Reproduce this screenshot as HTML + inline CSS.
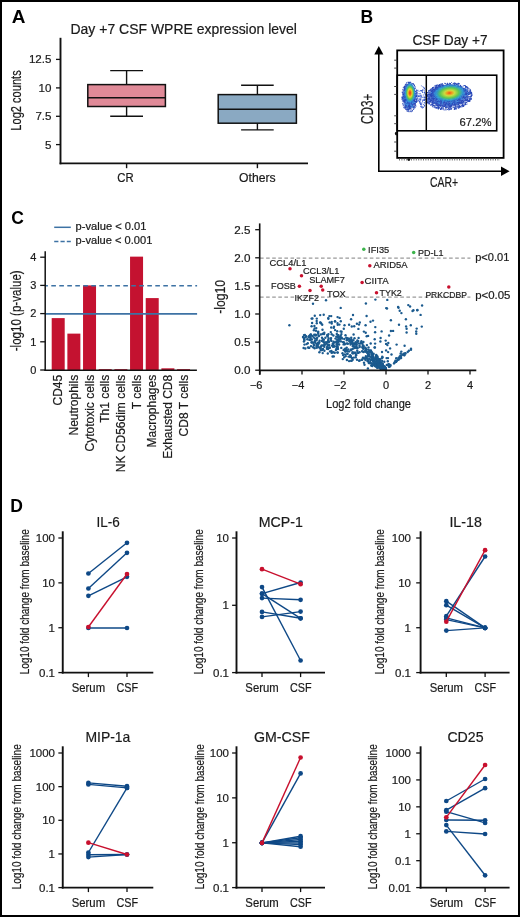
<!DOCTYPE html>
<html><head><meta charset="utf-8"><style>
html,body{margin:0;padding:0;background:#fff;}
svg{display:block;will-change:transform;}
text{font-family:"Liberation Sans", sans-serif;}
</style></head><body>
<svg width="520" height="917" viewBox="0 0 520 917">
<defs>
<radialGradient id="gL" cx="0.5" cy="0.5" r="0.5">
 <stop offset="0" stop-color="#ee3018"/><stop offset="0.2" stop-color="#f27a1e"/><stop offset="0.36" stop-color="#e4d834"/>
 <stop offset="0.56" stop-color="#5cc84e"/><stop offset="0.78" stop-color="#2ea6d8" stop-opacity="0.75"/><stop offset="1" stop-color="#2f6ed0" stop-opacity="0"/>
</radialGradient>
<radialGradient id="gR" cx="0.5" cy="0.5" r="0.5">
 <stop offset="0" stop-color="#f04a1a"/><stop offset="0.15" stop-color="#f29a20"/><stop offset="0.3" stop-color="#cadc40"/>
 <stop offset="0.55" stop-color="#5cc850"/><stop offset="0.78" stop-color="#2eb0d4" stop-opacity="0.7"/><stop offset="1" stop-color="#2f6ed0" stop-opacity="0"/>
</radialGradient>
</defs>
<rect x="0" y="0" width="520" height="917" fill="#fff"/>
<text x="11.8" y="22.7" font-size="17.5" text-anchor="start" fill="#000" font-weight="bold" textLength="13.7" lengthAdjust="spacingAndGlyphs" >A</text>
<text x="70.5" y="33.7" font-size="14" text-anchor="start" fill="#1a1a1a" stroke="#1a1a1a" stroke-width="0.2" textLength="226.4" lengthAdjust="spacingAndGlyphs" >Day +7 CSF WPRE expression level</text>
<line x1="60.5" y1="37.8" x2="60.5" y2="164.3" stroke="#111" stroke-width="1.9" />
<line x1="59.6" y1="163.4" x2="308" y2="163.4" stroke="#111" stroke-width="1.9" />
<line x1="56" y1="59.4" x2="60.4" y2="59.4" stroke="#111" stroke-width="1.3" />
<text x="51.5" y="63.3" font-size="11.6" text-anchor="end" fill="#1a1a1a" stroke="#1a1a1a" stroke-width="0.2" >12.5</text>
<line x1="56" y1="87.9" x2="60.4" y2="87.9" stroke="#111" stroke-width="1.3" />
<text x="51.5" y="91.80000000000001" font-size="11.6" text-anchor="end" fill="#1a1a1a" stroke="#1a1a1a" stroke-width="0.2" >10</text>
<line x1="56" y1="116.3" x2="60.4" y2="116.3" stroke="#111" stroke-width="1.3" />
<text x="51.5" y="120.2" font-size="11.6" text-anchor="end" fill="#1a1a1a" stroke="#1a1a1a" stroke-width="0.2" >7.5</text>
<line x1="56" y1="144.6" x2="60.4" y2="144.6" stroke="#111" stroke-width="1.3" />
<text x="51.5" y="148.5" font-size="11.6" text-anchor="end" fill="#1a1a1a" stroke="#1a1a1a" stroke-width="0.2" >5</text>
<text transform="translate(20.6,100.5) rotate(-90)" font-size="15" text-anchor="middle" fill="#1a1a1a" stroke="#1a1a1a" stroke-width="0.2" textLength="60.4" lengthAdjust="spacingAndGlyphs" >Log2 counts</text>
<line x1="126.6" y1="163.4" x2="126.6" y2="168.2" stroke="#111" stroke-width="1.4" />
<line x1="257.4" y1="163.4" x2="257.4" y2="168.2" stroke="#111" stroke-width="1.4" />
<text x="125.4" y="182.3" font-size="12" text-anchor="middle" fill="#1a1a1a" stroke="#1a1a1a" stroke-width="0.2" textLength="16.4" lengthAdjust="spacingAndGlyphs" >CR</text>
<text x="257.4" y="182.3" font-size="12" text-anchor="middle" fill="#1a1a1a" stroke="#1a1a1a" stroke-width="0.2" textLength="36.6" lengthAdjust="spacingAndGlyphs" >Others</text>
<line x1="126.6" y1="70.6" x2="126.6" y2="116.3" stroke="#111" stroke-width="1.4" />
<line x1="110.2" y1="70.6" x2="143" y2="70.6" stroke="#111" stroke-width="1.4" />
<line x1="110.2" y1="116.3" x2="143" y2="116.3" stroke="#111" stroke-width="1.4" />
<rect x="87.8" y="84.6" width="77.6" height="21.9" fill="#e08a98" stroke="#111" stroke-width="1.5" />
<line x1="87.8" y1="97.8" x2="165.4" y2="97.8" stroke="#111" stroke-width="1.6" />
<line x1="257.4" y1="85.2" x2="257.4" y2="129.9" stroke="#111" stroke-width="1.4" />
<line x1="241.1" y1="85.2" x2="273.7" y2="85.2" stroke="#111" stroke-width="1.4" />
<line x1="241.1" y1="129.9" x2="273.7" y2="129.9" stroke="#111" stroke-width="1.4" />
<rect x="218.2" y="94.6" width="78.2" height="28.6" fill="#8aa9c2" stroke="#111" stroke-width="1.5" />
<line x1="218.2" y1="109.3" x2="296.4" y2="109.3" stroke="#111" stroke-width="1.6" />
<text x="360.6" y="22.7" font-size="17.5" text-anchor="start" fill="#000" font-weight="bold" >B</text>
<text x="412.6" y="45.2" font-size="14" text-anchor="start" fill="#1a1a1a" stroke="#1a1a1a" stroke-width="0.2" textLength="75" lengthAdjust="spacingAndGlyphs" >CSF Day +7</text>
<line x1="378.8" y1="54" x2="378.8" y2="171.3" stroke="#000" stroke-width="1.6" />
<line x1="378.0" y1="171.3" x2="502" y2="171.3" stroke="#000" stroke-width="1.6" />
<path d="M374.3,54.6 L378.8,46 L383.4,54.6 Z" fill="#000"/>
<path d="M501,166.6 L509.6,171.3 L501,176 Z" fill="#000"/>
<text transform="translate(373.3,108.8) rotate(-90)" font-size="16" text-anchor="middle" fill="#1a1a1a" stroke="#1a1a1a" stroke-width="0.2" textLength="30.2" lengthAdjust="spacingAndGlyphs" >CD3+</text>
<text x="444" y="187" font-size="14" text-anchor="middle" fill="#1a1a1a" stroke="#1a1a1a" stroke-width="0.2" textLength="28" lengthAdjust="spacingAndGlyphs" >CAR+</text>
<ellipse cx="409.2" cy="96.2" rx="6.3" ry="12.6" fill="#2e52c0" opacity="0.75"/><ellipse cx="448.5" cy="95.8" rx="20" ry="11" fill="#2e52c0" opacity="0.75" transform="rotate(-4 448.5 95.8)"/><g><path fill="#2848b8" d="M404.4 87.6h0.9v0.9h-0.9zM408.7 81.9h0.9v0.9h-0.9zM414.2 98.3h0.9v0.9h-0.9zM411.0 94.1h0.9v0.9h-0.9zM405.8 97.8h0.9v0.9h-0.9zM412.4 97.0h0.9v0.9h-0.9zM407.8 110.8h0.9v0.9h-0.9zM409.9 92.0h0.9v0.9h-0.9zM407.5 93.5h0.9v0.9h-0.9zM410.0 102.4h0.9v0.9h-0.9zM416.5 94.9h0.9v0.9h-0.9zM403.1 93.5h0.9v0.9h-0.9zM411.4 110.7h0.9v0.9h-0.9zM412.2 91.9h0.9v0.9h-0.9zM407.5 100.5h0.9v0.9h-0.9zM407.3 107.2h0.9v0.9h-0.9zM415.5 96.8h0.9v0.9h-0.9zM411.3 87.5h0.9v0.9h-0.9zM407.1 105.6h0.9v0.9h-0.9zM410.0 96.3h0.9v0.9h-0.9zM409.2 82.6h0.9v0.9h-0.9zM405.4 104.7h0.9v0.9h-0.9zM410.5 96.6h0.9v0.9h-0.9zM411.4 108.7h0.9v0.9h-0.9zM416.2 90.2h0.9v0.9h-0.9zM402.4 94.5h0.9v0.9h-0.9zM414.4 104.6h0.9v0.9h-0.9zM416.7 99.9h0.9v0.9h-0.9zM412.7 100.9h0.9v0.9h-0.9zM405.1 108.8h0.9v0.9h-0.9zM405.4 94.4h0.9v0.9h-0.9zM411.4 98.8h0.9v0.9h-0.9zM406.2 82.3h0.9v0.9h-0.9zM414.7 95.6h0.9v0.9h-0.9zM406.4 100.1h0.9v0.9h-0.9zM404.6 99.0h0.9v0.9h-0.9zM416.3 101.5h0.9v0.9h-0.9zM410.4 92.7h0.9v0.9h-0.9zM408.3 81.7h0.9v0.9h-0.9zM413.0 102.3h0.9v0.9h-0.9zM413.5 107.7h0.9v0.9h-0.9zM416.5 96.4h0.9v0.9h-0.9zM414.1 95.1h0.9v0.9h-0.9zM405.4 97.5h0.9v0.9h-0.9zM407.1 99.3h0.9v0.9h-0.9zM415.0 93.6h0.9v0.9h-0.9zM405.0 96.5h0.9v0.9h-0.9zM410.7 82.7h0.9v0.9h-0.9zM404.8 106.7h0.9v0.9h-0.9zM405.7 85.4h0.9v0.9h-0.9zM405.0 105.9h0.9v0.9h-0.9zM410.0 84.3h0.9v0.9h-0.9zM407.1 110.8h0.9v0.9h-0.9zM414.7 97.3h0.9v0.9h-0.9zM409.2 108.6h0.9v0.9h-0.9zM405.0 85.8h0.9v0.9h-0.9zM405.7 106.1h0.9v0.9h-0.9zM405.0 107.7h0.9v0.9h-0.9zM413.6 87.6h0.9v0.9h-0.9zM403.8 95.3h0.9v0.9h-0.9zM412.8 108.4h0.9v0.9h-0.9zM406.8 84.8h0.9v0.9h-0.9zM408.9 91.2h0.9v0.9h-0.9zM406.8 88.6h0.9v0.9h-0.9zM404.3 87.3h0.9v0.9h-0.9zM411.8 97.4h0.9v0.9h-0.9zM403.5 100.8h0.9v0.9h-0.9zM408.4 94.8h0.9v0.9h-0.9zM406.0 97.6h0.9v0.9h-0.9zM408.0 101.5h0.9v0.9h-0.9zM409.6 98.4h0.9v0.9h-0.9zM404.8 89.3h0.9v0.9h-0.9zM409.8 110.9h0.9v0.9h-0.9zM408.4 105.3h0.9v0.9h-0.9zM414.6 105.6h0.9v0.9h-0.9zM407.7 94.1h0.9v0.9h-0.9zM405.2 94.3h0.9v0.9h-0.9zM411.2 88.2h0.9v0.9h-0.9zM411.6 85.7h0.9v0.9h-0.9zM404.5 90.3h0.9v0.9h-0.9zM416.7 92.5h0.9v0.9h-0.9zM409.3 96.4h0.9v0.9h-0.9zM413.6 103.3h0.9v0.9h-0.9zM404.1 86.1h0.9v0.9h-0.9zM405.8 103.0h0.9v0.9h-0.9zM413.6 95.0h0.9v0.9h-0.9zM416.5 93.0h0.9v0.9h-0.9zM414.4 95.3h0.9v0.9h-0.9zM405.7 100.4h0.9v0.9h-0.9zM408.0 106.1h0.9v0.9h-0.9zM413.5 104.5h0.9v0.9h-0.9zM410.6 83.1h0.9v0.9h-0.9zM414.6 97.4h0.9v0.9h-0.9zM409.9 90.0h0.9v0.9h-0.9zM408.9 101.5h0.9v0.9h-0.9zM405.2 90.3h0.9v0.9h-0.9zM405.6 87.6h0.9v0.9h-0.9zM409.5 89.1h0.9v0.9h-0.9zM405.1 94.8h0.9v0.9h-0.9zM405.0 98.3h0.9v0.9h-0.9zM409.0 85.3h0.9v0.9h-0.9zM401.9 100.5h0.9v0.9h-0.9zM413.4 89.6h0.9v0.9h-0.9zM404.1 101.3h0.9v0.9h-0.9zM407.6 85.3h0.9v0.9h-0.9zM405.8 102.3h0.9v0.9h-0.9zM411.0 91.9h0.9v0.9h-0.9zM415.8 102.1h0.9v0.9h-0.9zM407.6 87.8h0.9v0.9h-0.9zM411.3 94.0h0.9v0.9h-0.9zM403.7 97.9h0.9v0.9h-0.9zM412.5 105.6h0.9v0.9h-0.9zM409.8 93.7h0.9v0.9h-0.9zM410.8 84.9h0.9v0.9h-0.9zM415.7 98.5h0.9v0.9h-0.9zM408.8 94.1h0.9v0.9h-0.9zM411.0 91.3h0.9v0.9h-0.9zM408.6 92.0h0.9v0.9h-0.9zM407.2 110.5h0.9v0.9h-0.9zM406.9 99.1h0.9v0.9h-0.9zM408.3 94.9h0.9v0.9h-0.9zM410.5 97.7h0.9v0.9h-0.9zM403.3 90.7h0.9v0.9h-0.9zM405.6 99.7h0.9v0.9h-0.9zM405.0 90.6h0.9v0.9h-0.9zM415.2 100.7h0.9v0.9h-0.9zM412.7 106.0h0.9v0.9h-0.9zM403.6 92.6h0.9v0.9h-0.9zM408.7 107.2h0.9v0.9h-0.9zM406.8 96.0h0.9v0.9h-0.9zM409.6 104.9h0.9v0.9h-0.9zM407.8 84.9h0.9v0.9h-0.9zM414.6 102.6h0.9v0.9h-0.9zM406.4 92.9h0.9v0.9h-0.9zM412.9 89.6h0.9v0.9h-0.9zM415.7 98.8h0.9v0.9h-0.9zM411.6 98.1h0.9v0.9h-0.9zM409.6 100.7h0.9v0.9h-0.9zM415.4 94.5h0.9v0.9h-0.9zM406.2 90.7h0.9v0.9h-0.9zM409.6 104.4h0.9v0.9h-0.9zM407.4 99.6h0.9v0.9h-0.9zM412.2 86.2h0.9v0.9h-0.9zM412.4 88.2h0.9v0.9h-0.9zM404.4 90.5h0.9v0.9h-0.9zM410.0 97.6h0.9v0.9h-0.9zM409.5 98.6h0.9v0.9h-0.9zM409.2 96.4h0.9v0.9h-0.9zM401.9 99.2h0.9v0.9h-0.9zM407.2 97.3h0.9v0.9h-0.9zM410.7 100.7h0.9v0.9h-0.9zM411.1 93.1h0.9v0.9h-0.9zM409.1 103.6h0.9v0.9h-0.9zM409.7 106.4h0.9v0.9h-0.9zM416.7 99.4h0.9v0.9h-0.9zM406.8 85.3h0.9v0.9h-0.9zM401.6 99.1h0.9v0.9h-0.9zM407.6 108.2h0.9v0.9h-0.9zM408.9 91.4h0.9v0.9h-0.9zM409.4 99.8h0.9v0.9h-0.9zM402.8 105.3h0.9v0.9h-0.9zM405.5 97.9h0.9v0.9h-0.9zM408.5 84.0h0.9v0.9h-0.9zM405.6 83.5h0.9v0.9h-0.9zM406.3 89.2h0.9v0.9h-0.9zM415.6 101.4h0.9v0.9h-0.9zM408.2 97.8h0.9v0.9h-0.9zM405.0 95.5h0.9v0.9h-0.9zM410.6 98.2h0.9v0.9h-0.9zM410.5 95.5h0.9v0.9h-0.9zM409.3 99.1h0.9v0.9h-0.9zM409.0 105.4h0.9v0.9h-0.9zM408.7 98.9h0.9v0.9h-0.9zM411.5 105.7h0.9v0.9h-0.9zM404.7 102.5h0.9v0.9h-0.9zM413.5 103.2h0.9v0.9h-0.9zM414.4 91.2h0.9v0.9h-0.9zM414.7 97.7h0.9v0.9h-0.9zM403.5 97.4h0.9v0.9h-0.9zM408.0 82.2h0.9v0.9h-0.9zM407.5 105.4h0.9v0.9h-0.9zM412.2 101.6h0.9v0.9h-0.9zM415.0 103.4h0.9v0.9h-0.9zM410.4 99.0h0.9v0.9h-0.9zM409.3 100.0h0.9v0.9h-0.9zM409.2 99.4h0.9v0.9h-0.9zM408.8 94.1h0.9v0.9h-0.9zM407.8 99.2h0.9v0.9h-0.9zM405.7 100.2h0.9v0.9h-0.9zM414.1 89.3h0.9v0.9h-0.9zM409.5 85.5h0.9v0.9h-0.9zM404.9 84.1h0.9v0.9h-0.9zM408.3 84.2h0.9v0.9h-0.9zM407.5 99.5h0.9v0.9h-0.9zM411.7 98.6h0.9v0.9h-0.9zM408.9 99.4h0.9v0.9h-0.9zM409.7 85.7h0.9v0.9h-0.9zM412.1 102.5h0.9v0.9h-0.9zM414.1 85.0h0.9v0.9h-0.9zM405.3 100.1h0.9v0.9h-0.9zM408.9 97.5h0.9v0.9h-0.9zM408.9 92.8h0.9v0.9h-0.9zM406.5 95.5h0.9v0.9h-0.9zM415.6 91.5h0.9v0.9h-0.9zM412.2 101.7h0.9v0.9h-0.9zM404.7 100.3h0.9v0.9h-0.9zM410.0 81.9h0.9v0.9h-0.9zM407.5 94.3h0.9v0.9h-0.9zM411.1 88.1h0.9v0.9h-0.9zM414.8 98.8h0.9v0.9h-0.9zM401.8 98.1h0.9v0.9h-0.9zM408.7 102.3h0.9v0.9h-0.9zM405.2 93.3h0.9v0.9h-0.9zM407.1 101.8h0.9v0.9h-0.9zM416.3 95.0h0.9v0.9h-0.9zM407.2 99.3h0.9v0.9h-0.9zM411.8 87.8h0.9v0.9h-0.9zM414.5 103.8h0.9v0.9h-0.9zM411.7 93.1h0.9v0.9h-0.9zM406.2 83.7h0.9v0.9h-0.9zM404.2 87.1h0.9v0.9h-0.9zM403.4 95.7h0.9v0.9h-0.9zM411.0 104.5h0.9v0.9h-0.9zM407.5 104.5h0.9v0.9h-0.9zM402.8 98.4h0.9v0.9h-0.9zM412.2 83.1h0.9v0.9h-0.9zM407.0 85.2h0.9v0.9h-0.9zM405.4 105.0h0.9v0.9h-0.9zM406.9 87.1h0.9v0.9h-0.9zM412.9 100.8h0.9v0.9h-0.9zM403.3 90.2h0.9v0.9h-0.9zM412.5 93.5h0.9v0.9h-0.9zM408.9 93.4h0.9v0.9h-0.9zM416.4 92.7h0.9v0.9h-0.9zM406.5 83.8h0.9v0.9h-0.9zM410.6 106.5h0.9v0.9h-0.9zM411.9 92.6h0.9v0.9h-0.9zM409.0 96.8h0.9v0.9h-0.9zM407.0 100.0h0.9v0.9h-0.9zM414.2 90.4h0.9v0.9h-0.9zM407.6 99.1h0.9v0.9h-0.9zM408.2 88.2h0.9v0.9h-0.9zM411.6 92.5h0.9v0.9h-0.9zM403.8 86.5h0.9v0.9h-0.9zM412.2 106.6h0.9v0.9h-0.9zM414.4 100.7h0.9v0.9h-0.9zM412.8 84.1h0.9v0.9h-0.9zM404.3 101.2h0.9v0.9h-0.9zM412.4 92.3h0.9v0.9h-0.9zM412.1 95.3h0.9v0.9h-0.9zM411.3 97.3h0.9v0.9h-0.9zM410.4 101.7h0.9v0.9h-0.9zM404.1 89.9h0.9v0.9h-0.9zM414.0 100.2h0.9v0.9h-0.9zM413.1 83.6h0.9v0.9h-0.9zM404.5 84.9h0.9v0.9h-0.9zM410.0 108.7h0.9v0.9h-0.9zM411.6 99.9h0.9v0.9h-0.9zM410.3 99.6h0.9v0.9h-0.9zM414.5 104.5h0.9v0.9h-0.9zM408.6 83.0h0.9v0.9h-0.9zM416.1 89.6h0.9v0.9h-0.9zM403.7 85.9h0.9v0.9h-0.9zM412.0 98.8h0.9v0.9h-0.9zM405.7 103.3h0.9v0.9h-0.9zM413.2 101.0h0.9v0.9h-0.9zM404.9 94.2h0.9v0.9h-0.9zM404.7 105.2h0.9v0.9h-0.9zM401.4 96.9h0.9v0.9h-0.9zM409.6 83.9h0.9v0.9h-0.9zM408.6 100.6h0.9v0.9h-0.9zM408.6 82.0h0.9v0.9h-0.9zM406.4 101.4h0.9v0.9h-0.9zM410.6 85.8h0.9v0.9h-0.9zM408.0 104.2h0.9v0.9h-0.9zM413.7 99.3h0.9v0.9h-0.9zM409.7 108.5h0.9v0.9h-0.9zM413.4 102.1h0.9v0.9h-0.9zM414.7 95.5h0.9v0.9h-0.9zM412.8 101.0h0.9v0.9h-0.9zM409.3 95.9h0.9v0.9h-0.9zM412.7 97.2h0.9v0.9h-0.9zM404.9 98.7h0.9v0.9h-0.9zM410.7 111.3h0.9v0.9h-0.9zM404.4 99.9h0.9v0.9h-0.9zM415.3 93.1h0.9v0.9h-0.9zM407.8 96.4h0.9v0.9h-0.9zM403.8 101.0h0.9v0.9h-0.9zM414.2 89.7h0.9v0.9h-0.9zM415.9 98.5h0.9v0.9h-0.9zM402.9 103.8h0.9v0.9h-0.9zM403.4 107.1h0.9v0.9h-0.9zM409.5 82.2h0.9v0.9h-0.9zM402.3 103.6h0.9v0.9h-0.9zM412.4 96.3h0.9v0.9h-0.9zM405.5 97.9h0.9v0.9h-0.9zM408.1 92.7h0.9v0.9h-0.9zM413.2 100.3h0.9v0.9h-0.9zM415.1 87.9h0.9v0.9h-0.9zM412.9 83.3h0.9v0.9h-0.9zM407.2 93.8h0.9v0.9h-0.9zM410.1 95.8h0.9v0.9h-0.9zM411.1 105.0h0.9v0.9h-0.9zM404.4 105.9h0.9v0.9h-0.9zM412.3 104.9h0.9v0.9h-0.9zM411.0 98.7h0.9v0.9h-0.9zM406.5 89.8h0.9v0.9h-0.9zM402.4 89.1h0.9v0.9h-0.9zM409.5 107.4h0.9v0.9h-0.9zM408.9 91.9h0.9v0.9h-0.9zM402.8 98.0h0.9v0.9h-0.9zM404.6 101.5h0.9v0.9h-0.9zM403.9 88.0h0.9v0.9h-0.9zM413.6 98.6h0.9v0.9h-0.9zM408.8 97.8h0.9v0.9h-0.9zM404.9 84.4h0.9v0.9h-0.9zM405.5 104.1h0.9v0.9h-0.9zM416.7 91.8h0.9v0.9h-0.9zM408.3 101.5h0.9v0.9h-0.9zM402.9 100.5h0.9v0.9h-0.9zM404.7 94.9h0.9v0.9h-0.9zM402.4 92.1h0.9v0.9h-0.9zM412.0 102.7h0.9v0.9h-0.9zM410.5 105.7h0.9v0.9h-0.9zM410.9 97.8h0.9v0.9h-0.9zM412.7 95.1h0.9v0.9h-0.9zM408.1 109.6h0.9v0.9h-0.9zM412.1 86.3h0.9v0.9h-0.9zM404.6 104.0h0.9v0.9h-0.9zM412.7 90.0h0.9v0.9h-0.9zM411.5 93.2h0.9v0.9h-0.9zM408.8 85.7h0.9v0.9h-0.9zM410.4 96.6h0.9v0.9h-0.9zM410.0 94.9h0.9v0.9h-0.9zM407.3 94.3h0.9v0.9h-0.9zM406.7 92.5h0.9v0.9h-0.9zM411.2 95.2h0.9v0.9h-0.9zM410.5 98.2h0.9v0.9h-0.9zM403.2 99.4h0.9v0.9h-0.9zM414.8 101.5h0.9v0.9h-0.9zM410.4 92.9h0.9v0.9h-0.9zM409.2 96.8h0.9v0.9h-0.9zM409.5 86.2h0.9v0.9h-0.9zM411.0 101.6h0.9v0.9h-0.9zM408.6 111.3h0.9v0.9h-0.9zM408.2 99.2h0.9v0.9h-0.9zM403.9 101.7h0.9v0.9h-0.9zM412.6 104.2h0.9v0.9h-0.9zM407.3 87.8h0.9v0.9h-0.9zM411.4 102.0h0.9v0.9h-0.9zM403.7 96.9h0.9v0.9h-0.9zM406.7 88.7h0.9v0.9h-0.9zM410.7 83.1h0.9v0.9h-0.9zM409.0 104.8h0.9v0.9h-0.9zM412.0 92.1h0.9v0.9h-0.9zM411.3 95.4h0.9v0.9h-0.9zM409.7 88.6h0.9v0.9h-0.9zM412.4 87.3h0.9v0.9h-0.9zM416.7 101.1h0.9v0.9h-0.9zM408.6 89.7h0.9v0.9h-0.9zM405.8 100.8h0.9v0.9h-0.9zM408.2 87.7h0.9v0.9h-0.9zM410.2 94.4h0.9v0.9h-0.9zM415.7 91.9h0.9v0.9h-0.9zM413.4 90.3h0.9v0.9h-0.9zM409.3 98.2h0.9v0.9h-0.9zM405.7 93.6h0.9v0.9h-0.9zM416.2 90.5h0.9v0.9h-0.9zM407.2 97.3h0.9v0.9h-0.9zM407.4 95.7h0.9v0.9h-0.9zM414.7 95.6h0.9v0.9h-0.9zM401.7 91.8h0.9v0.9h-0.9zM406.4 99.1h0.9v0.9h-0.9zM404.7 104.4h0.9v0.9h-0.9zM412.8 92.7h0.9v0.9h-0.9zM410.1 98.5h0.9v0.9h-0.9zM413.9 92.9h0.9v0.9h-0.9zM404.5 92.0h0.9v0.9h-0.9zM407.8 109.0h0.9v0.9h-0.9zM409.5 85.2h0.9v0.9h-0.9zM411.2 100.9h0.9v0.9h-0.9zM415.6 105.7h0.9v0.9h-0.9zM411.0 100.4h0.9v0.9h-0.9zM403.9 87.0h0.9v0.9h-0.9zM412.5 107.1h0.9v0.9h-0.9zM409.1 104.8h0.9v0.9h-0.9zM415.4 100.6h0.9v0.9h-0.9zM406.2 106.1h0.9v0.9h-0.9zM405.9 88.8h0.9v0.9h-0.9zM408.4 104.3h0.9v0.9h-0.9zM410.9 93.3h0.9v0.9h-0.9zM411.5 95.8h0.9v0.9h-0.9zM405.4 85.8h0.9v0.9h-0.9zM412.9 93.9h0.9v0.9h-0.9zM413.0 87.0h0.9v0.9h-0.9zM407.3 89.3h0.9v0.9h-0.9zM408.6 86.4h0.9v0.9h-0.9zM410.0 91.6h0.9v0.9h-0.9zM409.1 96.5h0.9v0.9h-0.9zM409.8 94.5h0.9v0.9h-0.9zM404.2 94.3h0.9v0.9h-0.9zM416.4 94.3h0.9v0.9h-0.9zM409.7 110.2h0.9v0.9h-0.9zM407.2 91.5h0.9v0.9h-0.9zM409.1 97.5h0.9v0.9h-0.9zM409.0 86.3h0.9v0.9h-0.9zM405.6 99.5h0.9v0.9h-0.9zM403.7 89.1h0.9v0.9h-0.9zM403.2 100.7h0.9v0.9h-0.9zM410.6 92.4h0.9v0.9h-0.9zM409.8 96.9h0.9v0.9h-0.9zM404.5 98.9h0.9v0.9h-0.9zM410.9 87.2h0.9v0.9h-0.9zM411.1 83.9h0.9v0.9h-0.9zM404.1 86.9h0.9v0.9h-0.9zM412.7 87.3h0.9v0.9h-0.9zM416.6 98.3h0.9v0.9h-0.9zM413.0 99.7h0.9v0.9h-0.9zM412.7 101.5h0.9v0.9h-0.9zM414.0 96.7h0.9v0.9h-0.9zM407.2 108.6h0.9v0.9h-0.9zM416.3 92.4h0.9v0.9h-0.9zM408.0 90.8h0.9v0.9h-0.9zM408.4 97.4h0.9v0.9h-0.9zM402.7 100.1h0.9v0.9h-0.9zM406.4 84.6h0.9v0.9h-0.9zM414.4 85.9h0.9v0.9h-0.9zM405.9 86.4h0.9v0.9h-0.9zM414.0 88.1h0.9v0.9h-0.9zM407.6 102.4h0.9v0.9h-0.9zM406.4 84.6h0.9v0.9h-0.9zM411.5 89.4h0.9v0.9h-0.9zM414.1 102.9h0.9v0.9h-0.9zM409.1 97.3h0.9v0.9h-0.9zM412.0 103.9h0.9v0.9h-0.9zM401.8 91.9h0.9v0.9h-0.9zM411.3 89.7h0.9v0.9h-0.9zM409.4 97.1h0.9v0.9h-0.9zM414.7 100.6h0.9v0.9h-0.9zM410.8 87.5h0.9v0.9h-0.9zM414.4 90.9h0.9v0.9h-0.9zM404.8 100.7h0.9v0.9h-0.9zM410.7 90.8h0.9v0.9h-0.9zM414.2 101.0h0.9v0.9h-0.9zM410.4 108.3h0.9v0.9h-0.9zM408.6 87.6h0.9v0.9h-0.9zM406.1 109.1h0.9v0.9h-0.9zM408.2 92.6h0.9v0.9h-0.9zM407.4 96.1h0.9v0.9h-0.9zM408.4 94.8h0.9v0.9h-0.9zM404.1 95.7h0.9v0.9h-0.9zM408.3 105.8h0.9v0.9h-0.9zM414.9 101.7h0.9v0.9h-0.9zM412.5 100.5h0.9v0.9h-0.9zM412.7 93.4h0.9v0.9h-0.9zM410.9 95.3h0.9v0.9h-0.9zM407.5 101.5h0.9v0.9h-0.9zM415.2 104.6h0.9v0.9h-0.9zM406.2 107.3h0.9v0.9h-0.9zM412.3 98.8h0.9v0.9h-0.9zM408.4 103.2h0.9v0.9h-0.9zM406.2 104.9h0.9v0.9h-0.9zM412.4 87.5h0.9v0.9h-0.9zM405.7 90.6h0.9v0.9h-0.9zM407.1 98.5h0.9v0.9h-0.9zM407.7 104.4h0.9v0.9h-0.9zM404.6 89.7h0.9v0.9h-0.9zM409.1 94.2h0.9v0.9h-0.9zM414.4 104.7h0.9v0.9h-0.9zM414.5 102.2h0.9v0.9h-0.9zM407.9 108.1h0.9v0.9h-0.9zM411.4 103.2h0.9v0.9h-0.9zM407.3 86.9h0.9v0.9h-0.9zM403.9 87.0h0.9v0.9h-0.9zM411.4 105.3h0.9v0.9h-0.9zM414.9 105.7h0.9v0.9h-0.9zM404.5 106.1h0.9v0.9h-0.9zM403.6 105.4h0.9v0.9h-0.9zM411.5 96.4h0.9v0.9h-0.9zM405.6 98.4h0.9v0.9h-0.9zM411.4 104.5h0.9v0.9h-0.9zM409.0 108.0h0.9v0.9h-0.9zM403.7 100.9h0.9v0.9h-0.9zM416.1 99.5h0.9v0.9h-0.9zM407.3 91.0h0.9v0.9h-0.9zM401.7 96.2h0.9v0.9h-0.9zM409.9 89.1h0.9v0.9h-0.9zM413.2 109.0h0.9v0.9h-0.9zM414.2 99.3h0.9v0.9h-0.9zM412.3 98.3h0.9v0.9h-0.9zM416.1 95.6h0.9v0.9h-0.9zM411.4 97.4h0.9v0.9h-0.9zM412.0 110.7h0.9v0.9h-0.9zM411.1 98.1h0.9v0.9h-0.9zM415.9 96.1h0.9v0.9h-0.9zM409.9 89.9h0.9v0.9h-0.9zM411.0 102.6h0.9v0.9h-0.9zM408.2 86.7h0.9v0.9h-0.9zM413.1 97.0h0.9v0.9h-0.9zM408.3 83.9h0.9v0.9h-0.9zM414.0 90.8h0.9v0.9h-0.9zM409.0 98.6h0.9v0.9h-0.9zM408.9 106.1h0.9v0.9h-0.9zM409.3 104.9h0.9v0.9h-0.9zM414.2 93.8h0.9v0.9h-0.9zM405.8 92.2h0.9v0.9h-0.9zM406.1 101.3h0.9v0.9h-0.9zM410.2 89.4h0.9v0.9h-0.9zM409.5 97.2h0.9v0.9h-0.9zM413.1 96.8h0.9v0.9h-0.9zM409.6 102.4h0.9v0.9h-0.9zM407.9 108.9h0.9v0.9h-0.9zM411.3 110.6h0.9v0.9h-0.9zM407.3 84.3h0.9v0.9h-0.9zM401.9 97.6h0.9v0.9h-0.9zM411.8 99.2h0.9v0.9h-0.9zM403.8 98.8h0.9v0.9h-0.9zM406.3 104.6h0.9v0.9h-0.9zM402.1 94.6h0.9v0.9h-0.9zM404.3 89.2h0.9v0.9h-0.9zM407.8 103.1h0.9v0.9h-0.9zM407.7 92.9h0.9v0.9h-0.9zM403.9 100.1h0.9v0.9h-0.9zM409.9 95.9h0.9v0.9h-0.9zM405.4 96.6h0.9v0.9h-0.9zM411.6 104.0h0.9v0.9h-0.9zM410.7 94.7h0.9v0.9h-0.9zM408.6 95.4h0.9v0.9h-0.9zM409.7 103.6h0.9v0.9h-0.9zM409.0 106.4h0.9v0.9h-0.9zM406.7 97.0h0.9v0.9h-0.9zM403.8 98.0h0.9v0.9h-0.9zM410.2 81.7h0.9v0.9h-0.9zM403.0 96.1h0.9v0.9h-0.9zM406.1 107.2h0.9v0.9h-0.9zM404.5 88.6h0.9v0.9h-0.9zM415.0 90.9h0.9v0.9h-0.9zM409.9 107.9h0.9v0.9h-0.9zM408.1 94.5h0.9v0.9h-0.9zM403.8 97.0h0.9v0.9h-0.9zM408.0 83.6h0.9v0.9h-0.9zM403.9 100.3h0.9v0.9h-0.9zM413.3 96.1h0.9v0.9h-0.9zM415.1 103.2h0.9v0.9h-0.9zM406.0 87.9h0.9v0.9h-0.9zM412.3 104.4h0.9v0.9h-0.9zM404.4 88.3h0.9v0.9h-0.9zM409.9 93.9h0.9v0.9h-0.9zM402.4 103.0h0.9v0.9h-0.9zM405.8 107.8h0.9v0.9h-0.9zM403.1 94.1h0.9v0.9h-0.9zM407.5 81.8h0.9v0.9h-0.9zM404.0 96.9h0.9v0.9h-0.9zM416.6 101.0h0.9v0.9h-0.9zM407.0 105.7h0.9v0.9h-0.9zM412.5 93.4h0.9v0.9h-0.9zM407.1 109.4h0.9v0.9h-0.9zM402.4 90.5h0.9v0.9h-0.9zM405.2 97.6h0.9v0.9h-0.9zM411.4 96.5h0.9v0.9h-0.9zM411.6 102.7h0.9v0.9h-0.9zM407.1 101.8h0.9v0.9h-0.9zM407.6 107.7h0.9v0.9h-0.9zM405.6 95.5h0.9v0.9h-0.9zM413.5 106.9h0.9v0.9h-0.9zM409.8 85.9h0.9v0.9h-0.9zM412.0 91.0h0.9v0.9h-0.9zM413.0 90.9h0.9v0.9h-0.9zM412.8 96.6h0.9v0.9h-0.9zM408.6 83.0h0.9v0.9h-0.9zM413.1 96.8h0.9v0.9h-0.9zM411.3 93.8h0.9v0.9h-0.9zM414.8 95.6h0.9v0.9h-0.9zM404.4 101.1h0.9v0.9h-0.9zM405.4 98.7h0.9v0.9h-0.9zM406.8 108.8h0.9v0.9h-0.9zM409.4 105.6h0.9v0.9h-0.9zM415.2 96.3h0.9v0.9h-0.9zM403.0 94.7h0.9v0.9h-0.9zM407.5 100.1h0.9v0.9h-0.9zM411.4 97.3h0.9v0.9h-0.9zM407.3 89.4h0.9v0.9h-0.9zM409.6 104.1h0.9v0.9h-0.9zM412.3 88.6h0.9v0.9h-0.9zM410.9 98.0h0.9v0.9h-0.9zM407.5 108.6h0.9v0.9h-0.9zM416.3 100.6h0.9v0.9h-0.9zM413.7 99.4h0.9v0.9h-0.9zM412.2 86.9h0.9v0.9h-0.9zM414.2 100.5h0.9v0.9h-0.9zM411.3 105.1h0.9v0.9h-0.9zM402.3 97.2h0.9v0.9h-0.9zM414.3 107.6h0.9v0.9h-0.9zM412.1 91.6h0.9v0.9h-0.9zM413.2 95.5h0.9v0.9h-0.9zM415.2 91.4h0.9v0.9h-0.9zM412.5 99.7h0.9v0.9h-0.9zM408.7 94.5h0.9v0.9h-0.9zM406.8 103.1h0.9v0.9h-0.9zM404.8 95.6h0.9v0.9h-0.9zM408.7 105.5h0.9v0.9h-0.9zM409.3 81.8h0.9v0.9h-0.9zM416.5 99.2h0.9v0.9h-0.9zM408.8 83.6h0.9v0.9h-0.9zM405.4 90.0h0.9v0.9h-0.9zM410.3 102.3h0.9v0.9h-0.9zM410.0 97.9h0.9v0.9h-0.9zM406.5 103.8h0.9v0.9h-0.9zM408.0 109.5h0.9v0.9h-0.9zM414.9 86.7h0.9v0.9h-0.9zM414.0 99.3h0.9v0.9h-0.9zM406.8 102.2h0.9v0.9h-0.9zM407.3 107.3h0.9v0.9h-0.9zM407.0 87.6h0.9v0.9h-0.9zM413.8 93.4h0.9v0.9h-0.9zM405.0 88.8h0.9v0.9h-0.9zM410.8 84.4h0.9v0.9h-0.9zM409.6 97.8h0.9v0.9h-0.9zM407.6 89.2h0.9v0.9h-0.9zM415.4 98.2h0.9v0.9h-0.9zM406.2 103.8h0.9v0.9h-0.9zM408.2 90.6h0.9v0.9h-0.9zM412.1 96.1h0.9v0.9h-0.9zM407.5 110.4h0.9v0.9h-0.9zM404.2 88.5h0.9v0.9h-0.9zM407.8 107.7h0.9v0.9h-0.9zM408.9 88.8h0.9v0.9h-0.9zM415.3 94.9h0.9v0.9h-0.9zM403.6 98.4h0.9v0.9h-0.9zM411.1 98.4h0.9v0.9h-0.9zM404.1 90.9h0.9v0.9h-0.9zM414.0 84.4h0.9v0.9h-0.9zM404.4 96.7h0.9v0.9h-0.9zM409.6 85.5h0.9v0.9h-0.9zM414.8 106.9h0.9v0.9h-0.9zM403.6 93.2h0.9v0.9h-0.9zM407.3 94.6h0.9v0.9h-0.9zM407.8 100.1h0.9v0.9h-0.9zM411.9 84.7h0.9v0.9h-0.9zM413.8 106.1h0.9v0.9h-0.9zM410.5 108.3h0.9v0.9h-0.9zM415.0 96.7h0.9v0.9h-0.9zM410.7 85.7h0.9v0.9h-0.9zM408.6 87.3h0.9v0.9h-0.9zM405.8 92.9h0.9v0.9h-0.9zM403.3 87.4h0.9v0.9h-0.9zM405.0 90.4h0.9v0.9h-0.9zM406.2 100.3h0.9v0.9h-0.9zM407.3 88.6h0.9v0.9h-0.9zM405.2 106.0h0.9v0.9h-0.9zM406.3 88.2h0.9v0.9h-0.9zM405.2 106.9h0.9v0.9h-0.9zM407.1 88.2h0.9v0.9h-0.9zM402.1 93.3h0.9v0.9h-0.9zM411.4 92.6h0.9v0.9h-0.9zM413.0 93.4h0.9v0.9h-0.9zM406.1 86.4h0.9v0.9h-0.9zM407.4 99.3h0.9v0.9h-0.9zM408.5 93.6h0.9v0.9h-0.9zM412.0 110.3h0.9v0.9h-0.9zM402.5 96.6h0.9v0.9h-0.9zM403.8 107.7h0.9v0.9h-0.9zM411.9 110.0h0.9v0.9h-0.9zM408.5 109.1h0.9v0.9h-0.9zM414.0 90.2h0.9v0.9h-0.9zM414.8 93.5h0.9v0.9h-0.9zM411.0 101.2h0.9v0.9h-0.9zM413.6 96.6h0.9v0.9h-0.9zM409.0 106.5h0.9v0.9h-0.9zM407.4 89.6h0.9v0.9h-0.9zM404.5 91.4h0.9v0.9h-0.9zM405.5 88.2h0.9v0.9h-0.9zM410.1 93.1h0.9v0.9h-0.9zM409.4 95.8h0.9v0.9h-0.9zM413.9 89.5h0.9v0.9h-0.9zM407.7 99.4h0.9v0.9h-0.9zM409.8 84.1h0.9v0.9h-0.9zM404.2 107.6h0.9v0.9h-0.9zM406.2 97.9h0.9v0.9h-0.9zM410.5 101.7h0.9v0.9h-0.9zM408.6 87.9h0.9v0.9h-0.9zM408.4 107.6h0.9v0.9h-0.9zM410.1 102.4h0.9v0.9h-0.9zM411.2 93.6h0.9v0.9h-0.9zM412.3 93.1h0.9v0.9h-0.9zM406.0 110.4h0.9v0.9h-0.9zM404.6 107.0h0.9v0.9h-0.9zM411.1 105.0h0.9v0.9h-0.9zM410.9 102.3h0.9v0.9h-0.9zM406.9 87.1h0.9v0.9h-0.9zM408.3 103.0h0.9v0.9h-0.9zM407.6 97.7h0.9v0.9h-0.9zM405.7 95.5h0.9v0.9h-0.9zM414.0 84.9h0.9v0.9h-0.9zM412.2 93.8h0.9v0.9h-0.9zM413.0 90.1h0.9v0.9h-0.9zM405.8 94.8h0.9v0.9h-0.9zM414.0 88.2h0.9v0.9h-0.9zM408.3 97.3h0.9v0.9h-0.9zM405.2 104.6h0.9v0.9h-0.9zM414.3 96.8h0.9v0.9h-0.9zM406.8 85.2h0.9v0.9h-0.9zM402.8 87.3h0.9v0.9h-0.9zM401.5 96.9h0.9v0.9h-0.9zM403.6 92.9h0.9v0.9h-0.9zM401.5 97.6h0.9v0.9h-0.9zM417.2 96.5h0.9v0.9h-0.9zM412.9 100.0h0.9v0.9h-0.9zM411.8 86.9h0.9v0.9h-0.9zM409.2 101.0h0.9v0.9h-0.9zM413.3 106.6h0.9v0.9h-0.9zM407.5 93.4h0.9v0.9h-0.9zM412.3 86.2h0.9v0.9h-0.9zM408.8 89.6h0.9v0.9h-0.9zM405.3 100.5h0.9v0.9h-0.9zM402.8 101.7h0.9v0.9h-0.9zM408.0 94.0h0.9v0.9h-0.9zM410.0 90.3h0.9v0.9h-0.9zM409.2 105.0h0.9v0.9h-0.9zM414.5 91.3h0.9v0.9h-0.9z"/><path fill="#2848b8" d="M446.8 103.1h0.9v0.9h-0.9zM445.1 97.7h0.9v0.9h-0.9zM435.8 86.1h0.9v0.9h-0.9zM436.5 103.1h0.9v0.9h-0.9zM440.6 94.7h0.9v0.9h-0.9zM453.8 103.5h0.9v0.9h-0.9zM457.2 86.1h0.9v0.9h-0.9zM436.7 89.5h0.9v0.9h-0.9zM444.6 104.5h0.9v0.9h-0.9zM457.5 89.8h0.9v0.9h-0.9zM432.1 94.6h0.9v0.9h-0.9zM449.9 108.9h0.9v0.9h-0.9zM460.5 103.7h0.9v0.9h-0.9zM439.1 98.2h0.9v0.9h-0.9zM459.6 107.1h0.9v0.9h-0.9zM447.1 88.3h0.9v0.9h-0.9zM456.1 106.5h0.9v0.9h-0.9zM444.3 88.4h0.9v0.9h-0.9zM465.8 94.4h0.9v0.9h-0.9zM458.7 101.4h0.9v0.9h-0.9zM446.1 91.6h0.9v0.9h-0.9zM464.3 89.7h0.9v0.9h-0.9zM466.4 98.9h0.9v0.9h-0.9zM444.8 87.8h0.9v0.9h-0.9zM432.6 87.1h0.9v0.9h-0.9zM463.2 105.4h0.9v0.9h-0.9zM441.9 83.3h0.9v0.9h-0.9zM442.2 88.6h0.9v0.9h-0.9zM439.0 97.8h0.9v0.9h-0.9zM445.8 87.7h0.9v0.9h-0.9zM435.0 97.2h0.9v0.9h-0.9zM426.1 100.0h0.9v0.9h-0.9zM450.5 91.7h0.9v0.9h-0.9zM436.9 107.3h0.9v0.9h-0.9zM452.9 94.5h0.9v0.9h-0.9zM432.6 98.9h0.9v0.9h-0.9zM459.3 86.9h0.9v0.9h-0.9zM451.9 88.0h0.9v0.9h-0.9zM457.8 106.3h0.9v0.9h-0.9zM460.2 89.4h0.9v0.9h-0.9zM436.9 84.4h0.9v0.9h-0.9zM437.7 94.7h0.9v0.9h-0.9zM425.7 94.5h0.9v0.9h-0.9zM440.7 86.9h0.9v0.9h-0.9zM436.5 104.7h0.9v0.9h-0.9zM433.1 104.9h0.9v0.9h-0.9zM446.4 100.6h0.9v0.9h-0.9zM464.4 84.9h0.9v0.9h-0.9zM440.0 99.4h0.9v0.9h-0.9zM449.4 102.6h0.9v0.9h-0.9zM441.5 96.4h0.9v0.9h-0.9zM454.1 98.4h0.9v0.9h-0.9zM439.1 92.3h0.9v0.9h-0.9zM442.9 90.6h0.9v0.9h-0.9zM448.7 88.5h0.9v0.9h-0.9zM440.6 85.4h0.9v0.9h-0.9zM441.9 85.1h0.9v0.9h-0.9zM433.6 106.8h0.9v0.9h-0.9zM459.3 96.5h0.9v0.9h-0.9zM453.9 91.9h0.9v0.9h-0.9zM450.2 96.4h0.9v0.9h-0.9zM431.4 100.1h0.9v0.9h-0.9zM435.7 96.1h0.9v0.9h-0.9zM466.9 91.1h0.9v0.9h-0.9zM456.1 98.3h0.9v0.9h-0.9zM447.5 84.2h0.9v0.9h-0.9zM462.0 104.6h0.9v0.9h-0.9zM447.3 83.6h0.9v0.9h-0.9zM444.7 103.5h0.9v0.9h-0.9zM426.8 102.0h0.9v0.9h-0.9zM464.8 104.4h0.9v0.9h-0.9zM449.1 101.0h0.9v0.9h-0.9zM441.1 98.2h0.9v0.9h-0.9zM456.4 87.6h0.9v0.9h-0.9zM425.6 97.5h0.9v0.9h-0.9zM458.6 87.2h0.9v0.9h-0.9zM448.0 86.3h0.9v0.9h-0.9zM451.3 102.6h0.9v0.9h-0.9zM466.3 96.7h0.9v0.9h-0.9zM466.3 94.1h0.9v0.9h-0.9zM436.0 89.1h0.9v0.9h-0.9zM426.5 98.3h0.9v0.9h-0.9zM444.7 84.8h0.9v0.9h-0.9zM454.1 104.0h0.9v0.9h-0.9zM457.7 93.4h0.9v0.9h-0.9zM456.1 83.8h0.9v0.9h-0.9zM457.2 104.8h0.9v0.9h-0.9zM444.8 88.8h0.9v0.9h-0.9zM436.7 86.6h0.9v0.9h-0.9zM451.2 86.0h0.9v0.9h-0.9zM447.6 103.9h0.9v0.9h-0.9zM453.0 96.8h0.9v0.9h-0.9zM430.8 92.8h0.9v0.9h-0.9zM460.1 87.2h0.9v0.9h-0.9zM470.8 91.7h0.9v0.9h-0.9zM461.3 105.0h0.9v0.9h-0.9zM444.4 90.1h0.9v0.9h-0.9zM447.4 86.1h0.9v0.9h-0.9zM466.8 86.8h0.9v0.9h-0.9zM448.8 89.1h0.9v0.9h-0.9zM436.4 94.5h0.9v0.9h-0.9zM437.6 97.8h0.9v0.9h-0.9zM449.5 100.6h0.9v0.9h-0.9zM445.4 99.5h0.9v0.9h-0.9zM469.5 98.8h0.9v0.9h-0.9zM442.8 98.1h0.9v0.9h-0.9zM464.1 98.0h0.9v0.9h-0.9zM459.9 95.3h0.9v0.9h-0.9zM455.0 102.6h0.9v0.9h-0.9zM459.5 92.8h0.9v0.9h-0.9zM456.4 89.8h0.9v0.9h-0.9zM436.2 85.1h0.9v0.9h-0.9zM436.6 97.5h0.9v0.9h-0.9zM431.1 98.4h0.9v0.9h-0.9zM427.7 96.6h0.9v0.9h-0.9zM439.7 96.2h0.9v0.9h-0.9zM452.2 103.2h0.9v0.9h-0.9zM445.5 96.2h0.9v0.9h-0.9zM435.6 96.2h0.9v0.9h-0.9zM430.4 100.1h0.9v0.9h-0.9zM438.8 93.4h0.9v0.9h-0.9zM442.2 88.7h0.9v0.9h-0.9zM442.5 92.2h0.9v0.9h-0.9zM433.2 97.7h0.9v0.9h-0.9zM429.3 100.1h0.9v0.9h-0.9zM455.7 83.7h0.9v0.9h-0.9zM451.3 99.8h0.9v0.9h-0.9zM462.3 104.1h0.9v0.9h-0.9zM463.5 104.8h0.9v0.9h-0.9zM451.4 101.2h0.9v0.9h-0.9zM465.2 97.0h0.9v0.9h-0.9zM432.1 95.1h0.9v0.9h-0.9zM457.2 83.8h0.9v0.9h-0.9zM446.9 97.7h0.9v0.9h-0.9zM438.1 89.8h0.9v0.9h-0.9zM447.2 83.4h0.9v0.9h-0.9zM439.5 106.4h0.9v0.9h-0.9zM442.1 92.0h0.9v0.9h-0.9zM439.7 95.4h0.9v0.9h-0.9zM455.3 87.6h0.9v0.9h-0.9zM431.5 95.8h0.9v0.9h-0.9zM438.9 97.8h0.9v0.9h-0.9zM451.5 96.0h0.9v0.9h-0.9zM443.5 96.7h0.9v0.9h-0.9zM450.5 107.6h0.9v0.9h-0.9zM428.5 90.7h0.9v0.9h-0.9zM433.0 88.9h0.9v0.9h-0.9zM440.9 98.5h0.9v0.9h-0.9zM466.2 92.4h0.9v0.9h-0.9zM459.6 84.7h0.9v0.9h-0.9zM457.5 85.3h0.9v0.9h-0.9zM441.7 99.3h0.9v0.9h-0.9zM448.0 101.9h0.9v0.9h-0.9zM440.8 86.5h0.9v0.9h-0.9zM426.8 98.7h0.9v0.9h-0.9zM460.1 102.7h0.9v0.9h-0.9zM452.4 98.6h0.9v0.9h-0.9zM467.9 96.4h0.9v0.9h-0.9zM449.8 94.4h0.9v0.9h-0.9zM445.2 101.9h0.9v0.9h-0.9zM448.6 103.1h0.9v0.9h-0.9zM433.3 99.7h0.9v0.9h-0.9zM463.9 104.5h0.9v0.9h-0.9zM445.3 105.3h0.9v0.9h-0.9zM463.6 90.8h0.9v0.9h-0.9zM459.6 99.3h0.9v0.9h-0.9zM446.5 103.8h0.9v0.9h-0.9zM461.4 97.9h0.9v0.9h-0.9zM440.7 97.3h0.9v0.9h-0.9zM444.7 88.1h0.9v0.9h-0.9zM447.2 98.8h0.9v0.9h-0.9zM435.5 87.7h0.9v0.9h-0.9zM459.9 88.9h0.9v0.9h-0.9zM442.9 98.4h0.9v0.9h-0.9zM464.0 89.2h0.9v0.9h-0.9zM461.9 93.3h0.9v0.9h-0.9zM445.8 97.8h0.9v0.9h-0.9zM468.4 100.8h0.9v0.9h-0.9zM469.2 101.1h0.9v0.9h-0.9zM454.6 101.2h0.9v0.9h-0.9zM463.2 96.5h0.9v0.9h-0.9zM449.1 93.0h0.9v0.9h-0.9zM459.5 88.3h0.9v0.9h-0.9zM467.2 99.6h0.9v0.9h-0.9zM442.6 108.6h0.9v0.9h-0.9zM438.5 96.7h0.9v0.9h-0.9zM434.3 97.3h0.9v0.9h-0.9zM429.7 94.9h0.9v0.9h-0.9zM439.7 105.2h0.9v0.9h-0.9zM450.6 107.6h0.9v0.9h-0.9zM453.0 101.7h0.9v0.9h-0.9zM439.0 95.0h0.9v0.9h-0.9zM465.1 103.6h0.9v0.9h-0.9zM431.9 104.4h0.9v0.9h-0.9zM447.1 82.8h0.9v0.9h-0.9zM444.2 96.1h0.9v0.9h-0.9zM439.0 85.1h0.9v0.9h-0.9zM435.4 87.0h0.9v0.9h-0.9zM444.9 105.6h0.9v0.9h-0.9zM440.2 96.0h0.9v0.9h-0.9zM466.0 93.5h0.9v0.9h-0.9zM435.5 89.3h0.9v0.9h-0.9zM456.7 90.4h0.9v0.9h-0.9zM454.7 106.1h0.9v0.9h-0.9zM439.7 97.2h0.9v0.9h-0.9zM428.2 91.2h0.9v0.9h-0.9zM453.9 83.4h0.9v0.9h-0.9zM442.7 102.9h0.9v0.9h-0.9zM456.9 91.7h0.9v0.9h-0.9zM464.6 97.9h0.9v0.9h-0.9zM454.0 83.0h0.9v0.9h-0.9zM470.3 97.4h0.9v0.9h-0.9zM439.0 85.4h0.9v0.9h-0.9zM452.5 90.5h0.9v0.9h-0.9zM457.3 105.9h0.9v0.9h-0.9zM433.3 94.2h0.9v0.9h-0.9zM441.4 107.9h0.9v0.9h-0.9zM442.3 98.5h0.9v0.9h-0.9zM455.7 94.3h0.9v0.9h-0.9zM447.0 97.2h0.9v0.9h-0.9zM462.0 105.9h0.9v0.9h-0.9zM449.0 96.8h0.9v0.9h-0.9zM455.2 95.5h0.9v0.9h-0.9zM448.7 98.0h0.9v0.9h-0.9zM440.7 90.9h0.9v0.9h-0.9zM445.0 89.0h0.9v0.9h-0.9zM440.3 94.5h0.9v0.9h-0.9zM468.0 88.2h0.9v0.9h-0.9zM434.8 92.7h0.9v0.9h-0.9zM431.2 91.6h0.9v0.9h-0.9zM436.0 99.5h0.9v0.9h-0.9zM443.4 101.1h0.9v0.9h-0.9zM455.3 107.6h0.9v0.9h-0.9zM470.2 98.3h0.9v0.9h-0.9zM429.3 99.4h0.9v0.9h-0.9zM452.3 89.4h0.9v0.9h-0.9zM459.9 99.3h0.9v0.9h-0.9zM459.7 97.8h0.9v0.9h-0.9zM457.9 91.8h0.9v0.9h-0.9zM454.1 87.7h0.9v0.9h-0.9zM441.2 85.3h0.9v0.9h-0.9zM444.8 82.9h0.9v0.9h-0.9zM451.7 86.4h0.9v0.9h-0.9zM469.1 93.8h0.9v0.9h-0.9zM426.5 96.8h0.9v0.9h-0.9zM460.9 102.6h0.9v0.9h-0.9zM457.0 100.6h0.9v0.9h-0.9zM434.9 87.0h0.9v0.9h-0.9zM459.4 92.8h0.9v0.9h-0.9zM437.6 106.1h0.9v0.9h-0.9zM463.9 93.3h0.9v0.9h-0.9zM442.2 105.8h0.9v0.9h-0.9zM450.6 95.1h0.9v0.9h-0.9zM435.5 93.4h0.9v0.9h-0.9zM451.8 87.3h0.9v0.9h-0.9zM449.0 85.1h0.9v0.9h-0.9zM446.9 95.9h0.9v0.9h-0.9zM445.7 107.9h0.9v0.9h-0.9zM465.6 90.4h0.9v0.9h-0.9zM439.5 87.7h0.9v0.9h-0.9zM451.5 86.1h0.9v0.9h-0.9zM449.3 92.2h0.9v0.9h-0.9zM463.7 100.7h0.9v0.9h-0.9zM454.3 103.6h0.9v0.9h-0.9zM448.2 104.8h0.9v0.9h-0.9zM425.9 93.7h0.9v0.9h-0.9zM454.4 99.9h0.9v0.9h-0.9zM471.5 95.2h0.9v0.9h-0.9zM451.7 95.1h0.9v0.9h-0.9zM455.1 107.8h0.9v0.9h-0.9zM462.4 101.9h0.9v0.9h-0.9zM449.4 100.2h0.9v0.9h-0.9zM440.5 91.5h0.9v0.9h-0.9zM467.7 96.8h0.9v0.9h-0.9zM462.0 93.8h0.9v0.9h-0.9zM455.2 91.5h0.9v0.9h-0.9zM461.5 100.3h0.9v0.9h-0.9zM455.8 108.0h0.9v0.9h-0.9zM435.3 95.0h0.9v0.9h-0.9zM466.7 88.6h0.9v0.9h-0.9zM448.5 104.4h0.9v0.9h-0.9zM465.4 92.9h0.9v0.9h-0.9zM463.3 93.6h0.9v0.9h-0.9zM461.4 91.0h0.9v0.9h-0.9zM445.4 95.9h0.9v0.9h-0.9zM433.0 91.9h0.9v0.9h-0.9zM454.7 101.9h0.9v0.9h-0.9zM438.1 101.1h0.9v0.9h-0.9zM444.0 85.1h0.9v0.9h-0.9zM448.5 106.1h0.9v0.9h-0.9zM440.5 85.1h0.9v0.9h-0.9zM439.3 91.9h0.9v0.9h-0.9zM460.2 90.8h0.9v0.9h-0.9zM466.5 86.4h0.9v0.9h-0.9zM460.5 93.4h0.9v0.9h-0.9zM452.5 97.3h0.9v0.9h-0.9zM435.7 84.8h0.9v0.9h-0.9zM439.9 88.9h0.9v0.9h-0.9zM458.8 102.3h0.9v0.9h-0.9zM463.9 87.9h0.9v0.9h-0.9zM458.1 104.1h0.9v0.9h-0.9zM470.2 92.8h0.9v0.9h-0.9zM461.9 97.6h0.9v0.9h-0.9zM467.2 100.6h0.9v0.9h-0.9zM434.5 89.7h0.9v0.9h-0.9zM445.8 85.5h0.9v0.9h-0.9zM433.1 94.2h0.9v0.9h-0.9zM442.8 88.6h0.9v0.9h-0.9zM428.5 101.0h0.9v0.9h-0.9zM454.7 83.6h0.9v0.9h-0.9zM450.9 105.9h0.9v0.9h-0.9zM456.1 97.9h0.9v0.9h-0.9zM449.9 107.7h0.9v0.9h-0.9zM436.8 91.4h0.9v0.9h-0.9zM438.0 95.1h0.9v0.9h-0.9zM453.3 92.9h0.9v0.9h-0.9zM465.0 103.3h0.9v0.9h-0.9zM434.2 90.6h0.9v0.9h-0.9zM454.7 92.9h0.9v0.9h-0.9zM458.8 98.2h0.9v0.9h-0.9zM427.9 96.1h0.9v0.9h-0.9zM453.9 102.6h0.9v0.9h-0.9zM432.8 92.4h0.9v0.9h-0.9zM465.4 101.7h0.9v0.9h-0.9zM449.6 93.0h0.9v0.9h-0.9zM440.7 86.8h0.9v0.9h-0.9zM447.1 99.0h0.9v0.9h-0.9zM428.0 94.7h0.9v0.9h-0.9zM457.5 104.4h0.9v0.9h-0.9zM451.2 99.0h0.9v0.9h-0.9zM450.4 97.3h0.9v0.9h-0.9zM448.6 87.5h0.9v0.9h-0.9zM438.2 96.1h0.9v0.9h-0.9zM467.9 91.5h0.9v0.9h-0.9zM452.1 93.0h0.9v0.9h-0.9zM433.4 92.1h0.9v0.9h-0.9zM427.2 101.8h0.9v0.9h-0.9zM459.2 102.4h0.9v0.9h-0.9zM445.6 91.2h0.9v0.9h-0.9zM457.1 99.8h0.9v0.9h-0.9zM438.5 84.8h0.9v0.9h-0.9zM456.7 86.6h0.9v0.9h-0.9zM442.3 100.7h0.9v0.9h-0.9zM442.6 97.9h0.9v0.9h-0.9zM452.4 102.3h0.9v0.9h-0.9zM448.5 109.5h0.9v0.9h-0.9zM433.2 101.7h0.9v0.9h-0.9zM458.0 83.3h0.9v0.9h-0.9zM461.5 86.5h0.9v0.9h-0.9zM438.7 92.0h0.9v0.9h-0.9zM457.8 92.3h0.9v0.9h-0.9zM438.6 106.3h0.9v0.9h-0.9zM439.9 94.0h0.9v0.9h-0.9zM453.3 104.4h0.9v0.9h-0.9zM455.9 87.6h0.9v0.9h-0.9zM464.2 90.7h0.9v0.9h-0.9zM441.4 89.4h0.9v0.9h-0.9zM454.5 102.1h0.9v0.9h-0.9zM449.2 83.1h0.9v0.9h-0.9zM464.9 90.4h0.9v0.9h-0.9zM458.6 94.2h0.9v0.9h-0.9zM432.6 92.6h0.9v0.9h-0.9zM449.6 96.8h0.9v0.9h-0.9zM435.0 102.9h0.9v0.9h-0.9zM428.4 101.7h0.9v0.9h-0.9zM442.2 92.0h0.9v0.9h-0.9zM455.7 93.7h0.9v0.9h-0.9zM463.3 105.8h0.9v0.9h-0.9zM455.1 105.8h0.9v0.9h-0.9zM453.3 82.9h0.9v0.9h-0.9zM462.5 87.9h0.9v0.9h-0.9zM460.6 94.9h0.9v0.9h-0.9zM446.7 94.7h0.9v0.9h-0.9zM434.9 98.1h0.9v0.9h-0.9zM446.9 96.8h0.9v0.9h-0.9zM458.7 100.1h0.9v0.9h-0.9zM438.3 86.3h0.9v0.9h-0.9zM435.8 89.4h0.9v0.9h-0.9zM425.6 98.8h0.9v0.9h-0.9zM455.5 96.1h0.9v0.9h-0.9zM451.8 100.3h0.9v0.9h-0.9zM463.1 89.9h0.9v0.9h-0.9zM431.9 97.6h0.9v0.9h-0.9zM446.7 87.6h0.9v0.9h-0.9zM448.7 95.8h0.9v0.9h-0.9zM462.9 96.5h0.9v0.9h-0.9zM435.5 95.8h0.9v0.9h-0.9zM467.4 91.2h0.9v0.9h-0.9zM426.0 94.2h0.9v0.9h-0.9zM453.5 98.8h0.9v0.9h-0.9zM459.5 99.8h0.9v0.9h-0.9zM459.4 98.6h0.9v0.9h-0.9zM427.7 100.6h0.9v0.9h-0.9zM448.0 108.2h0.9v0.9h-0.9zM445.9 105.9h0.9v0.9h-0.9zM438.2 94.9h0.9v0.9h-0.9zM451.0 90.0h0.9v0.9h-0.9zM462.9 95.3h0.9v0.9h-0.9zM461.2 87.8h0.9v0.9h-0.9zM440.2 105.9h0.9v0.9h-0.9zM446.9 100.5h0.9v0.9h-0.9zM456.7 100.5h0.9v0.9h-0.9zM440.9 104.8h0.9v0.9h-0.9zM457.0 85.3h0.9v0.9h-0.9zM452.1 99.9h0.9v0.9h-0.9zM435.2 88.1h0.9v0.9h-0.9zM451.0 108.3h0.9v0.9h-0.9zM454.7 98.7h0.9v0.9h-0.9zM447.4 93.2h0.9v0.9h-0.9zM455.9 95.8h0.9v0.9h-0.9zM449.9 104.2h0.9v0.9h-0.9zM447.3 96.5h0.9v0.9h-0.9zM439.9 95.1h0.9v0.9h-0.9zM445.9 103.7h0.9v0.9h-0.9zM437.1 84.8h0.9v0.9h-0.9zM444.7 92.7h0.9v0.9h-0.9zM458.6 99.4h0.9v0.9h-0.9zM466.4 92.4h0.9v0.9h-0.9zM427.6 103.2h0.9v0.9h-0.9zM433.0 98.6h0.9v0.9h-0.9zM463.2 101.3h0.9v0.9h-0.9zM428.8 90.5h0.9v0.9h-0.9zM434.4 89.1h0.9v0.9h-0.9zM426.6 100.9h0.9v0.9h-0.9zM453.3 94.5h0.9v0.9h-0.9zM461.1 87.6h0.9v0.9h-0.9zM450.4 88.5h0.9v0.9h-0.9zM453.3 98.1h0.9v0.9h-0.9zM459.4 105.8h0.9v0.9h-0.9zM462.8 94.1h0.9v0.9h-0.9zM459.1 106.7h0.9v0.9h-0.9zM452.1 92.3h0.9v0.9h-0.9zM447.2 106.6h0.9v0.9h-0.9zM447.6 86.1h0.9v0.9h-0.9zM449.5 91.5h0.9v0.9h-0.9zM433.6 105.0h0.9v0.9h-0.9zM445.1 96.6h0.9v0.9h-0.9zM439.6 94.3h0.9v0.9h-0.9zM436.9 101.0h0.9v0.9h-0.9zM443.0 100.8h0.9v0.9h-0.9zM449.1 93.1h0.9v0.9h-0.9zM446.6 94.8h0.9v0.9h-0.9zM464.6 100.0h0.9v0.9h-0.9zM467.4 93.4h0.9v0.9h-0.9zM428.4 103.3h0.9v0.9h-0.9zM446.4 97.0h0.9v0.9h-0.9zM433.5 92.9h0.9v0.9h-0.9zM430.0 99.2h0.9v0.9h-0.9zM452.9 83.7h0.9v0.9h-0.9zM431.6 92.1h0.9v0.9h-0.9zM453.4 102.7h0.9v0.9h-0.9zM458.4 98.4h0.9v0.9h-0.9zM431.6 103.1h0.9v0.9h-0.9zM466.1 86.0h0.9v0.9h-0.9zM430.8 96.3h0.9v0.9h-0.9zM454.5 89.1h0.9v0.9h-0.9zM443.9 94.0h0.9v0.9h-0.9zM439.4 97.9h0.9v0.9h-0.9zM463.5 84.9h0.9v0.9h-0.9zM444.9 107.0h0.9v0.9h-0.9zM432.3 88.4h0.9v0.9h-0.9zM451.0 95.3h0.9v0.9h-0.9zM438.9 91.0h0.9v0.9h-0.9zM457.5 93.9h0.9v0.9h-0.9zM427.3 99.3h0.9v0.9h-0.9zM433.9 90.5h0.9v0.9h-0.9zM469.3 97.3h0.9v0.9h-0.9zM450.4 108.9h0.9v0.9h-0.9zM453.8 109.1h0.9v0.9h-0.9zM431.6 94.1h0.9v0.9h-0.9zM461.7 91.8h0.9v0.9h-0.9zM455.3 95.2h0.9v0.9h-0.9zM460.5 85.8h0.9v0.9h-0.9zM468.6 98.8h0.9v0.9h-0.9zM467.4 100.6h0.9v0.9h-0.9zM464.9 102.6h0.9v0.9h-0.9zM454.1 97.3h0.9v0.9h-0.9zM434.6 97.7h0.9v0.9h-0.9zM467.2 93.4h0.9v0.9h-0.9zM445.1 96.8h0.9v0.9h-0.9zM461.2 103.4h0.9v0.9h-0.9zM447.3 104.3h0.9v0.9h-0.9zM429.8 99.4h0.9v0.9h-0.9zM442.5 84.0h0.9v0.9h-0.9zM449.4 107.7h0.9v0.9h-0.9zM447.6 92.1h0.9v0.9h-0.9zM459.5 106.3h0.9v0.9h-0.9zM461.5 92.2h0.9v0.9h-0.9zM467.8 100.3h0.9v0.9h-0.9zM440.7 92.0h0.9v0.9h-0.9zM449.1 89.4h0.9v0.9h-0.9zM468.6 98.5h0.9v0.9h-0.9zM436.5 93.6h0.9v0.9h-0.9zM433.8 95.4h0.9v0.9h-0.9zM425.6 97.3h0.9v0.9h-0.9zM452.4 103.5h0.9v0.9h-0.9zM439.3 105.2h0.9v0.9h-0.9zM455.3 93.5h0.9v0.9h-0.9zM467.4 94.5h0.9v0.9h-0.9zM438.4 103.3h0.9v0.9h-0.9zM465.3 98.9h0.9v0.9h-0.9zM463.1 94.1h0.9v0.9h-0.9zM439.9 86.6h0.9v0.9h-0.9zM449.7 85.0h0.9v0.9h-0.9zM449.1 108.6h0.9v0.9h-0.9zM436.1 90.8h0.9v0.9h-0.9zM450.8 108.8h0.9v0.9h-0.9zM452.0 102.8h0.9v0.9h-0.9zM457.8 98.6h0.9v0.9h-0.9zM448.9 91.6h0.9v0.9h-0.9zM469.6 100.7h0.9v0.9h-0.9zM434.8 100.0h0.9v0.9h-0.9zM426.0 96.1h0.9v0.9h-0.9zM460.9 91.9h0.9v0.9h-0.9zM451.9 91.9h0.9v0.9h-0.9zM445.8 100.8h0.9v0.9h-0.9zM437.4 99.2h0.9v0.9h-0.9zM453.5 93.7h0.9v0.9h-0.9zM457.0 91.8h0.9v0.9h-0.9zM462.7 85.7h0.9v0.9h-0.9zM445.0 93.9h0.9v0.9h-0.9zM438.0 93.4h0.9v0.9h-0.9zM444.1 90.3h0.9v0.9h-0.9zM430.9 91.8h0.9v0.9h-0.9zM443.5 85.3h0.9v0.9h-0.9zM450.6 94.6h0.9v0.9h-0.9zM459.7 88.9h0.9v0.9h-0.9zM445.1 100.1h0.9v0.9h-0.9zM466.3 95.9h0.9v0.9h-0.9zM458.7 89.9h0.9v0.9h-0.9zM470.3 90.5h0.9v0.9h-0.9zM447.9 90.8h0.9v0.9h-0.9zM454.2 84.0h0.9v0.9h-0.9zM451.4 91.5h0.9v0.9h-0.9zM439.8 105.0h0.9v0.9h-0.9zM431.5 102.0h0.9v0.9h-0.9zM464.0 88.7h0.9v0.9h-0.9zM437.8 105.5h0.9v0.9h-0.9zM453.1 85.8h0.9v0.9h-0.9zM448.0 84.7h0.9v0.9h-0.9zM448.9 82.7h0.9v0.9h-0.9zM447.0 92.9h0.9v0.9h-0.9zM467.4 101.2h0.9v0.9h-0.9zM446.8 91.7h0.9v0.9h-0.9zM451.6 102.7h0.9v0.9h-0.9zM440.3 86.9h0.9v0.9h-0.9zM440.4 107.9h0.9v0.9h-0.9zM469.2 91.6h0.9v0.9h-0.9zM435.0 96.7h0.9v0.9h-0.9zM445.6 93.2h0.9v0.9h-0.9zM457.2 100.0h0.9v0.9h-0.9zM428.5 94.1h0.9v0.9h-0.9zM425.6 97.7h0.9v0.9h-0.9zM442.9 102.3h0.9v0.9h-0.9zM428.9 89.8h0.9v0.9h-0.9zM428.5 97.5h0.9v0.9h-0.9zM456.4 97.5h0.9v0.9h-0.9zM453.3 95.3h0.9v0.9h-0.9zM461.6 98.1h0.9v0.9h-0.9zM453.8 82.3h0.9v0.9h-0.9zM431.3 102.3h0.9v0.9h-0.9zM465.4 99.1h0.9v0.9h-0.9zM448.1 97.4h0.9v0.9h-0.9zM439.3 98.2h0.9v0.9h-0.9zM440.0 98.7h0.9v0.9h-0.9zM437.8 104.5h0.9v0.9h-0.9zM438.7 99.4h0.9v0.9h-0.9zM432.7 89.6h0.9v0.9h-0.9zM445.0 90.0h0.9v0.9h-0.9zM448.5 86.1h0.9v0.9h-0.9zM467.4 89.3h0.9v0.9h-0.9zM434.2 85.5h0.9v0.9h-0.9zM458.9 88.5h0.9v0.9h-0.9zM456.9 91.1h0.9v0.9h-0.9zM457.4 82.9h0.9v0.9h-0.9zM440.0 86.4h0.9v0.9h-0.9zM467.9 101.2h0.9v0.9h-0.9zM455.1 83.3h0.9v0.9h-0.9zM435.8 91.3h0.9v0.9h-0.9zM460.4 87.8h0.9v0.9h-0.9zM451.1 85.2h0.9v0.9h-0.9zM436.4 104.6h0.9v0.9h-0.9zM447.8 100.2h0.9v0.9h-0.9zM442.2 96.0h0.9v0.9h-0.9zM461.5 103.4h0.9v0.9h-0.9zM449.1 94.0h0.9v0.9h-0.9zM466.0 86.7h0.9v0.9h-0.9zM432.8 88.7h0.9v0.9h-0.9zM441.6 85.2h0.9v0.9h-0.9zM439.2 98.2h0.9v0.9h-0.9zM438.0 87.2h0.9v0.9h-0.9zM433.1 88.6h0.9v0.9h-0.9zM453.0 85.4h0.9v0.9h-0.9zM453.9 101.3h0.9v0.9h-0.9zM442.7 89.1h0.9v0.9h-0.9zM455.4 108.3h0.9v0.9h-0.9zM442.7 97.8h0.9v0.9h-0.9zM469.0 100.0h0.9v0.9h-0.9zM436.9 91.9h0.9v0.9h-0.9zM460.6 96.7h0.9v0.9h-0.9zM441.6 100.5h0.9v0.9h-0.9zM426.5 96.9h0.9v0.9h-0.9zM449.2 94.8h0.9v0.9h-0.9zM466.0 101.8h0.9v0.9h-0.9zM454.9 90.7h0.9v0.9h-0.9zM428.2 98.8h0.9v0.9h-0.9zM447.9 108.5h0.9v0.9h-0.9zM437.9 91.3h0.9v0.9h-0.9zM456.1 90.9h0.9v0.9h-0.9zM438.2 91.4h0.9v0.9h-0.9zM436.5 96.0h0.9v0.9h-0.9zM443.4 103.7h0.9v0.9h-0.9zM444.4 82.8h0.9v0.9h-0.9zM447.7 97.3h0.9v0.9h-0.9zM465.1 101.6h0.9v0.9h-0.9zM468.8 93.7h0.9v0.9h-0.9zM452.9 91.2h0.9v0.9h-0.9zM463.7 95.1h0.9v0.9h-0.9zM445.1 95.9h0.9v0.9h-0.9zM434.6 98.6h0.9v0.9h-0.9zM431.1 104.0h0.9v0.9h-0.9zM451.1 89.8h0.9v0.9h-0.9zM446.8 95.9h0.9v0.9h-0.9zM439.0 90.7h0.9v0.9h-0.9zM459.2 105.2h0.9v0.9h-0.9zM436.1 102.9h0.9v0.9h-0.9zM444.7 95.7h0.9v0.9h-0.9zM446.9 98.6h0.9v0.9h-0.9zM452.1 102.9h0.9v0.9h-0.9zM471.3 95.1h0.9v0.9h-0.9zM467.9 93.8h0.9v0.9h-0.9zM436.9 96.2h0.9v0.9h-0.9zM451.5 87.3h0.9v0.9h-0.9zM454.8 91.4h0.9v0.9h-0.9zM456.3 96.5h0.9v0.9h-0.9zM439.6 86.6h0.9v0.9h-0.9zM469.2 88.4h0.9v0.9h-0.9zM452.2 94.1h0.9v0.9h-0.9zM441.1 101.3h0.9v0.9h-0.9zM444.6 88.3h0.9v0.9h-0.9zM462.0 97.4h0.9v0.9h-0.9zM445.2 86.2h0.9v0.9h-0.9zM460.9 89.0h0.9v0.9h-0.9zM429.6 96.0h0.9v0.9h-0.9zM434.3 94.3h0.9v0.9h-0.9zM433.2 97.2h0.9v0.9h-0.9zM445.9 100.2h0.9v0.9h-0.9zM468.3 94.2h0.9v0.9h-0.9zM450.6 88.7h0.9v0.9h-0.9zM447.0 101.0h0.9v0.9h-0.9zM467.6 87.2h0.9v0.9h-0.9zM432.1 86.9h0.9v0.9h-0.9zM458.8 93.9h0.9v0.9h-0.9zM471.0 96.1h0.9v0.9h-0.9zM467.2 100.7h0.9v0.9h-0.9zM429.4 90.7h0.9v0.9h-0.9zM439.8 91.0h0.9v0.9h-0.9zM453.0 99.3h0.9v0.9h-0.9zM449.2 92.5h0.9v0.9h-0.9zM456.9 106.7h0.9v0.9h-0.9zM457.3 106.6h0.9v0.9h-0.9zM443.6 94.5h0.9v0.9h-0.9zM449.3 99.8h0.9v0.9h-0.9zM446.7 96.8h0.9v0.9h-0.9zM442.9 107.9h0.9v0.9h-0.9zM458.8 90.2h0.9v0.9h-0.9zM457.9 94.2h0.9v0.9h-0.9zM440.9 83.9h0.9v0.9h-0.9zM457.9 84.9h0.9v0.9h-0.9zM445.6 94.8h0.9v0.9h-0.9zM431.9 93.6h0.9v0.9h-0.9zM466.0 102.0h0.9v0.9h-0.9zM439.2 93.2h0.9v0.9h-0.9zM450.9 101.0h0.9v0.9h-0.9zM449.4 100.0h0.9v0.9h-0.9zM438.5 87.0h0.9v0.9h-0.9zM471.0 95.9h0.9v0.9h-0.9zM444.9 94.5h0.9v0.9h-0.9zM455.9 108.1h0.9v0.9h-0.9zM456.1 102.7h0.9v0.9h-0.9zM429.1 98.6h0.9v0.9h-0.9zM446.1 89.6h0.9v0.9h-0.9zM444.5 100.7h0.9v0.9h-0.9zM461.4 106.7h0.9v0.9h-0.9zM460.8 94.7h0.9v0.9h-0.9zM448.8 87.0h0.9v0.9h-0.9zM464.2 96.6h0.9v0.9h-0.9zM448.9 109.0h0.9v0.9h-0.9zM456.8 86.6h0.9v0.9h-0.9zM434.9 88.1h0.9v0.9h-0.9zM461.2 86.3h0.9v0.9h-0.9zM448.8 84.2h0.9v0.9h-0.9zM444.4 83.0h0.9v0.9h-0.9zM446.5 102.6h0.9v0.9h-0.9zM445.8 91.8h0.9v0.9h-0.9zM445.3 105.4h0.9v0.9h-0.9zM427.6 91.9h0.9v0.9h-0.9zM439.5 84.4h0.9v0.9h-0.9zM450.9 101.6h0.9v0.9h-0.9zM442.6 91.2h0.9v0.9h-0.9zM465.4 98.8h0.9v0.9h-0.9zM461.4 100.5h0.9v0.9h-0.9zM455.6 107.7h0.9v0.9h-0.9zM461.3 90.5h0.9v0.9h-0.9zM458.1 95.8h0.9v0.9h-0.9zM431.3 90.2h0.9v0.9h-0.9zM445.8 101.9h0.9v0.9h-0.9zM437.4 106.0h0.9v0.9h-0.9zM435.0 85.9h0.9v0.9h-0.9zM428.3 90.0h0.9v0.9h-0.9zM451.7 100.7h0.9v0.9h-0.9zM436.5 106.8h0.9v0.9h-0.9zM441.7 102.0h0.9v0.9h-0.9zM434.7 93.3h0.9v0.9h-0.9zM438.4 104.1h0.9v0.9h-0.9zM426.3 100.3h0.9v0.9h-0.9zM446.3 103.7h0.9v0.9h-0.9zM458.5 96.6h0.9v0.9h-0.9zM443.8 93.2h0.9v0.9h-0.9zM443.5 105.2h0.9v0.9h-0.9zM453.8 100.9h0.9v0.9h-0.9zM465.0 85.2h0.9v0.9h-0.9zM430.2 104.9h0.9v0.9h-0.9zM450.8 96.0h0.9v0.9h-0.9zM455.9 87.8h0.9v0.9h-0.9zM457.3 95.2h0.9v0.9h-0.9zM446.7 84.3h0.9v0.9h-0.9zM439.6 92.9h0.9v0.9h-0.9zM438.6 104.9h0.9v0.9h-0.9zM463.6 89.5h0.9v0.9h-0.9zM454.5 101.0h0.9v0.9h-0.9zM446.9 96.7h0.9v0.9h-0.9zM438.8 101.4h0.9v0.9h-0.9zM451.0 82.2h0.9v0.9h-0.9zM449.6 106.8h0.9v0.9h-0.9zM432.0 90.5h0.9v0.9h-0.9zM434.5 91.5h0.9v0.9h-0.9zM442.4 104.5h0.9v0.9h-0.9zM440.7 99.0h0.9v0.9h-0.9zM435.6 106.8h0.9v0.9h-0.9zM454.6 92.5h0.9v0.9h-0.9zM458.0 95.2h0.9v0.9h-0.9zM433.7 89.4h0.9v0.9h-0.9zM435.8 87.7h0.9v0.9h-0.9zM439.8 85.6h0.9v0.9h-0.9zM445.6 87.5h0.9v0.9h-0.9zM442.7 85.1h0.9v0.9h-0.9zM429.2 103.1h0.9v0.9h-0.9zM440.6 88.5h0.9v0.9h-0.9zM439.4 104.8h0.9v0.9h-0.9zM457.1 94.6h0.9v0.9h-0.9zM439.1 89.2h0.9v0.9h-0.9zM436.0 97.7h0.9v0.9h-0.9zM457.2 102.7h0.9v0.9h-0.9zM458.5 102.5h0.9v0.9h-0.9zM441.1 107.5h0.9v0.9h-0.9zM450.7 105.1h0.9v0.9h-0.9zM432.4 102.2h0.9v0.9h-0.9zM428.2 97.4h0.9v0.9h-0.9zM433.4 96.7h0.9v0.9h-0.9zM431.4 99.8h0.9v0.9h-0.9zM449.5 104.2h0.9v0.9h-0.9zM444.4 102.3h0.9v0.9h-0.9zM446.4 99.1h0.9v0.9h-0.9zM436.4 89.0h0.9v0.9h-0.9zM431.8 89.5h0.9v0.9h-0.9zM431.2 92.7h0.9v0.9h-0.9zM448.0 107.6h0.9v0.9h-0.9zM447.2 86.3h0.9v0.9h-0.9zM451.8 95.2h0.9v0.9h-0.9zM437.6 93.8h0.9v0.9h-0.9zM431.4 91.2h0.9v0.9h-0.9zM455.9 108.6h0.9v0.9h-0.9zM460.6 96.2h0.9v0.9h-0.9zM445.5 91.4h0.9v0.9h-0.9zM440.6 84.4h0.9v0.9h-0.9zM455.7 104.7h0.9v0.9h-0.9zM438.0 89.7h0.9v0.9h-0.9zM450.5 102.0h0.9v0.9h-0.9zM445.1 90.3h0.9v0.9h-0.9zM441.6 92.5h0.9v0.9h-0.9zM459.0 89.9h0.9v0.9h-0.9zM454.9 93.5h0.9v0.9h-0.9zM445.4 97.6h0.9v0.9h-0.9zM438.0 104.4h0.9v0.9h-0.9zM464.6 89.6h0.9v0.9h-0.9zM446.4 83.5h0.9v0.9h-0.9zM437.5 97.3h0.9v0.9h-0.9zM438.5 86.6h0.9v0.9h-0.9zM451.4 95.1h0.9v0.9h-0.9zM461.6 92.1h0.9v0.9h-0.9zM431.1 100.0h0.9v0.9h-0.9zM445.8 101.5h0.9v0.9h-0.9zM459.7 96.1h0.9v0.9h-0.9zM463.6 87.7h0.9v0.9h-0.9zM441.6 93.4h0.9v0.9h-0.9zM457.8 82.8h0.9v0.9h-0.9zM440.3 99.8h0.9v0.9h-0.9zM438.0 85.1h0.9v0.9h-0.9zM470.7 94.1h0.9v0.9h-0.9zM444.7 90.9h0.9v0.9h-0.9zM451.3 86.1h0.9v0.9h-0.9zM456.7 94.9h0.9v0.9h-0.9zM459.7 85.5h0.9v0.9h-0.9zM445.8 87.0h0.9v0.9h-0.9zM463.5 102.2h0.9v0.9h-0.9zM435.2 90.9h0.9v0.9h-0.9zM444.0 93.5h0.9v0.9h-0.9zM448.7 106.5h0.9v0.9h-0.9zM451.0 103.0h0.9v0.9h-0.9zM440.6 101.0h0.9v0.9h-0.9zM432.5 104.0h0.9v0.9h-0.9zM465.0 99.6h0.9v0.9h-0.9zM441.0 98.1h0.9v0.9h-0.9zM462.4 103.1h0.9v0.9h-0.9zM454.5 105.4h0.9v0.9h-0.9zM442.3 86.5h0.9v0.9h-0.9zM441.5 98.8h0.9v0.9h-0.9zM447.5 87.8h0.9v0.9h-0.9zM450.6 108.4h0.9v0.9h-0.9zM460.4 97.6h0.9v0.9h-0.9zM440.7 91.2h0.9v0.9h-0.9zM469.0 89.7h0.9v0.9h-0.9zM438.3 86.7h0.9v0.9h-0.9zM450.5 102.8h0.9v0.9h-0.9zM436.5 105.1h0.9v0.9h-0.9zM466.4 92.6h0.9v0.9h-0.9zM431.9 91.5h0.9v0.9h-0.9zM451.8 94.2h0.9v0.9h-0.9zM445.5 109.5h0.9v0.9h-0.9zM445.3 88.6h0.9v0.9h-0.9zM436.1 97.3h0.9v0.9h-0.9zM465.8 89.3h0.9v0.9h-0.9zM460.6 91.9h0.9v0.9h-0.9zM451.3 97.3h0.9v0.9h-0.9zM430.4 93.8h0.9v0.9h-0.9zM432.8 101.0h0.9v0.9h-0.9zM439.3 95.9h0.9v0.9h-0.9zM446.7 106.8h0.9v0.9h-0.9zM462.5 97.6h0.9v0.9h-0.9zM468.5 89.8h0.9v0.9h-0.9zM467.5 99.9h0.9v0.9h-0.9zM469.6 99.9h0.9v0.9h-0.9zM445.2 99.2h0.9v0.9h-0.9zM443.0 100.4h0.9v0.9h-0.9zM457.8 85.0h0.9v0.9h-0.9zM442.0 95.2h0.9v0.9h-0.9zM427.5 100.4h0.9v0.9h-0.9zM454.6 104.3h0.9v0.9h-0.9zM469.1 100.0h0.9v0.9h-0.9zM455.7 91.9h0.9v0.9h-0.9zM455.5 90.0h0.9v0.9h-0.9zM470.8 99.0h0.9v0.9h-0.9zM451.2 102.7h0.9v0.9h-0.9zM459.1 83.2h0.9v0.9h-0.9zM466.4 103.8h0.9v0.9h-0.9zM441.7 96.9h0.9v0.9h-0.9zM436.7 89.8h0.9v0.9h-0.9zM450.1 87.2h0.9v0.9h-0.9zM443.7 94.0h0.9v0.9h-0.9zM444.4 102.0h0.9v0.9h-0.9zM442.2 85.7h0.9v0.9h-0.9zM449.9 96.6h0.9v0.9h-0.9zM443.7 109.5h0.9v0.9h-0.9zM463.5 100.7h0.9v0.9h-0.9zM455.8 83.9h0.9v0.9h-0.9zM433.5 98.1h0.9v0.9h-0.9zM447.3 83.0h0.9v0.9h-0.9zM456.6 84.2h0.9v0.9h-0.9zM457.2 98.3h0.9v0.9h-0.9zM429.8 93.9h0.9v0.9h-0.9zM444.9 88.2h0.9v0.9h-0.9zM459.3 96.8h0.9v0.9h-0.9zM435.3 102.2h0.9v0.9h-0.9zM458.5 86.8h0.9v0.9h-0.9zM459.2 99.7h0.9v0.9h-0.9zM463.9 93.2h0.9v0.9h-0.9zM451.1 104.1h0.9v0.9h-0.9zM449.7 105.2h0.9v0.9h-0.9zM448.7 88.2h0.9v0.9h-0.9zM465.2 94.0h0.9v0.9h-0.9zM461.1 95.7h0.9v0.9h-0.9zM440.1 92.3h0.9v0.9h-0.9zM455.3 99.4h0.9v0.9h-0.9zM429.1 97.3h0.9v0.9h-0.9zM445.8 99.9h0.9v0.9h-0.9zM452.9 85.2h0.9v0.9h-0.9zM443.9 95.9h0.9v0.9h-0.9zM458.6 102.9h0.9v0.9h-0.9zM445.1 82.9h0.9v0.9h-0.9zM430.4 89.3h0.9v0.9h-0.9zM464.6 96.2h0.9v0.9h-0.9zM447.4 83.8h0.9v0.9h-0.9zM467.6 97.9h0.9v0.9h-0.9zM471.1 93.0h0.9v0.9h-0.9zM438.4 84.4h0.9v0.9h-0.9zM443.6 106.0h0.9v0.9h-0.9zM453.4 93.8h0.9v0.9h-0.9zM458.5 105.4h0.9v0.9h-0.9zM454.2 91.6h0.9v0.9h-0.9zM448.7 97.8h0.9v0.9h-0.9zM436.4 90.9h0.9v0.9h-0.9zM438.0 94.8h0.9v0.9h-0.9zM436.9 99.1h0.9v0.9h-0.9zM444.8 95.5h0.9v0.9h-0.9zM444.0 101.7h0.9v0.9h-0.9zM467.5 97.6h0.9v0.9h-0.9zM427.4 99.5h0.9v0.9h-0.9zM435.5 102.1h0.9v0.9h-0.9zM436.2 98.0h0.9v0.9h-0.9zM470.5 98.9h0.9v0.9h-0.9zM470.7 95.3h0.9v0.9h-0.9zM464.6 104.1h0.9v0.9h-0.9zM448.5 94.3h0.9v0.9h-0.9zM451.4 91.9h0.9v0.9h-0.9zM462.3 102.7h0.9v0.9h-0.9zM433.0 89.6h0.9v0.9h-0.9zM460.1 85.1h0.9v0.9h-0.9zM459.1 86.0h0.9v0.9h-0.9zM431.4 98.7h0.9v0.9h-0.9zM451.8 91.0h0.9v0.9h-0.9zM449.3 99.6h0.9v0.9h-0.9zM431.6 96.4h0.9v0.9h-0.9zM437.7 88.1h0.9v0.9h-0.9zM439.4 103.3h0.9v0.9h-0.9zM463.9 94.0h0.9v0.9h-0.9zM434.4 89.3h0.9v0.9h-0.9zM456.1 98.9h0.9v0.9h-0.9zM442.3 108.5h0.9v0.9h-0.9zM452.2 97.0h0.9v0.9h-0.9zM458.6 97.0h0.9v0.9h-0.9zM436.8 102.4h0.9v0.9h-0.9zM457.6 92.4h0.9v0.9h-0.9zM436.0 99.0h0.9v0.9h-0.9zM453.8 90.9h0.9v0.9h-0.9zM451.5 98.3h0.9v0.9h-0.9zM444.1 93.2h0.9v0.9h-0.9zM457.6 94.1h0.9v0.9h-0.9zM469.7 92.1h0.9v0.9h-0.9zM436.3 107.8h0.9v0.9h-0.9zM442.6 106.0h0.9v0.9h-0.9zM465.9 100.1h0.9v0.9h-0.9zM465.2 104.0h0.9v0.9h-0.9zM462.7 101.1h0.9v0.9h-0.9zM434.4 87.8h0.9v0.9h-0.9zM448.8 96.3h0.9v0.9h-0.9zM463.6 93.8h0.9v0.9h-0.9zM453.5 102.0h0.9v0.9h-0.9zM440.9 90.4h0.9v0.9h-0.9zM433.9 92.0h0.9v0.9h-0.9zM432.3 106.3h0.9v0.9h-0.9zM431.8 93.6h0.9v0.9h-0.9zM449.7 100.3h0.9v0.9h-0.9zM456.4 86.9h0.9v0.9h-0.9zM433.7 96.9h0.9v0.9h-0.9zM450.0 85.1h0.9v0.9h-0.9zM467.9 100.9h0.9v0.9h-0.9zM448.4 88.7h0.9v0.9h-0.9zM448.0 103.5h0.9v0.9h-0.9zM455.6 105.7h0.9v0.9h-0.9zM451.0 93.3h0.9v0.9h-0.9zM454.9 87.5h0.9v0.9h-0.9zM444.5 106.1h0.9v0.9h-0.9zM430.9 90.3h0.9v0.9h-0.9zM431.2 93.7h0.9v0.9h-0.9zM463.3 90.6h0.9v0.9h-0.9zM431.4 88.6h0.9v0.9h-0.9zM440.3 105.0h0.9v0.9h-0.9zM450.8 85.7h0.9v0.9h-0.9zM437.4 105.0h0.9v0.9h-0.9zM449.6 87.0h0.9v0.9h-0.9zM433.5 89.2h0.9v0.9h-0.9zM446.2 92.5h0.9v0.9h-0.9zM442.1 83.2h0.9v0.9h-0.9zM455.9 98.9h0.9v0.9h-0.9zM444.9 96.9h0.9v0.9h-0.9zM435.9 88.9h0.9v0.9h-0.9zM442.7 102.0h0.9v0.9h-0.9zM431.4 97.6h0.9v0.9h-0.9zM468.7 99.1h0.9v0.9h-0.9zM457.7 107.6h0.9v0.9h-0.9zM443.9 94.9h0.9v0.9h-0.9zM449.7 105.8h0.9v0.9h-0.9zM442.2 91.3h0.9v0.9h-0.9zM456.9 94.0h0.9v0.9h-0.9zM455.1 83.3h0.9v0.9h-0.9zM451.5 90.3h0.9v0.9h-0.9zM426.1 95.1h0.9v0.9h-0.9zM450.4 86.6h0.9v0.9h-0.9zM469.4 93.7h0.9v0.9h-0.9zM447.9 84.2h0.9v0.9h-0.9zM433.9 92.1h0.9v0.9h-0.9zM445.3 94.5h0.9v0.9h-0.9zM452.5 92.9h0.9v0.9h-0.9zM445.7 107.5h0.9v0.9h-0.9zM425.9 98.2h0.9v0.9h-0.9zM453.8 95.0h0.9v0.9h-0.9zM452.9 85.2h0.9v0.9h-0.9zM456.2 87.4h0.9v0.9h-0.9zM434.7 105.7h0.9v0.9h-0.9zM443.0 94.5h0.9v0.9h-0.9zM437.5 108.4h0.9v0.9h-0.9zM463.2 97.5h0.9v0.9h-0.9zM442.3 89.1h0.9v0.9h-0.9zM449.6 98.6h0.9v0.9h-0.9zM436.8 94.1h0.9v0.9h-0.9zM455.4 98.2h0.9v0.9h-0.9zM441.9 93.3h0.9v0.9h-0.9zM448.9 98.5h0.9v0.9h-0.9zM441.5 98.2h0.9v0.9h-0.9zM427.3 102.4h0.9v0.9h-0.9zM434.1 102.4h0.9v0.9h-0.9zM446.8 97.6h0.9v0.9h-0.9zM466.5 86.4h0.9v0.9h-0.9zM432.6 89.4h0.9v0.9h-0.9zM431.7 90.0h0.9v0.9h-0.9zM451.5 85.7h0.9v0.9h-0.9zM452.5 90.4h0.9v0.9h-0.9zM470.2 93.1h0.9v0.9h-0.9zM462.5 99.8h0.9v0.9h-0.9zM457.8 101.9h0.9v0.9h-0.9zM446.3 99.4h0.9v0.9h-0.9zM470.7 94.4h0.9v0.9h-0.9zM452.9 96.7h0.9v0.9h-0.9zM430.8 94.7h0.9v0.9h-0.9zM464.4 85.1h0.9v0.9h-0.9zM437.1 103.6h0.9v0.9h-0.9zM453.7 83.5h0.9v0.9h-0.9zM438.7 92.0h0.9v0.9h-0.9zM446.0 94.6h0.9v0.9h-0.9zM439.4 107.7h0.9v0.9h-0.9zM460.7 101.1h0.9v0.9h-0.9zM450.2 106.3h0.9v0.9h-0.9zM467.6 91.4h0.9v0.9h-0.9zM454.9 107.3h0.9v0.9h-0.9zM454.3 93.3h0.9v0.9h-0.9zM450.0 83.1h0.9v0.9h-0.9zM434.0 96.4h0.9v0.9h-0.9zM446.1 99.0h0.9v0.9h-0.9zM448.9 94.6h0.9v0.9h-0.9zM437.3 93.0h0.9v0.9h-0.9zM440.7 100.4h0.9v0.9h-0.9zM462.6 96.3h0.9v0.9h-0.9zM432.8 96.3h0.9v0.9h-0.9zM454.5 97.6h0.9v0.9h-0.9zM457.8 99.9h0.9v0.9h-0.9zM433.2 94.4h0.9v0.9h-0.9zM461.6 97.7h0.9v0.9h-0.9zM447.1 94.7h0.9v0.9h-0.9zM471.2 92.1h0.9v0.9h-0.9zM444.2 102.3h0.9v0.9h-0.9zM440.2 88.7h0.9v0.9h-0.9zM467.5 97.5h0.9v0.9h-0.9zM438.9 100.7h0.9v0.9h-0.9zM458.6 96.9h0.9v0.9h-0.9zM459.9 106.0h0.9v0.9h-0.9zM457.0 95.9h0.9v0.9h-0.9zM455.8 84.2h0.9v0.9h-0.9zM450.3 85.4h0.9v0.9h-0.9zM454.1 85.1h0.9v0.9h-0.9zM449.7 95.7h0.9v0.9h-0.9zM448.2 91.7h0.9v0.9h-0.9zM433.2 99.6h0.9v0.9h-0.9zM426.1 100.0h0.9v0.9h-0.9zM458.1 106.7h0.9v0.9h-0.9zM465.6 87.7h0.9v0.9h-0.9zM457.4 89.1h0.9v0.9h-0.9zM432.3 97.7h0.9v0.9h-0.9zM439.0 84.1h0.9v0.9h-0.9zM449.7 103.3h0.9v0.9h-0.9zM447.4 96.8h0.9v0.9h-0.9zM437.4 94.5h0.9v0.9h-0.9zM449.2 95.1h0.9v0.9h-0.9zM450.8 90.2h0.9v0.9h-0.9zM456.4 93.0h0.9v0.9h-0.9zM439.4 85.6h0.9v0.9h-0.9zM427.9 102.0h0.9v0.9h-0.9zM455.1 82.8h0.9v0.9h-0.9zM461.3 105.1h0.9v0.9h-0.9zM447.3 103.8h0.9v0.9h-0.9zM447.9 99.8h0.9v0.9h-0.9zM443.5 100.1h0.9v0.9h-0.9zM451.8 89.8h0.9v0.9h-0.9zM440.4 83.5h0.9v0.9h-0.9zM441.5 87.1h0.9v0.9h-0.9zM466.4 94.0h0.9v0.9h-0.9zM462.9 106.1h0.9v0.9h-0.9zM465.6 86.8h0.9v0.9h-0.9zM437.9 101.7h0.9v0.9h-0.9zM442.6 85.9h0.9v0.9h-0.9zM453.3 106.9h0.9v0.9h-0.9zM443.3 97.0h0.9v0.9h-0.9zM445.9 94.1h0.9v0.9h-0.9zM466.2 89.8h0.9v0.9h-0.9zM460.7 101.7h0.9v0.9h-0.9zM445.0 94.9h0.9v0.9h-0.9zM446.0 85.9h0.9v0.9h-0.9zM447.4 98.2h0.9v0.9h-0.9zM437.8 87.2h0.9v0.9h-0.9zM431.7 103.7h0.9v0.9h-0.9zM439.5 92.6h0.9v0.9h-0.9zM442.7 108.9h0.9v0.9h-0.9zM455.7 88.1h0.9v0.9h-0.9zM429.5 94.5h0.9v0.9h-0.9zM460.7 99.4h0.9v0.9h-0.9zM436.0 91.9h0.9v0.9h-0.9zM444.8 90.7h0.9v0.9h-0.9zM433.0 91.5h0.9v0.9h-0.9zM466.9 86.6h0.9v0.9h-0.9zM430.7 94.8h0.9v0.9h-0.9zM450.4 104.1h0.9v0.9h-0.9zM458.2 91.7h0.9v0.9h-0.9zM445.1 96.7h0.9v0.9h-0.9zM442.7 99.1h0.9v0.9h-0.9zM445.8 103.0h0.9v0.9h-0.9zM436.3 88.5h0.9v0.9h-0.9zM434.7 98.1h0.9v0.9h-0.9zM434.8 107.6h0.9v0.9h-0.9zM455.2 83.6h0.9v0.9h-0.9zM432.0 88.3h0.9v0.9h-0.9zM428.9 100.9h0.9v0.9h-0.9zM470.3 92.1h0.9v0.9h-0.9zM434.0 105.3h0.9v0.9h-0.9zM439.6 90.3h0.9v0.9h-0.9zM452.4 92.3h0.9v0.9h-0.9zM448.0 94.4h0.9v0.9h-0.9zM443.9 91.1h0.9v0.9h-0.9zM446.6 87.9h0.9v0.9h-0.9zM450.1 89.0h0.9v0.9h-0.9zM454.9 101.4h0.9v0.9h-0.9zM465.8 90.5h0.9v0.9h-0.9zM440.5 85.8h0.9v0.9h-0.9zM457.3 100.9h0.9v0.9h-0.9zM465.4 92.3h0.9v0.9h-0.9zM456.5 103.5h0.9v0.9h-0.9zM446.0 100.0h0.9v0.9h-0.9zM457.4 85.4h0.9v0.9h-0.9zM462.2 92.4h0.9v0.9h-0.9zM442.8 95.3h0.9v0.9h-0.9zM437.3 94.8h0.9v0.9h-0.9zM461.3 92.0h0.9v0.9h-0.9zM454.0 86.9h0.9v0.9h-0.9zM457.7 85.5h0.9v0.9h-0.9zM432.6 93.6h0.9v0.9h-0.9zM441.6 89.0h0.9v0.9h-0.9zM458.9 105.4h0.9v0.9h-0.9zM455.4 101.9h0.9v0.9h-0.9zM457.8 94.3h0.9v0.9h-0.9zM458.2 87.2h0.9v0.9h-0.9zM436.0 107.7h0.9v0.9h-0.9zM447.0 86.8h0.9v0.9h-0.9zM457.8 97.0h0.9v0.9h-0.9zM437.7 105.5h0.9v0.9h-0.9zM461.6 105.3h0.9v0.9h-0.9zM468.7 92.8h0.9v0.9h-0.9zM461.2 101.8h0.9v0.9h-0.9zM444.2 86.8h0.9v0.9h-0.9zM437.2 90.9h0.9v0.9h-0.9zM446.7 100.9h0.9v0.9h-0.9zM454.6 99.1h0.9v0.9h-0.9zM428.4 93.3h0.9v0.9h-0.9zM441.6 103.1h0.9v0.9h-0.9zM458.9 105.5h0.9v0.9h-0.9zM455.4 93.0h0.9v0.9h-0.9zM438.5 107.5h0.9v0.9h-0.9zM464.9 86.2h0.9v0.9h-0.9zM437.7 105.3h0.9v0.9h-0.9zM444.5 92.5h0.9v0.9h-0.9zM445.3 91.7h0.9v0.9h-0.9zM454.9 103.9h0.9v0.9h-0.9zM453.6 88.7h0.9v0.9h-0.9zM443.9 89.7h0.9v0.9h-0.9zM447.7 97.1h0.9v0.9h-0.9zM455.8 98.8h0.9v0.9h-0.9zM456.1 87.4h0.9v0.9h-0.9zM431.8 97.5h0.9v0.9h-0.9zM445.2 90.8h0.9v0.9h-0.9zM439.3 88.8h0.9v0.9h-0.9zM429.4 102.1h0.9v0.9h-0.9zM437.1 86.3h0.9v0.9h-0.9zM438.2 108.4h0.9v0.9h-0.9zM438.3 88.4h0.9v0.9h-0.9zM453.7 96.0h0.9v0.9h-0.9zM468.2 96.3h0.9v0.9h-0.9zM437.4 88.9h0.9v0.9h-0.9zM461.8 91.5h0.9v0.9h-0.9zM444.9 104.4h0.9v0.9h-0.9zM437.9 95.5h0.9v0.9h-0.9zM467.9 100.6h0.9v0.9h-0.9zM454.0 108.0h0.9v0.9h-0.9zM429.5 97.7h0.9v0.9h-0.9zM452.4 83.6h0.9v0.9h-0.9zM452.1 87.5h0.9v0.9h-0.9zM466.9 87.2h0.9v0.9h-0.9zM426.3 95.3h0.9v0.9h-0.9zM452.1 100.4h0.9v0.9h-0.9zM432.4 101.6h0.9v0.9h-0.9zM457.0 86.8h0.9v0.9h-0.9zM430.1 101.5h0.9v0.9h-0.9zM442.7 99.0h0.9v0.9h-0.9zM465.5 99.2h0.9v0.9h-0.9zM431.3 95.0h0.9v0.9h-0.9zM457.9 91.7h0.9v0.9h-0.9zM444.9 92.1h0.9v0.9h-0.9zM442.8 99.8h0.9v0.9h-0.9zM444.9 96.4h0.9v0.9h-0.9zM438.3 96.2h0.9v0.9h-0.9zM468.6 100.1h0.9v0.9h-0.9zM432.9 88.3h0.9v0.9h-0.9zM458.6 94.7h0.9v0.9h-0.9zM459.7 96.3h0.9v0.9h-0.9zM442.1 87.6h0.9v0.9h-0.9zM425.4 99.0h0.9v0.9h-0.9zM442.8 88.6h0.9v0.9h-0.9zM453.9 91.1h0.9v0.9h-0.9zM439.6 103.2h0.9v0.9h-0.9zM436.0 85.3h0.9v0.9h-0.9zM442.8 86.1h0.9v0.9h-0.9zM440.7 92.2h0.9v0.9h-0.9zM464.8 88.8h0.9v0.9h-0.9zM444.4 99.8h0.9v0.9h-0.9zM452.9 91.3h0.9v0.9h-0.9zM453.1 99.9h0.9v0.9h-0.9zM444.5 98.7h0.9v0.9h-0.9zM434.2 97.6h0.9v0.9h-0.9zM437.6 95.9h0.9v0.9h-0.9zM448.9 96.4h0.9v0.9h-0.9zM449.5 103.7h0.9v0.9h-0.9zM458.0 83.9h0.9v0.9h-0.9zM471.1 92.7h0.9v0.9h-0.9zM447.0 103.6h0.9v0.9h-0.9zM443.0 101.2h0.9v0.9h-0.9zM449.9 93.0h0.9v0.9h-0.9zM451.9 85.5h0.9v0.9h-0.9zM427.5 99.9h0.9v0.9h-0.9zM451.6 107.4h0.9v0.9h-0.9zM434.6 89.3h0.9v0.9h-0.9zM436.2 86.4h0.9v0.9h-0.9zM463.1 89.1h0.9v0.9h-0.9zM463.1 88.0h0.9v0.9h-0.9zM459.3 105.3h0.9v0.9h-0.9zM459.5 102.8h0.9v0.9h-0.9zM448.9 97.0h0.9v0.9h-0.9zM458.3 93.7h0.9v0.9h-0.9zM453.2 94.8h0.9v0.9h-0.9zM425.2 96.6h0.9v0.9h-0.9zM446.4 88.6h0.9v0.9h-0.9zM444.3 95.6h0.9v0.9h-0.9zM452.4 95.3h0.9v0.9h-0.9zM441.4 85.3h0.9v0.9h-0.9zM457.4 99.6h0.9v0.9h-0.9zM450.3 100.2h0.9v0.9h-0.9zM444.7 100.2h0.9v0.9h-0.9zM466.8 96.4h0.9v0.9h-0.9zM444.7 99.1h0.9v0.9h-0.9zM458.7 95.5h0.9v0.9h-0.9zM451.0 91.2h0.9v0.9h-0.9zM456.5 84.2h0.9v0.9h-0.9zM448.9 84.8h0.9v0.9h-0.9zM459.9 98.7h0.9v0.9h-0.9zM466.8 90.1h0.9v0.9h-0.9zM445.7 93.6h0.9v0.9h-0.9zM436.9 94.4h0.9v0.9h-0.9zM439.0 95.5h0.9v0.9h-0.9zM443.2 92.8h0.9v0.9h-0.9zM435.3 93.0h0.9v0.9h-0.9zM453.0 96.3h0.9v0.9h-0.9zM454.7 90.9h0.9v0.9h-0.9zM465.1 86.0h0.9v0.9h-0.9zM431.6 100.4h0.9v0.9h-0.9zM451.5 95.1h0.9v0.9h-0.9zM436.2 104.8h0.9v0.9h-0.9zM446.3 99.2h0.9v0.9h-0.9zM456.3 94.8h0.9v0.9h-0.9zM444.3 87.9h0.9v0.9h-0.9zM454.1 99.8h0.9v0.9h-0.9zM446.0 96.4h0.9v0.9h-0.9zM436.3 87.0h0.9v0.9h-0.9zM453.5 90.7h0.9v0.9h-0.9zM458.5 92.5h0.9v0.9h-0.9zM446.1 90.8h0.9v0.9h-0.9zM446.6 100.5h0.9v0.9h-0.9zM455.6 94.5h0.9v0.9h-0.9zM450.2 94.6h0.9v0.9h-0.9zM453.7 93.0h0.9v0.9h-0.9zM456.8 101.9h0.9v0.9h-0.9zM449.5 95.1h0.9v0.9h-0.9zM464.9 89.0h0.9v0.9h-0.9zM459.3 101.8h0.9v0.9h-0.9zM454.8 105.7h0.9v0.9h-0.9zM449.0 105.5h0.9v0.9h-0.9zM466.6 92.7h0.9v0.9h-0.9zM430.4 100.4h0.9v0.9h-0.9zM441.3 106.7h0.9v0.9h-0.9zM437.5 93.3h0.9v0.9h-0.9zM458.0 103.5h0.9v0.9h-0.9zM451.0 102.9h0.9v0.9h-0.9zM432.7 105.3h0.9v0.9h-0.9zM457.6 95.7h0.9v0.9h-0.9zM432.4 92.4h0.9v0.9h-0.9zM444.3 104.5h0.9v0.9h-0.9zM470.0 91.3h0.9v0.9h-0.9zM471.0 92.2h0.9v0.9h-0.9zM452.9 95.5h0.9v0.9h-0.9zM431.9 98.4h0.9v0.9h-0.9zM448.8 100.0h0.9v0.9h-0.9zM439.7 85.6h0.9v0.9h-0.9zM460.8 96.0h0.9v0.9h-0.9zM433.1 95.3h0.9v0.9h-0.9zM452.6 91.4h0.9v0.9h-0.9zM439.7 89.5h0.9v0.9h-0.9zM433.1 86.8h0.9v0.9h-0.9zM437.5 107.3h0.9v0.9h-0.9zM435.1 99.2h0.9v0.9h-0.9zM468.1 92.6h0.9v0.9h-0.9zM441.2 99.0h0.9v0.9h-0.9zM435.2 89.2h0.9v0.9h-0.9zM456.3 92.1h0.9v0.9h-0.9zM453.6 85.2h0.9v0.9h-0.9zM447.9 104.7h0.9v0.9h-0.9zM457.3 83.9h0.9v0.9h-0.9zM446.3 90.8h0.9v0.9h-0.9zM451.5 98.2h0.9v0.9h-0.9zM454.2 102.7h0.9v0.9h-0.9zM440.5 98.1h0.9v0.9h-0.9zM458.4 107.8h0.9v0.9h-0.9zM434.4 101.8h0.9v0.9h-0.9zM451.4 92.5h0.9v0.9h-0.9zM458.3 98.7h0.9v0.9h-0.9zM451.9 88.4h0.9v0.9h-0.9zM459.0 86.8h0.9v0.9h-0.9zM446.9 84.0h0.9v0.9h-0.9zM471.0 97.9h0.9v0.9h-0.9zM462.2 94.3h0.9v0.9h-0.9zM450.2 92.2h0.9v0.9h-0.9zM453.6 90.2h0.9v0.9h-0.9zM454.4 89.9h0.9v0.9h-0.9zM460.5 99.9h0.9v0.9h-0.9zM471.0 92.0h0.9v0.9h-0.9zM438.0 85.7h0.9v0.9h-0.9zM440.1 97.2h0.9v0.9h-0.9zM469.3 96.0h0.9v0.9h-0.9zM430.0 101.1h0.9v0.9h-0.9zM452.3 84.7h0.9v0.9h-0.9zM458.5 83.7h0.9v0.9h-0.9zM437.5 96.2h0.9v0.9h-0.9zM453.1 97.1h0.9v0.9h-0.9zM451.2 94.8h0.9v0.9h-0.9zM460.7 92.3h0.9v0.9h-0.9zM434.8 97.2h0.9v0.9h-0.9zM439.8 103.5h0.9v0.9h-0.9zM464.2 102.5h0.9v0.9h-0.9zM448.7 97.6h0.9v0.9h-0.9zM426.5 97.9h0.9v0.9h-0.9zM435.3 104.8h0.9v0.9h-0.9zM454.0 95.4h0.9v0.9h-0.9zM428.8 101.6h0.9v0.9h-0.9zM435.8 88.9h0.9v0.9h-0.9zM435.1 90.7h0.9v0.9h-0.9zM462.8 90.8h0.9v0.9h-0.9zM431.7 105.4h0.9v0.9h-0.9zM445.6 97.0h0.9v0.9h-0.9zM459.6 86.0h0.9v0.9h-0.9zM454.4 92.8h0.9v0.9h-0.9zM457.9 93.7h0.9v0.9h-0.9zM458.6 102.2h0.9v0.9h-0.9zM426.4 96.8h0.9v0.9h-0.9zM448.6 97.7h0.9v0.9h-0.9zM427.8 91.9h0.9v0.9h-0.9zM455.7 86.5h0.9v0.9h-0.9zM442.3 85.3h0.9v0.9h-0.9zM457.7 96.4h0.9v0.9h-0.9zM469.2 89.7h0.9v0.9h-0.9zM446.7 87.3h0.9v0.9h-0.9zM457.4 104.4h0.9v0.9h-0.9zM439.6 93.8h0.9v0.9h-0.9zM438.2 86.0h0.9v0.9h-0.9zM450.3 96.0h0.9v0.9h-0.9zM439.6 100.4h0.9v0.9h-0.9zM454.6 106.4h0.9v0.9h-0.9zM433.6 99.7h0.9v0.9h-0.9zM435.8 103.7h0.9v0.9h-0.9zM451.1 96.3h0.9v0.9h-0.9zM454.8 85.9h0.9v0.9h-0.9zM431.8 94.5h0.9v0.9h-0.9zM448.0 99.3h0.9v0.9h-0.9zM442.6 86.4h0.9v0.9h-0.9zM457.9 101.8h0.9v0.9h-0.9zM462.6 93.8h0.9v0.9h-0.9zM432.9 92.9h0.9v0.9h-0.9zM439.1 98.3h0.9v0.9h-0.9zM432.3 100.5h0.9v0.9h-0.9zM461.3 89.5h0.9v0.9h-0.9zM461.1 91.7h0.9v0.9h-0.9zM453.7 97.5h0.9v0.9h-0.9zM449.3 99.8h0.9v0.9h-0.9zM450.7 98.9h0.9v0.9h-0.9zM450.1 83.0h0.9v0.9h-0.9zM439.4 101.3h0.9v0.9h-0.9zM429.9 103.9h0.9v0.9h-0.9zM437.3 93.5h0.9v0.9h-0.9zM439.9 96.1h0.9v0.9h-0.9zM438.3 103.1h0.9v0.9h-0.9zM455.6 95.6h0.9v0.9h-0.9zM445.9 103.1h0.9v0.9h-0.9zM453.5 92.0h0.9v0.9h-0.9zM454.1 100.5h0.9v0.9h-0.9zM469.5 98.9h0.9v0.9h-0.9zM435.7 103.7h0.9v0.9h-0.9zM447.5 87.0h0.9v0.9h-0.9zM439.8 96.8h0.9v0.9h-0.9zM470.8 98.3h0.9v0.9h-0.9zM454.5 106.7h0.9v0.9h-0.9zM436.5 103.2h0.9v0.9h-0.9zM456.7 103.3h0.9v0.9h-0.9zM445.6 94.8h0.9v0.9h-0.9zM466.6 102.4h0.9v0.9h-0.9zM458.9 97.2h0.9v0.9h-0.9zM457.1 93.1h0.9v0.9h-0.9zM463.7 97.8h0.9v0.9h-0.9zM449.2 96.7h0.9v0.9h-0.9zM456.3 96.1h0.9v0.9h-0.9zM438.6 106.7h0.9v0.9h-0.9zM439.3 102.0h0.9v0.9h-0.9zM440.8 101.1h0.9v0.9h-0.9zM448.8 92.8h0.9v0.9h-0.9zM464.0 94.5h0.9v0.9h-0.9zM451.1 99.9h0.9v0.9h-0.9zM457.9 97.6h0.9v0.9h-0.9zM447.9 94.1h0.9v0.9h-0.9zM449.4 88.7h0.9v0.9h-0.9zM446.9 97.2h0.9v0.9h-0.9zM452.1 89.3h0.9v0.9h-0.9zM445.5 92.6h0.9v0.9h-0.9zM448.9 96.1h0.9v0.9h-0.9zM446.1 97.4h0.9v0.9h-0.9zM467.0 94.0h0.9v0.9h-0.9zM459.3 107.0h0.9v0.9h-0.9zM457.0 85.7h0.9v0.9h-0.9zM460.5 93.2h0.9v0.9h-0.9zM467.3 92.9h0.9v0.9h-0.9zM442.6 84.4h0.9v0.9h-0.9zM440.9 96.1h0.9v0.9h-0.9zM461.0 88.6h0.9v0.9h-0.9zM433.0 92.1h0.9v0.9h-0.9zM453.0 96.3h0.9v0.9h-0.9zM445.9 107.1h0.9v0.9h-0.9zM459.4 93.1h0.9v0.9h-0.9zM458.0 86.0h0.9v0.9h-0.9zM427.3 95.4h0.9v0.9h-0.9zM453.2 92.1h0.9v0.9h-0.9zM449.4 96.1h0.9v0.9h-0.9zM438.0 106.4h0.9v0.9h-0.9zM466.4 96.5h0.9v0.9h-0.9zM431.7 96.4h0.9v0.9h-0.9zM446.6 100.6h0.9v0.9h-0.9zM435.8 101.9h0.9v0.9h-0.9zM444.5 94.0h0.9v0.9h-0.9zM447.6 99.3h0.9v0.9h-0.9zM438.0 100.2h0.9v0.9h-0.9zM463.0 104.5h0.9v0.9h-0.9zM429.9 89.2h0.9v0.9h-0.9zM464.3 97.7h0.9v0.9h-0.9zM449.2 85.6h0.9v0.9h-0.9zM464.5 90.3h0.9v0.9h-0.9zM458.4 101.3h0.9v0.9h-0.9zM450.5 97.3h0.9v0.9h-0.9zM446.3 100.7h0.9v0.9h-0.9zM440.3 86.7h0.9v0.9h-0.9zM462.7 96.8h0.9v0.9h-0.9zM459.9 92.8h0.9v0.9h-0.9zM453.4 100.0h0.9v0.9h-0.9zM428.1 98.3h0.9v0.9h-0.9zM431.2 88.3h0.9v0.9h-0.9zM454.7 90.3h0.9v0.9h-0.9zM445.4 100.2h0.9v0.9h-0.9zM438.5 95.1h0.9v0.9h-0.9zM449.5 102.6h0.9v0.9h-0.9zM454.3 85.7h0.9v0.9h-0.9zM462.5 91.9h0.9v0.9h-0.9zM450.8 100.9h0.9v0.9h-0.9zM428.8 93.7h0.9v0.9h-0.9zM449.3 93.8h0.9v0.9h-0.9zM442.6 98.2h0.9v0.9h-0.9zM444.8 88.1h0.9v0.9h-0.9zM440.6 108.4h0.9v0.9h-0.9zM445.9 96.4h0.9v0.9h-0.9zM447.8 107.3h0.9v0.9h-0.9zM470.4 95.8h0.9v0.9h-0.9zM439.3 86.5h0.9v0.9h-0.9zM440.8 96.7h0.9v0.9h-0.9zM438.0 108.6h0.9v0.9h-0.9zM447.9 93.2h0.9v0.9h-0.9zM446.2 88.8h0.9v0.9h-0.9zM451.1 103.9h0.9v0.9h-0.9zM451.4 99.4h0.9v0.9h-0.9zM467.3 97.9h0.9v0.9h-0.9zM441.5 99.9h0.9v0.9h-0.9zM439.4 106.6h0.9v0.9h-0.9zM430.0 95.1h0.9v0.9h-0.9zM464.2 93.6h0.9v0.9h-0.9zM439.8 86.1h0.9v0.9h-0.9zM468.0 96.3h0.9v0.9h-0.9zM434.8 87.4h0.9v0.9h-0.9zM463.0 97.3h0.9v0.9h-0.9zM436.2 99.0h0.9v0.9h-0.9zM446.6 98.4h0.9v0.9h-0.9zM458.4 105.4h0.9v0.9h-0.9zM450.3 105.6h0.9v0.9h-0.9zM469.5 93.3h0.9v0.9h-0.9zM449.5 86.8h0.9v0.9h-0.9zM440.7 107.9h0.9v0.9h-0.9zM451.9 103.9h0.9v0.9h-0.9zM466.2 100.0h0.9v0.9h-0.9zM429.2 101.3h0.9v0.9h-0.9zM444.1 94.6h0.9v0.9h-0.9zM446.6 87.6h0.9v0.9h-0.9zM432.8 103.0h0.9v0.9h-0.9zM460.1 92.1h0.9v0.9h-0.9zM439.8 102.5h0.9v0.9h-0.9zM452.8 94.1h0.9v0.9h-0.9zM457.4 87.5h0.9v0.9h-0.9zM453.9 83.3h0.9v0.9h-0.9zM434.6 93.3h0.9v0.9h-0.9zM450.6 87.9h0.9v0.9h-0.9zM429.0 92.2h0.9v0.9h-0.9zM446.1 94.7h0.9v0.9h-0.9zM442.4 95.1h0.9v0.9h-0.9zM452.3 97.4h0.9v0.9h-0.9zM442.6 86.4h0.9v0.9h-0.9zM457.8 99.6h0.9v0.9h-0.9zM437.2 100.2h0.9v0.9h-0.9zM453.6 95.9h0.9v0.9h-0.9zM446.5 86.5h0.9v0.9h-0.9zM449.4 91.5h0.9v0.9h-0.9zM435.8 91.4h0.9v0.9h-0.9zM433.3 103.4h0.9v0.9h-0.9zM444.8 94.7h0.9v0.9h-0.9zM449.7 96.2h0.9v0.9h-0.9zM452.7 101.2h0.9v0.9h-0.9zM454.2 97.0h0.9v0.9h-0.9zM438.2 86.4h0.9v0.9h-0.9zM464.1 96.4h0.9v0.9h-0.9zM459.7 96.9h0.9v0.9h-0.9zM448.4 100.8h0.9v0.9h-0.9zM457.8 100.1h0.9v0.9h-0.9zM469.2 90.9h0.9v0.9h-0.9zM449.4 105.5h0.9v0.9h-0.9zM447.0 102.9h0.9v0.9h-0.9zM441.9 99.8h0.9v0.9h-0.9zM435.6 95.9h0.9v0.9h-0.9zM443.0 92.6h0.9v0.9h-0.9zM462.1 104.8h0.9v0.9h-0.9zM436.7 94.6h0.9v0.9h-0.9zM457.9 104.5h0.9v0.9h-0.9zM435.3 90.1h0.9v0.9h-0.9zM444.2 97.5h0.9v0.9h-0.9zM457.1 101.8h0.9v0.9h-0.9zM463.0 90.7h0.9v0.9h-0.9zM450.9 106.1h0.9v0.9h-0.9zM471.4 93.3h0.9v0.9h-0.9zM447.9 98.5h0.9v0.9h-0.9zM447.5 95.0h0.9v0.9h-0.9zM447.8 101.5h0.9v0.9h-0.9zM451.1 105.3h0.9v0.9h-0.9zM453.3 86.9h0.9v0.9h-0.9zM446.3 96.4h0.9v0.9h-0.9zM460.6 105.8h0.9v0.9h-0.9zM453.9 90.5h0.9v0.9h-0.9zM426.2 97.1h0.9v0.9h-0.9zM464.8 90.2h0.9v0.9h-0.9zM430.2 90.1h0.9v0.9h-0.9zM445.2 104.0h0.9v0.9h-0.9zM445.1 103.6h0.9v0.9h-0.9zM469.9 96.2h0.9v0.9h-0.9zM450.3 96.1h0.9v0.9h-0.9zM442.4 102.9h0.9v0.9h-0.9zM458.6 101.2h0.9v0.9h-0.9zM449.3 105.9h0.9v0.9h-0.9zM427.7 98.1h0.9v0.9h-0.9zM465.4 91.9h0.9v0.9h-0.9zM435.2 101.0h0.9v0.9h-0.9zM449.6 100.2h0.9v0.9h-0.9zM435.3 93.4h0.9v0.9h-0.9zM436.8 86.8h0.9v0.9h-0.9zM450.6 90.0h0.9v0.9h-0.9zM451.3 91.6h0.9v0.9h-0.9zM437.1 92.9h0.9v0.9h-0.9zM427.8 99.2h0.9v0.9h-0.9zM452.5 96.3h0.9v0.9h-0.9zM456.5 91.7h0.9v0.9h-0.9zM433.9 87.4h0.9v0.9h-0.9zM467.7 92.7h0.9v0.9h-0.9zM455.7 89.8h0.9v0.9h-0.9zM443.9 85.0h0.9v0.9h-0.9zM434.5 106.7h0.9v0.9h-0.9zM450.7 84.4h0.9v0.9h-0.9zM443.4 99.6h0.9v0.9h-0.9zM461.5 101.9h0.9v0.9h-0.9zM454.7 98.3h0.9v0.9h-0.9zM447.7 94.6h0.9v0.9h-0.9zM434.6 87.4h0.9v0.9h-0.9zM437.4 106.2h0.9v0.9h-0.9zM456.5 103.5h0.9v0.9h-0.9zM465.4 92.5h0.9v0.9h-0.9zM445.9 100.2h0.9v0.9h-0.9zM435.2 101.8h0.9v0.9h-0.9zM434.8 91.1h0.9v0.9h-0.9zM443.8 98.2h0.9v0.9h-0.9zM452.4 92.9h0.9v0.9h-0.9zM452.6 97.3h0.9v0.9h-0.9zM428.1 93.8h0.9v0.9h-0.9zM453.6 90.3h0.9v0.9h-0.9zM432.9 99.8h0.9v0.9h-0.9zM451.2 95.9h0.9v0.9h-0.9zM439.0 98.5h0.9v0.9h-0.9zM440.0 94.1h0.9v0.9h-0.9zM459.1 88.1h0.9v0.9h-0.9zM439.7 103.4h0.9v0.9h-0.9zM440.8 109.2h0.9v0.9h-0.9zM446.6 98.8h0.9v0.9h-0.9zM444.3 90.0h0.9v0.9h-0.9zM456.1 95.1h0.9v0.9h-0.9zM440.0 109.1h0.9v0.9h-0.9zM459.1 99.4h0.9v0.9h-0.9zM444.2 95.0h0.9v0.9h-0.9zM438.9 91.5h0.9v0.9h-0.9zM470.1 90.1h0.9v0.9h-0.9zM436.9 90.3h0.9v0.9h-0.9zM449.4 86.0h0.9v0.9h-0.9zM446.2 89.2h0.9v0.9h-0.9zM439.3 98.2h0.9v0.9h-0.9zM431.4 98.2h0.9v0.9h-0.9zM458.5 102.0h0.9v0.9h-0.9zM455.9 91.5h0.9v0.9h-0.9zM443.9 90.7h0.9v0.9h-0.9zM471.8 94.4h0.9v0.9h-0.9zM451.3 93.7h0.9v0.9h-0.9zM433.5 91.8h0.9v0.9h-0.9zM434.8 101.9h0.9v0.9h-0.9zM435.4 101.4h0.9v0.9h-0.9zM437.2 88.8h0.9v0.9h-0.9zM441.5 107.0h0.9v0.9h-0.9zM448.1 96.4h0.9v0.9h-0.9zM426.9 92.1h0.9v0.9h-0.9zM427.8 94.5h0.9v0.9h-0.9zM449.4 83.3h0.9v0.9h-0.9zM442.2 95.3h0.9v0.9h-0.9zM451.1 92.1h0.9v0.9h-0.9zM446.9 99.2h0.9v0.9h-0.9zM445.2 96.2h0.9v0.9h-0.9zM456.4 103.6h0.9v0.9h-0.9zM426.7 95.5h0.9v0.9h-0.9zM446.3 89.2h0.9v0.9h-0.9zM439.0 83.9h0.9v0.9h-0.9zM445.9 96.2h0.9v0.9h-0.9zM445.9 101.5h0.9v0.9h-0.9zM445.7 84.4h0.9v0.9h-0.9zM432.1 101.5h0.9v0.9h-0.9zM427.4 96.1h0.9v0.9h-0.9zM442.9 86.9h0.9v0.9h-0.9zM435.9 107.7h0.9v0.9h-0.9zM430.5 99.8h0.9v0.9h-0.9zM468.8 98.7h0.9v0.9h-0.9zM462.6 105.8h0.9v0.9h-0.9zM448.0 98.0h0.9v0.9h-0.9zM436.9 87.7h0.9v0.9h-0.9zM440.6 97.6h0.9v0.9h-0.9zM428.1 103.4h0.9v0.9h-0.9zM441.3 90.3h0.9v0.9h-0.9zM446.6 95.3h0.9v0.9h-0.9zM426.1 96.5h0.9v0.9h-0.9zM467.0 87.7h0.9v0.9h-0.9zM467.2 98.8h0.9v0.9h-0.9zM470.0 89.2h0.9v0.9h-0.9zM464.6 90.6h0.9v0.9h-0.9zM437.3 90.9h0.9v0.9h-0.9zM452.9 85.2h0.9v0.9h-0.9zM437.3 105.1h0.9v0.9h-0.9zM459.6 106.1h0.9v0.9h-0.9zM454.7 99.2h0.9v0.9h-0.9zM440.5 83.8h0.9v0.9h-0.9zM433.4 95.0h0.9v0.9h-0.9zM450.1 88.5h0.9v0.9h-0.9zM427.3 93.9h0.9v0.9h-0.9zM427.7 95.6h0.9v0.9h-0.9zM448.1 91.5h0.9v0.9h-0.9zM436.2 84.8h0.9v0.9h-0.9zM442.4 88.2h0.9v0.9h-0.9zM444.4 88.9h0.9v0.9h-0.9zM447.4 95.9h0.9v0.9h-0.9zM438.0 96.3h0.9v0.9h-0.9zM444.7 94.0h0.9v0.9h-0.9zM443.8 94.6h0.9v0.9h-0.9zM435.5 87.3h0.9v0.9h-0.9zM462.1 100.0h0.9v0.9h-0.9zM436.3 100.7h0.9v0.9h-0.9zM433.1 94.0h0.9v0.9h-0.9zM440.5 94.3h0.9v0.9h-0.9zM450.7 89.5h0.9v0.9h-0.9zM450.2 107.9h0.9v0.9h-0.9zM465.0 86.8h0.9v0.9h-0.9zM460.2 97.7h0.9v0.9h-0.9zM459.2 88.0h0.9v0.9h-0.9zM449.9 91.3h0.9v0.9h-0.9zM435.4 90.7h0.9v0.9h-0.9zM454.6 108.8h0.9v0.9h-0.9zM450.8 84.3h0.9v0.9h-0.9zM438.0 93.5h0.9v0.9h-0.9zM447.8 97.8h0.9v0.9h-0.9zM437.0 95.2h0.9v0.9h-0.9zM470.8 97.6h0.9v0.9h-0.9zM431.4 105.2h0.9v0.9h-0.9zM451.2 94.7h0.9v0.9h-0.9zM470.4 99.0h0.9v0.9h-0.9zM442.8 90.9h0.9v0.9h-0.9zM459.0 96.6h0.9v0.9h-0.9zM451.0 108.8h0.9v0.9h-0.9zM431.1 95.7h0.9v0.9h-0.9zM428.6 93.0h0.9v0.9h-0.9zM454.9 104.6h0.9v0.9h-0.9zM442.7 107.0h0.9v0.9h-0.9zM458.4 106.5h0.9v0.9h-0.9zM448.4 104.7h0.9v0.9h-0.9zM439.4 86.5h0.9v0.9h-0.9zM434.1 95.6h0.9v0.9h-0.9zM457.4 95.3h0.9v0.9h-0.9zM462.5 89.9h0.9v0.9h-0.9zM437.5 93.7h0.9v0.9h-0.9zM444.6 88.4h0.9v0.9h-0.9zM460.5 101.4h0.9v0.9h-0.9zM433.8 91.5h0.9v0.9h-0.9zM437.7 107.9h0.9v0.9h-0.9zM442.4 108.5h0.9v0.9h-0.9zM439.1 100.8h0.9v0.9h-0.9zM450.1 103.4h0.9v0.9h-0.9zM449.0 93.7h0.9v0.9h-0.9zM435.0 94.4h0.9v0.9h-0.9zM455.8 108.2h0.9v0.9h-0.9zM446.8 100.6h0.9v0.9h-0.9zM429.3 95.7h0.9v0.9h-0.9zM440.7 95.1h0.9v0.9h-0.9zM437.8 92.0h0.9v0.9h-0.9zM446.7 109.1h0.9v0.9h-0.9zM455.9 86.4h0.9v0.9h-0.9zM446.1 88.0h0.9v0.9h-0.9zM440.6 102.3h0.9v0.9h-0.9zM441.5 83.8h0.9v0.9h-0.9zM440.1 84.4h0.9v0.9h-0.9zM444.8 108.5h0.9v0.9h-0.9zM438.4 107.0h0.9v0.9h-0.9zM462.7 91.2h0.9v0.9h-0.9zM447.4 101.3h0.9v0.9h-0.9zM450.0 102.8h0.9v0.9h-0.9zM442.0 87.3h0.9v0.9h-0.9zM465.2 99.9h0.9v0.9h-0.9zM463.1 95.9h0.9v0.9h-0.9zM442.9 99.5h0.9v0.9h-0.9zM464.9 85.2h0.9v0.9h-0.9zM430.7 88.9h0.9v0.9h-0.9zM458.5 94.9h0.9v0.9h-0.9zM434.4 102.6h0.9v0.9h-0.9zM440.6 103.7h0.9v0.9h-0.9zM452.6 92.5h0.9v0.9h-0.9zM454.6 106.9h0.9v0.9h-0.9zM465.0 93.3h0.9v0.9h-0.9zM442.4 97.1h0.9v0.9h-0.9zM445.7 89.8h0.9v0.9h-0.9zM431.9 87.6h0.9v0.9h-0.9zM468.6 92.2h0.9v0.9h-0.9zM452.7 106.6h0.9v0.9h-0.9zM469.2 98.3h0.9v0.9h-0.9zM453.4 87.7h0.9v0.9h-0.9zM465.6 86.4h0.9v0.9h-0.9zM467.9 92.4h0.9v0.9h-0.9zM442.0 98.4h0.9v0.9h-0.9zM430.5 88.6h0.9v0.9h-0.9zM455.3 96.5h0.9v0.9h-0.9zM445.8 89.2h0.9v0.9h-0.9zM437.3 100.9h0.9v0.9h-0.9zM459.9 86.3h0.9v0.9h-0.9zM464.3 90.8h0.9v0.9h-0.9zM430.5 91.1h0.9v0.9h-0.9zM457.4 87.3h0.9v0.9h-0.9zM439.2 97.5h0.9v0.9h-0.9zM470.0 96.3h0.9v0.9h-0.9zM431.4 92.3h0.9v0.9h-0.9zM438.7 85.3h0.9v0.9h-0.9zM426.6 92.9h0.9v0.9h-0.9zM453.2 101.4h0.9v0.9h-0.9zM453.1 93.6h0.9v0.9h-0.9zM451.7 102.4h0.9v0.9h-0.9zM443.4 91.7h0.9v0.9h-0.9zM453.7 107.4h0.9v0.9h-0.9zM456.8 100.4h0.9v0.9h-0.9zM453.6 99.9h0.9v0.9h-0.9zM441.3 108.1h0.9v0.9h-0.9zM428.9 103.5h0.9v0.9h-0.9zM430.3 93.7h0.9v0.9h-0.9zM460.7 85.7h0.9v0.9h-0.9zM435.8 104.9h0.9v0.9h-0.9zM433.8 106.6h0.9v0.9h-0.9zM426.9 94.5h0.9v0.9h-0.9zM442.9 96.7h0.9v0.9h-0.9zM437.8 101.8h0.9v0.9h-0.9zM442.5 106.1h0.9v0.9h-0.9zM459.8 96.7h0.9v0.9h-0.9zM447.3 96.1h0.9v0.9h-0.9zM441.1 107.5h0.9v0.9h-0.9zM438.9 97.3h0.9v0.9h-0.9zM451.7 94.5h0.9v0.9h-0.9zM465.0 89.8h0.9v0.9h-0.9zM456.2 83.3h0.9v0.9h-0.9zM463.5 102.7h0.9v0.9h-0.9zM427.9 100.1h0.9v0.9h-0.9zM446.9 91.4h0.9v0.9h-0.9zM451.0 101.0h0.9v0.9h-0.9zM433.4 90.8h0.9v0.9h-0.9zM449.2 106.9h0.9v0.9h-0.9zM463.7 93.6h0.9v0.9h-0.9zM466.7 100.7h0.9v0.9h-0.9zM439.8 85.5h0.9v0.9h-0.9zM436.8 94.4h0.9v0.9h-0.9zM440.9 106.4h0.9v0.9h-0.9zM449.5 96.0h0.9v0.9h-0.9zM439.0 102.6h0.9v0.9h-0.9zM442.4 101.4h0.9v0.9h-0.9zM427.4 91.9h0.9v0.9h-0.9zM445.1 89.3h0.9v0.9h-0.9zM460.4 102.0h0.9v0.9h-0.9zM452.0 93.3h0.9v0.9h-0.9zM428.5 91.9h0.9v0.9h-0.9zM439.9 94.1h0.9v0.9h-0.9zM458.1 83.0h0.9v0.9h-0.9zM429.3 90.4h0.9v0.9h-0.9zM435.3 85.1h0.9v0.9h-0.9zM448.7 89.9h0.9v0.9h-0.9zM442.2 105.1h0.9v0.9h-0.9zM429.6 100.8h0.9v0.9h-0.9zM440.2 94.7h0.9v0.9h-0.9zM450.0 98.3h0.9v0.9h-0.9zM460.9 103.3h0.9v0.9h-0.9zM455.3 88.3h0.9v0.9h-0.9zM464.7 89.5h0.9v0.9h-0.9zM447.5 108.7h0.9v0.9h-0.9zM447.6 100.5h0.9v0.9h-0.9zM445.0 100.0h0.9v0.9h-0.9zM427.9 96.5h0.9v0.9h-0.9zM443.9 95.3h0.9v0.9h-0.9zM444.9 87.6h0.9v0.9h-0.9zM441.4 83.4h0.9v0.9h-0.9zM454.2 107.4h0.9v0.9h-0.9zM453.3 82.9h0.9v0.9h-0.9zM451.1 104.3h0.9v0.9h-0.9zM451.1 88.1h0.9v0.9h-0.9zM436.3 98.3h0.9v0.9h-0.9zM449.7 88.7h0.9v0.9h-0.9zM425.5 94.6h0.9v0.9h-0.9zM455.3 101.9h0.9v0.9h-0.9zM457.0 86.1h0.9v0.9h-0.9zM438.5 91.2h0.9v0.9h-0.9zM449.4 86.5h0.9v0.9h-0.9zM444.3 93.6h0.9v0.9h-0.9zM447.8 96.8h0.9v0.9h-0.9zM454.2 98.5h0.9v0.9h-0.9zM459.8 91.0h0.9v0.9h-0.9zM464.7 88.2h0.9v0.9h-0.9zM467.1 99.3h0.9v0.9h-0.9zM451.5 104.1h0.9v0.9h-0.9zM432.0 102.6h0.9v0.9h-0.9zM459.3 104.6h0.9v0.9h-0.9zM440.1 108.8h0.9v0.9h-0.9zM437.4 101.8h0.9v0.9h-0.9zM462.7 105.2h0.9v0.9h-0.9zM457.5 94.0h0.9v0.9h-0.9zM441.4 93.3h0.9v0.9h-0.9zM453.9 93.7h0.9v0.9h-0.9zM449.9 95.9h0.9v0.9h-0.9zM456.6 84.3h0.9v0.9h-0.9zM454.8 97.7h0.9v0.9h-0.9zM471.0 92.0h0.9v0.9h-0.9zM451.6 107.4h0.9v0.9h-0.9zM439.1 95.7h0.9v0.9h-0.9zM450.0 83.9h0.9v0.9h-0.9zM464.5 90.6h0.9v0.9h-0.9zM454.1 101.0h0.9v0.9h-0.9zM431.4 95.8h0.9v0.9h-0.9zM455.0 85.0h0.9v0.9h-0.9zM447.9 96.4h0.9v0.9h-0.9zM453.8 94.6h0.9v0.9h-0.9z"/><path fill="#3a5ccc" d="M420.2 105.8h0.9v0.9h-0.9zM421.2 90.0h0.9v0.9h-0.9zM420.3 97.6h0.9v0.9h-0.9zM419.7 102.1h0.9v0.9h-0.9zM418.6 93.4h0.9v0.9h-0.9zM424.3 97.2h0.9v0.9h-0.9zM419.2 99.3h0.9v0.9h-0.9zM418.3 99.5h0.9v0.9h-0.9zM423.7 90.2h0.9v0.9h-0.9zM420.0 104.0h0.9v0.9h-0.9zM424.1 88.0h0.9v0.9h-0.9zM422.9 107.0h0.9v0.9h-0.9zM420.5 99.3h0.9v0.9h-0.9zM424.0 92.5h0.9v0.9h-0.9zM418.2 100.3h0.9v0.9h-0.9zM425.6 95.4h0.9v0.9h-0.9zM422.3 99.4h0.9v0.9h-0.9zM422.4 92.1h0.9v0.9h-0.9zM420.9 85.4h0.9v0.9h-0.9zM416.6 90.3h0.9v0.9h-0.9zM419.1 102.6h0.9v0.9h-0.9zM421.4 91.2h0.9v0.9h-0.9zM424.1 105.0h0.9v0.9h-0.9zM422.5 106.9h0.9v0.9h-0.9zM423.8 106.2h0.9v0.9h-0.9zM424.1 97.0h0.9v0.9h-0.9zM419.9 93.3h0.9v0.9h-0.9zM421.2 105.4h0.9v0.9h-0.9zM424.2 98.5h0.9v0.9h-0.9zM423.5 99.2h0.9v0.9h-0.9zM422.5 88.9h0.9v0.9h-0.9zM419.2 95.6h0.9v0.9h-0.9zM420.7 97.5h0.9v0.9h-0.9zM423.4 96.7h0.9v0.9h-0.9zM420.7 90.1h0.9v0.9h-0.9zM423.0 104.2h0.9v0.9h-0.9zM422.4 97.2h0.9v0.9h-0.9zM425.1 94.3h0.9v0.9h-0.9zM424.8 93.8h0.9v0.9h-0.9zM421.3 103.6h0.9v0.9h-0.9zM420.1 98.8h0.9v0.9h-0.9zM416.8 97.9h0.9v0.9h-0.9zM424.2 100.1h0.9v0.9h-0.9zM420.1 105.7h0.9v0.9h-0.9zM422.2 89.7h0.9v0.9h-0.9zM421.7 90.6h0.9v0.9h-0.9zM422.0 101.3h0.9v0.9h-0.9zM419.5 99.5h0.9v0.9h-0.9zM418.8 97.8h0.9v0.9h-0.9zM421.9 107.5h0.9v0.9h-0.9zM421.3 94.7h0.9v0.9h-0.9zM418.2 96.1h0.9v0.9h-0.9zM423.9 102.5h0.9v0.9h-0.9zM419.2 102.2h0.9v0.9h-0.9zM422.3 100.1h0.9v0.9h-0.9zM425.9 97.0h0.9v0.9h-0.9zM421.3 102.6h0.9v0.9h-0.9zM420.0 97.4h0.9v0.9h-0.9zM420.1 103.1h0.9v0.9h-0.9zM422.1 90.7h0.9v0.9h-0.9zM421.4 96.7h0.9v0.9h-0.9zM424.4 99.6h0.9v0.9h-0.9zM420.2 95.9h0.9v0.9h-0.9zM423.0 87.2h0.9v0.9h-0.9zM420.0 90.3h0.9v0.9h-0.9zM422.3 106.3h0.9v0.9h-0.9zM424.3 98.8h0.9v0.9h-0.9zM417.4 97.7h0.9v0.9h-0.9zM419.9 99.9h0.9v0.9h-0.9zM418.6 93.0h0.9v0.9h-0.9zM423.8 102.1h0.9v0.9h-0.9zM425.4 102.5h0.9v0.9h-0.9zM416.3 93.6h0.9v0.9h-0.9zM420.7 106.6h0.9v0.9h-0.9zM418.6 90.8h0.9v0.9h-0.9zM423.3 94.5h0.9v0.9h-0.9zM419.6 94.7h0.9v0.9h-0.9zM424.6 89.2h0.9v0.9h-0.9zM423.8 100.0h0.9v0.9h-0.9zM423.7 96.2h0.9v0.9h-0.9zM422.8 100.2h0.9v0.9h-0.9zM417.4 89.8h0.9v0.9h-0.9zM425.6 101.1h0.9v0.9h-0.9zM420.1 102.8h0.9v0.9h-0.9zM420.9 104.2h0.9v0.9h-0.9zM419.6 100.9h0.9v0.9h-0.9zM422.9 87.3h0.9v0.9h-0.9zM416.3 100.0h0.9v0.9h-0.9zM418.7 96.0h0.9v0.9h-0.9zM416.8 94.8h0.9v0.9h-0.9zM420.9 105.9h0.9v0.9h-0.9zM421.2 95.9h0.9v0.9h-0.9zM416.4 93.6h0.9v0.9h-0.9zM416.0 93.1h0.9v0.9h-0.9zM422.4 86.2h0.9v0.9h-0.9zM423.9 104.8h0.9v0.9h-0.9zM424.0 92.1h0.9v0.9h-0.9zM417.8 96.1h0.9v0.9h-0.9zM420.4 95.0h0.9v0.9h-0.9zM423.4 98.8h0.9v0.9h-0.9zM424.9 92.7h0.9v0.9h-0.9zM419.3 101.2h0.9v0.9h-0.9zM425.6 95.3h0.9v0.9h-0.9zM418.8 101.0h0.9v0.9h-0.9zM424.2 91.4h0.9v0.9h-0.9zM423.9 87.5h0.9v0.9h-0.9zM421.0 106.9h0.9v0.9h-0.9zM418.7 99.2h0.9v0.9h-0.9zM418.1 95.2h0.9v0.9h-0.9zM422.1 92.0h0.9v0.9h-0.9z"/><path fill="#3f8fe0" d="M404.7 89.7h0.9v0.9h-0.9zM407.1 88.0h0.9v0.9h-0.9zM409.3 97.1h0.9v0.9h-0.9zM410.6 90.5h0.9v0.9h-0.9zM408.9 96.5h0.9v0.9h-0.9zM414.1 95.9h0.9v0.9h-0.9zM405.9 95.3h0.9v0.9h-0.9zM411.1 104.9h0.9v0.9h-0.9zM408.3 94.8h0.9v0.9h-0.9zM409.9 97.2h0.9v0.9h-0.9zM405.7 97.5h0.9v0.9h-0.9zM404.8 95.0h0.9v0.9h-0.9zM414.6 98.7h0.9v0.9h-0.9zM408.4 101.1h0.9v0.9h-0.9zM408.9 91.6h0.9v0.9h-0.9zM411.1 88.6h0.9v0.9h-0.9zM408.1 107.7h0.9v0.9h-0.9zM404.5 92.0h0.9v0.9h-0.9zM406.3 101.9h0.9v0.9h-0.9zM404.5 103.1h0.9v0.9h-0.9zM408.8 99.8h0.9v0.9h-0.9zM406.9 104.0h0.9v0.9h-0.9zM410.1 86.9h0.9v0.9h-0.9zM405.5 105.7h0.9v0.9h-0.9zM414.0 90.8h0.9v0.9h-0.9zM407.7 86.9h0.9v0.9h-0.9zM414.4 97.9h0.9v0.9h-0.9zM410.0 96.2h0.9v0.9h-0.9zM413.2 96.5h0.9v0.9h-0.9zM404.0 91.2h0.9v0.9h-0.9zM410.3 101.9h0.9v0.9h-0.9zM410.2 100.7h0.9v0.9h-0.9zM408.1 98.4h0.9v0.9h-0.9zM412.6 101.3h0.9v0.9h-0.9zM409.4 96.6h0.9v0.9h-0.9zM407.8 98.2h0.9v0.9h-0.9zM414.7 97.2h0.9v0.9h-0.9zM407.4 99.7h0.9v0.9h-0.9zM410.9 105.6h0.9v0.9h-0.9zM407.3 95.3h0.9v0.9h-0.9zM412.2 102.8h0.9v0.9h-0.9zM407.3 95.8h0.9v0.9h-0.9zM406.6 103.8h0.9v0.9h-0.9zM408.8 83.8h0.9v0.9h-0.9zM408.3 93.7h0.9v0.9h-0.9zM413.5 102.1h0.9v0.9h-0.9zM412.1 90.0h0.9v0.9h-0.9zM404.5 94.2h0.9v0.9h-0.9zM406.0 102.0h0.9v0.9h-0.9zM412.2 97.4h0.9v0.9h-0.9zM410.3 103.5h0.9v0.9h-0.9zM411.2 87.3h0.9v0.9h-0.9zM411.0 86.2h0.9v0.9h-0.9zM403.5 97.4h0.9v0.9h-0.9zM412.4 85.4h0.9v0.9h-0.9zM407.6 95.9h0.9v0.9h-0.9zM404.6 103.8h0.9v0.9h-0.9zM410.0 101.2h0.9v0.9h-0.9zM409.6 84.7h0.9v0.9h-0.9zM408.9 96.4h0.9v0.9h-0.9zM409.3 96.3h0.9v0.9h-0.9zM412.3 95.3h0.9v0.9h-0.9zM409.1 93.6h0.9v0.9h-0.9zM411.3 98.9h0.9v0.9h-0.9zM409.1 91.3h0.9v0.9h-0.9zM408.7 91.8h0.9v0.9h-0.9zM410.0 98.1h0.9v0.9h-0.9zM412.6 90.3h0.9v0.9h-0.9zM405.4 100.8h0.9v0.9h-0.9zM404.2 91.0h0.9v0.9h-0.9zM411.4 91.0h0.9v0.9h-0.9zM403.4 98.5h0.9v0.9h-0.9zM414.7 89.7h0.9v0.9h-0.9zM408.5 103.7h0.9v0.9h-0.9zM413.4 91.7h0.9v0.9h-0.9zM411.4 94.3h0.9v0.9h-0.9zM407.2 93.5h0.9v0.9h-0.9zM407.2 105.0h0.9v0.9h-0.9zM408.6 94.4h0.9v0.9h-0.9zM408.7 88.3h0.9v0.9h-0.9zM407.4 93.2h0.9v0.9h-0.9zM408.9 96.4h0.9v0.9h-0.9zM409.8 84.1h0.9v0.9h-0.9zM406.0 101.3h0.9v0.9h-0.9zM404.7 98.2h0.9v0.9h-0.9zM410.9 92.1h0.9v0.9h-0.9zM408.1 91.5h0.9v0.9h-0.9zM409.8 91.3h0.9v0.9h-0.9zM407.7 98.1h0.9v0.9h-0.9zM412.3 103.4h0.9v0.9h-0.9zM407.0 104.0h0.9v0.9h-0.9zM412.4 106.3h0.9v0.9h-0.9zM408.4 100.5h0.9v0.9h-0.9zM409.8 101.3h0.9v0.9h-0.9zM408.0 103.7h0.9v0.9h-0.9zM410.8 94.2h0.9v0.9h-0.9zM410.2 87.3h0.9v0.9h-0.9zM409.7 95.5h0.9v0.9h-0.9zM409.0 95.1h0.9v0.9h-0.9zM408.4 98.3h0.9v0.9h-0.9zM407.0 97.1h0.9v0.9h-0.9zM411.8 87.9h0.9v0.9h-0.9zM411.6 91.6h0.9v0.9h-0.9zM405.7 90.4h0.9v0.9h-0.9zM404.1 91.2h0.9v0.9h-0.9zM408.2 97.5h0.9v0.9h-0.9zM404.0 91.2h0.9v0.9h-0.9zM408.5 87.1h0.9v0.9h-0.9zM405.8 104.1h0.9v0.9h-0.9zM411.2 97.3h0.9v0.9h-0.9zM406.4 93.8h0.9v0.9h-0.9zM414.1 96.4h0.9v0.9h-0.9zM408.0 93.1h0.9v0.9h-0.9zM407.4 103.4h0.9v0.9h-0.9zM412.8 101.0h0.9v0.9h-0.9zM412.3 102.0h0.9v0.9h-0.9zM411.6 100.1h0.9v0.9h-0.9zM409.5 93.0h0.9v0.9h-0.9zM407.0 104.6h0.9v0.9h-0.9zM407.7 94.1h0.9v0.9h-0.9zM414.3 96.7h0.9v0.9h-0.9zM412.1 85.8h0.9v0.9h-0.9zM406.5 100.5h0.9v0.9h-0.9zM410.1 98.8h0.9v0.9h-0.9zM412.0 89.3h0.9v0.9h-0.9zM411.8 105.5h0.9v0.9h-0.9zM410.3 85.8h0.9v0.9h-0.9zM405.7 102.6h0.9v0.9h-0.9zM407.4 86.9h0.9v0.9h-0.9zM409.3 94.5h0.9v0.9h-0.9zM409.6 91.3h0.9v0.9h-0.9zM409.7 86.7h0.9v0.9h-0.9zM411.4 107.0h0.9v0.9h-0.9zM410.3 95.3h0.9v0.9h-0.9zM403.4 95.3h0.9v0.9h-0.9zM412.7 93.2h0.9v0.9h-0.9zM410.7 87.7h0.9v0.9h-0.9zM406.6 106.4h0.9v0.9h-0.9zM414.4 101.9h0.9v0.9h-0.9zM408.5 101.7h0.9v0.9h-0.9zM409.5 99.9h0.9v0.9h-0.9zM409.6 88.0h0.9v0.9h-0.9zM404.9 94.1h0.9v0.9h-0.9zM413.7 95.8h0.9v0.9h-0.9zM410.3 102.1h0.9v0.9h-0.9zM407.8 100.8h0.9v0.9h-0.9zM410.5 104.3h0.9v0.9h-0.9zM411.3 104.9h0.9v0.9h-0.9zM415.2 94.5h0.9v0.9h-0.9zM410.0 104.7h0.9v0.9h-0.9z"/><path fill="#3f8fe0" d="M436.2 95.0h0.9v0.9h-0.9zM438.0 98.9h0.9v0.9h-0.9zM467.1 92.2h0.9v0.9h-0.9zM436.0 90.4h0.9v0.9h-0.9zM438.9 88.4h0.9v0.9h-0.9zM440.6 90.2h0.9v0.9h-0.9zM441.8 100.5h0.9v0.9h-0.9zM448.0 97.5h0.9v0.9h-0.9zM445.3 91.3h0.9v0.9h-0.9zM452.2 92.3h0.9v0.9h-0.9zM447.4 87.0h0.9v0.9h-0.9zM453.4 94.0h0.9v0.9h-0.9zM440.7 93.9h0.9v0.9h-0.9zM448.0 91.5h0.9v0.9h-0.9zM447.1 91.8h0.9v0.9h-0.9zM438.9 102.9h0.9v0.9h-0.9zM444.7 90.8h0.9v0.9h-0.9zM449.1 91.7h0.9v0.9h-0.9zM443.6 90.9h0.9v0.9h-0.9zM445.6 92.4h0.9v0.9h-0.9zM460.4 90.4h0.9v0.9h-0.9zM450.3 84.5h0.9v0.9h-0.9zM447.3 95.7h0.9v0.9h-0.9zM446.9 97.2h0.9v0.9h-0.9zM451.1 102.3h0.9v0.9h-0.9zM437.8 95.9h0.9v0.9h-0.9zM450.7 101.8h0.9v0.9h-0.9zM442.9 90.6h0.9v0.9h-0.9zM441.7 103.7h0.9v0.9h-0.9zM457.6 89.9h0.9v0.9h-0.9zM452.8 94.7h0.9v0.9h-0.9zM447.2 94.1h0.9v0.9h-0.9zM452.3 94.9h0.9v0.9h-0.9zM459.5 92.9h0.9v0.9h-0.9zM445.1 94.6h0.9v0.9h-0.9zM447.9 91.9h0.9v0.9h-0.9zM461.0 98.8h0.9v0.9h-0.9zM449.7 91.2h0.9v0.9h-0.9zM448.4 94.5h0.9v0.9h-0.9zM444.1 85.2h0.9v0.9h-0.9zM455.4 88.5h0.9v0.9h-0.9zM441.9 101.5h0.9v0.9h-0.9zM448.4 93.9h0.9v0.9h-0.9zM436.8 99.8h0.9v0.9h-0.9zM455.0 93.4h0.9v0.9h-0.9zM441.9 102.4h0.9v0.9h-0.9zM439.7 91.8h0.9v0.9h-0.9zM446.1 87.9h0.9v0.9h-0.9zM443.5 97.4h0.9v0.9h-0.9zM448.0 100.2h0.9v0.9h-0.9zM444.8 86.0h0.9v0.9h-0.9zM447.8 94.9h0.9v0.9h-0.9zM457.5 101.1h0.9v0.9h-0.9zM453.1 93.5h0.9v0.9h-0.9zM463.3 98.1h0.9v0.9h-0.9zM432.9 96.7h0.9v0.9h-0.9zM447.5 101.7h0.9v0.9h-0.9zM449.5 93.7h0.9v0.9h-0.9zM442.2 91.6h0.9v0.9h-0.9zM448.2 89.1h0.9v0.9h-0.9zM445.4 101.2h0.9v0.9h-0.9zM455.6 91.5h0.9v0.9h-0.9zM463.1 94.7h0.9v0.9h-0.9zM447.7 92.7h0.9v0.9h-0.9zM463.9 94.6h0.9v0.9h-0.9zM448.1 85.0h0.9v0.9h-0.9zM453.8 90.7h0.9v0.9h-0.9zM449.0 94.5h0.9v0.9h-0.9zM435.9 95.7h0.9v0.9h-0.9zM436.6 94.4h0.9v0.9h-0.9zM440.5 97.1h0.9v0.9h-0.9zM449.2 94.2h0.9v0.9h-0.9zM442.2 93.1h0.9v0.9h-0.9zM439.1 94.0h0.9v0.9h-0.9zM438.4 87.6h0.9v0.9h-0.9zM445.3 101.7h0.9v0.9h-0.9zM460.9 90.2h0.9v0.9h-0.9zM446.6 103.7h0.9v0.9h-0.9zM445.1 94.5h0.9v0.9h-0.9zM448.5 93.5h0.9v0.9h-0.9zM465.9 89.1h0.9v0.9h-0.9zM456.0 88.6h0.9v0.9h-0.9zM460.4 87.7h0.9v0.9h-0.9zM450.3 99.1h0.9v0.9h-0.9zM438.1 95.7h0.9v0.9h-0.9zM444.9 97.8h0.9v0.9h-0.9zM449.4 91.7h0.9v0.9h-0.9zM461.2 91.7h0.9v0.9h-0.9zM450.1 89.3h0.9v0.9h-0.9zM450.3 103.5h0.9v0.9h-0.9zM450.6 103.9h0.9v0.9h-0.9zM431.1 92.1h0.9v0.9h-0.9zM448.9 97.8h0.9v0.9h-0.9zM448.3 96.3h0.9v0.9h-0.9zM433.9 94.7h0.9v0.9h-0.9zM451.5 96.6h0.9v0.9h-0.9zM448.2 93.7h0.9v0.9h-0.9zM454.3 88.2h0.9v0.9h-0.9zM449.4 89.9h0.9v0.9h-0.9zM446.7 98.1h0.9v0.9h-0.9zM454.4 91.2h0.9v0.9h-0.9zM452.3 94.0h0.9v0.9h-0.9zM451.7 89.5h0.9v0.9h-0.9zM442.5 99.5h0.9v0.9h-0.9zM452.5 101.5h0.9v0.9h-0.9zM444.8 87.7h0.9v0.9h-0.9zM444.7 90.0h0.9v0.9h-0.9zM443.4 99.3h0.9v0.9h-0.9zM458.8 91.9h0.9v0.9h-0.9zM453.5 94.5h0.9v0.9h-0.9zM450.3 97.8h0.9v0.9h-0.9zM438.7 100.2h0.9v0.9h-0.9zM456.8 98.5h0.9v0.9h-0.9zM446.3 87.0h0.9v0.9h-0.9zM439.1 103.2h0.9v0.9h-0.9zM450.8 94.7h0.9v0.9h-0.9zM443.7 98.0h0.9v0.9h-0.9zM444.9 96.7h0.9v0.9h-0.9zM434.9 101.5h0.9v0.9h-0.9zM440.5 99.2h0.9v0.9h-0.9zM447.8 93.5h0.9v0.9h-0.9zM435.5 90.9h0.9v0.9h-0.9zM459.5 86.8h0.9v0.9h-0.9zM455.1 97.7h0.9v0.9h-0.9zM455.3 93.2h0.9v0.9h-0.9zM455.4 94.3h0.9v0.9h-0.9zM437.3 99.9h0.9v0.9h-0.9zM436.2 90.5h0.9v0.9h-0.9zM446.8 95.6h0.9v0.9h-0.9zM444.8 88.4h0.9v0.9h-0.9zM442.0 96.1h0.9v0.9h-0.9zM460.2 97.1h0.9v0.9h-0.9zM462.1 90.7h0.9v0.9h-0.9zM447.4 95.5h0.9v0.9h-0.9zM456.3 91.4h0.9v0.9h-0.9zM450.3 102.3h0.9v0.9h-0.9zM438.3 99.1h0.9v0.9h-0.9zM456.5 84.9h0.9v0.9h-0.9zM433.6 92.4h0.9v0.9h-0.9zM454.5 101.5h0.9v0.9h-0.9zM449.6 94.2h0.9v0.9h-0.9zM435.4 89.7h0.9v0.9h-0.9zM439.4 92.9h0.9v0.9h-0.9zM448.8 97.5h0.9v0.9h-0.9zM442.9 100.3h0.9v0.9h-0.9zM443.4 90.9h0.9v0.9h-0.9zM437.2 95.6h0.9v0.9h-0.9zM434.7 93.1h0.9v0.9h-0.9zM447.3 99.2h0.9v0.9h-0.9zM437.0 96.9h0.9v0.9h-0.9zM455.4 99.8h0.9v0.9h-0.9zM449.4 99.8h0.9v0.9h-0.9zM454.1 88.8h0.9v0.9h-0.9zM449.6 96.3h0.9v0.9h-0.9zM461.3 87.8h0.9v0.9h-0.9zM436.1 95.0h0.9v0.9h-0.9zM437.5 98.7h0.9v0.9h-0.9zM443.0 92.7h0.9v0.9h-0.9zM433.7 93.2h0.9v0.9h-0.9zM439.7 96.7h0.9v0.9h-0.9zM448.9 94.2h0.9v0.9h-0.9zM467.6 92.7h0.9v0.9h-0.9zM439.1 99.6h0.9v0.9h-0.9zM450.9 96.2h0.9v0.9h-0.9zM446.7 95.1h0.9v0.9h-0.9zM458.8 94.6h0.9v0.9h-0.9zM451.3 99.1h0.9v0.9h-0.9zM449.3 88.6h0.9v0.9h-0.9zM447.5 94.5h0.9v0.9h-0.9zM450.8 102.7h0.9v0.9h-0.9zM443.7 91.6h0.9v0.9h-0.9zM462.4 92.4h0.9v0.9h-0.9zM441.8 94.6h0.9v0.9h-0.9zM458.1 94.4h0.9v0.9h-0.9zM454.7 93.2h0.9v0.9h-0.9zM446.5 92.4h0.9v0.9h-0.9zM455.3 92.3h0.9v0.9h-0.9zM448.4 95.8h0.9v0.9h-0.9zM449.6 98.1h0.9v0.9h-0.9zM435.6 95.6h0.9v0.9h-0.9zM448.6 94.3h0.9v0.9h-0.9zM451.0 98.0h0.9v0.9h-0.9zM441.1 96.2h0.9v0.9h-0.9zM436.6 90.0h0.9v0.9h-0.9zM434.9 95.6h0.9v0.9h-0.9zM437.6 96.9h0.9v0.9h-0.9zM437.5 97.4h0.9v0.9h-0.9zM455.7 89.0h0.9v0.9h-0.9zM457.4 85.1h0.9v0.9h-0.9zM456.0 95.4h0.9v0.9h-0.9zM445.1 90.3h0.9v0.9h-0.9zM458.1 96.3h0.9v0.9h-0.9zM455.2 87.5h0.9v0.9h-0.9zM454.7 91.5h0.9v0.9h-0.9zM449.6 95.2h0.9v0.9h-0.9zM450.7 92.7h0.9v0.9h-0.9zM446.7 96.5h0.9v0.9h-0.9zM446.1 100.7h0.9v0.9h-0.9zM446.2 94.4h0.9v0.9h-0.9zM432.4 94.4h0.9v0.9h-0.9zM447.4 87.3h0.9v0.9h-0.9zM459.9 98.5h0.9v0.9h-0.9zM444.9 86.7h0.9v0.9h-0.9zM448.0 93.6h0.9v0.9h-0.9zM446.2 93.1h0.9v0.9h-0.9zM458.0 97.3h0.9v0.9h-0.9zM451.4 89.2h0.9v0.9h-0.9zM455.3 92.8h0.9v0.9h-0.9zM457.2 94.5h0.9v0.9h-0.9zM453.3 103.1h0.9v0.9h-0.9zM458.1 94.5h0.9v0.9h-0.9zM458.5 96.4h0.9v0.9h-0.9zM445.3 85.8h0.9v0.9h-0.9zM446.2 91.7h0.9v0.9h-0.9zM456.6 103.2h0.9v0.9h-0.9zM447.3 103.4h0.9v0.9h-0.9zM450.1 91.9h0.9v0.9h-0.9zM444.5 91.8h0.9v0.9h-0.9zM447.5 94.3h0.9v0.9h-0.9zM437.6 102.0h0.9v0.9h-0.9zM459.4 90.6h0.9v0.9h-0.9zM462.8 93.5h0.9v0.9h-0.9zM439.0 97.4h0.9v0.9h-0.9zM444.6 94.1h0.9v0.9h-0.9zM444.5 95.7h0.9v0.9h-0.9zM455.7 94.0h0.9v0.9h-0.9zM458.2 94.7h0.9v0.9h-0.9zM433.8 91.8h0.9v0.9h-0.9zM464.0 93.1h0.9v0.9h-0.9zM457.5 91.8h0.9v0.9h-0.9zM450.7 93.7h0.9v0.9h-0.9zM447.9 92.9h0.9v0.9h-0.9zM434.7 94.1h0.9v0.9h-0.9zM450.3 98.5h0.9v0.9h-0.9zM467.0 94.1h0.9v0.9h-0.9zM439.3 99.6h0.9v0.9h-0.9zM449.9 98.3h0.9v0.9h-0.9zM454.2 92.8h0.9v0.9h-0.9zM455.4 92.7h0.9v0.9h-0.9zM444.6 98.2h0.9v0.9h-0.9zM464.0 88.6h0.9v0.9h-0.9zM438.3 97.3h0.9v0.9h-0.9zM449.0 94.2h0.9v0.9h-0.9zM442.1 102.9h0.9v0.9h-0.9zM464.9 95.8h0.9v0.9h-0.9zM446.3 98.8h0.9v0.9h-0.9zM435.2 98.6h0.9v0.9h-0.9zM453.1 87.4h0.9v0.9h-0.9zM445.8 99.0h0.9v0.9h-0.9zM438.5 101.4h0.9v0.9h-0.9zM439.5 89.6h0.9v0.9h-0.9zM439.8 94.2h0.9v0.9h-0.9zM435.1 91.7h0.9v0.9h-0.9zM450.4 100.3h0.9v0.9h-0.9zM450.0 95.9h0.9v0.9h-0.9zM445.5 94.2h0.9v0.9h-0.9zM440.8 93.6h0.9v0.9h-0.9zM434.2 97.1h0.9v0.9h-0.9zM451.6 100.5h0.9v0.9h-0.9zM450.1 95.7h0.9v0.9h-0.9zM452.4 92.2h0.9v0.9h-0.9zM440.4 88.2h0.9v0.9h-0.9zM462.6 90.5h0.9v0.9h-0.9zM465.9 90.3h0.9v0.9h-0.9zM464.3 95.4h0.9v0.9h-0.9zM449.5 92.4h0.9v0.9h-0.9zM449.0 93.8h0.9v0.9h-0.9zM439.2 93.1h0.9v0.9h-0.9zM463.6 93.1h0.9v0.9h-0.9zM439.2 102.9h0.9v0.9h-0.9zM442.7 93.7h0.9v0.9h-0.9zM458.4 100.3h0.9v0.9h-0.9zM460.1 96.4h0.9v0.9h-0.9zM461.6 98.5h0.9v0.9h-0.9zM449.6 91.5h0.9v0.9h-0.9zM449.6 91.0h0.9v0.9h-0.9zM459.1 86.4h0.9v0.9h-0.9zM443.7 97.5h0.9v0.9h-0.9zM454.3 93.2h0.9v0.9h-0.9zM453.7 96.5h0.9v0.9h-0.9zM445.8 94.0h0.9v0.9h-0.9zM448.0 94.3h0.9v0.9h-0.9zM451.7 88.1h0.9v0.9h-0.9zM461.3 97.7h0.9v0.9h-0.9zM455.5 101.8h0.9v0.9h-0.9zM439.2 101.9h0.9v0.9h-0.9zM440.9 87.8h0.9v0.9h-0.9zM460.1 91.5h0.9v0.9h-0.9zM436.4 90.1h0.9v0.9h-0.9zM439.6 93.5h0.9v0.9h-0.9zM447.1 99.1h0.9v0.9h-0.9zM435.9 96.9h0.9v0.9h-0.9zM440.9 85.5h0.9v0.9h-0.9zM443.6 96.4h0.9v0.9h-0.9zM459.1 88.5h0.9v0.9h-0.9zM442.8 101.2h0.9v0.9h-0.9zM446.7 90.9h0.9v0.9h-0.9zM456.6 101.0h0.9v0.9h-0.9zM438.5 103.0h0.9v0.9h-0.9zM454.8 85.5h0.9v0.9h-0.9z"/></g><ellipse cx="410" cy="93" rx="5.8" ry="11" fill="url(#gL)"/><ellipse cx="449.5" cy="93" rx="17" ry="9.2" fill="url(#gR)" transform="rotate(-5 449.5 93)"/>
<rect x="397.2" y="50.4" width="106.4" height="107.5" fill="none" stroke="#000" stroke-width="1.8" />
<rect x="397.2" y="75.2" width="99.5" height="55.6" fill="none" stroke="#000" stroke-width="1.6" />
<line x1="426.3" y1="75.2" x2="426.3" y2="130.8" stroke="#000" stroke-width="1.5" />
<text x="491.5" y="125.6" font-size="11.5" text-anchor="end" fill="#1a1a1a" stroke="#1a1a1a" stroke-width="0.2" textLength="32" lengthAdjust="spacingAndGlyphs" >67.2%</text>
<line x1="394.2" y1="60.2" x2="397.2" y2="60.2" stroke="#333" stroke-width="0.9" />
<line x1="394.2" y1="68.1" x2="397.2" y2="68.1" stroke="#333" stroke-width="0.9" />
<line x1="394.2" y1="86.5" x2="397.2" y2="86.5" stroke="#333" stroke-width="0.9" />
<line x1="394.2" y1="94.4" x2="397.2" y2="94.4" stroke="#333" stroke-width="0.9" />
<line x1="394.2" y1="115.8" x2="397.2" y2="115.8" stroke="#333" stroke-width="0.9" />
<line x1="394.2" y1="123.7" x2="397.2" y2="123.7" stroke="#333" stroke-width="0.9" />
<line x1="394.2" y1="142" x2="397.2" y2="142" stroke="#333" stroke-width="0.9" />
<line x1="394.2" y1="151.2" x2="397.2" y2="151.2" stroke="#333" stroke-width="0.9" />
<ellipse cx="396.2" cy="133.6" rx="1.3" ry="1.8" fill="#111"/>
<line x1="399" y1="159.6" x2="500" y2="159.6" stroke="#777" stroke-width="1.6" stroke-dasharray="1 1.4"/>
<ellipse cx="408.8" cy="159.6" rx="1.4" ry="1.3" fill="#111"/>
<text x="11.2" y="223.5" font-size="17.5" text-anchor="start" fill="#000" font-weight="bold" >C</text>
<line x1="54.2" y1="227.3" x2="70.8" y2="227.3" stroke="#3d72a4" stroke-width="1.5" />
<line x1="54.2" y1="241.4" x2="70.8" y2="241.4" stroke="#3d72a4" stroke-width="1.5" stroke-dasharray="4.2 2.1"/>
<text x="75.6" y="229.5" font-size="10" text-anchor="start" fill="#1a1a1a" stroke="#1a1a1a" stroke-width="0.2" textLength="70.9" lengthAdjust="spacingAndGlyphs" >p-value &lt; 0.01</text>
<text x="75.6" y="243.8" font-size="10" text-anchor="start" fill="#1a1a1a" stroke="#1a1a1a" stroke-width="0.2" textLength="76.7" lengthAdjust="spacingAndGlyphs" >p-value &lt; 0.001</text>
<rect x="51.7" y="318.11" width="13.0" height="51.89" fill="#c41230" stroke="none" stroke-width="1" />
<text transform="translate(62.4,374.8) rotate(-90)" font-size="12" text-anchor="end" fill="#1a1a1a" stroke="#1a1a1a" stroke-width="0.2" >CD45</text>
<rect x="67.37" y="333.62" width="13.0" height="36.38" fill="#c41230" stroke="none" stroke-width="1" />
<text transform="translate(78.07,374.8) rotate(-90)" font-size="12" text-anchor="end" fill="#1a1a1a" stroke="#1a1a1a" stroke-width="0.2" >Neutrophils</text>
<rect x="83.04" y="285.4" width="13.0" height="84.6" fill="#c41230" stroke="none" stroke-width="1" />
<text transform="translate(93.74,374.8) rotate(-90)" font-size="12" text-anchor="end" fill="#1a1a1a" stroke="#1a1a1a" stroke-width="0.2" >Cytotoxic cells</text>
<rect x="98.71" y="369.15" width="13.0" height="0.85" fill="#c41230" stroke="none" stroke-width="1" />
<text transform="translate(109.41,374.8) rotate(-90)" font-size="12" text-anchor="end" fill="#1a1a1a" stroke="#1a1a1a" stroke-width="0.2" >Th1 cells</text>
<rect x="114.38" y="369.15" width="13.0" height="0.85" fill="#c41230" stroke="none" stroke-width="1" />
<text transform="translate(125.08,374.8) rotate(-90)" font-size="12" text-anchor="end" fill="#1a1a1a" stroke="#1a1a1a" stroke-width="0.2" >NK CD56dim cells</text>
<rect x="130.05" y="256.64" width="13.0" height="113.36" fill="#c41230" stroke="none" stroke-width="1" />
<text transform="translate(140.75,374.8) rotate(-90)" font-size="12" text-anchor="end" fill="#1a1a1a" stroke="#1a1a1a" stroke-width="0.2" >T cells</text>
<rect x="145.72" y="298.09" width="13.0" height="71.91" fill="#c41230" stroke="none" stroke-width="1" />
<text transform="translate(156.42,374.8) rotate(-90)" font-size="12" text-anchor="end" fill="#1a1a1a" stroke="#1a1a1a" stroke-width="0.2" >Macrophages</text>
<rect x="161.39" y="368.31" width="13.0" height="1.69" fill="#c41230" stroke="none" stroke-width="1" />
<text transform="translate(172.09,374.8) rotate(-90)" font-size="12" text-anchor="end" fill="#1a1a1a" stroke="#1a1a1a" stroke-width="0.2" >Exhausted CD8</text>
<rect x="177.06" y="369.15" width="13.0" height="0.85" fill="#c41230" stroke="none" stroke-width="1" />
<text transform="translate(187.76,374.8) rotate(-90)" font-size="12" text-anchor="end" fill="#1a1a1a" stroke="#1a1a1a" stroke-width="0.2" >CD8 T cells</text>
<line x1="45.0" y1="313.9" x2="197.1" y2="313.9" stroke="#3d72a4" stroke-width="1.7" />
<line x1="45.0" y1="285.8" x2="197.1" y2="285.8" stroke="#3d72a4" stroke-width="1.4" stroke-dasharray="4.6 3.4" stroke-dashoffset="1.7"/>
<line x1="45.2" y1="251.3" x2="45.2" y2="371" stroke="#111" stroke-width="1.5" />
<line x1="44.5" y1="370.3" x2="196.9" y2="370.3" stroke="#111" stroke-width="1.5" />
<line x1="40.2" y1="370.0" x2="45.2" y2="370.0" stroke="#111" stroke-width="1.3" />
<text x="36.4" y="373.8" font-size="11" text-anchor="end" fill="#1a1a1a" stroke="#1a1a1a" stroke-width="0.2" >0</text>
<line x1="40.2" y1="341.8" x2="45.2" y2="341.8" stroke="#111" stroke-width="1.3" />
<text x="36.4" y="345.6" font-size="11" text-anchor="end" fill="#1a1a1a" stroke="#1a1a1a" stroke-width="0.2" >1</text>
<line x1="40.2" y1="313.6" x2="45.2" y2="313.6" stroke="#111" stroke-width="1.3" />
<text x="36.4" y="317.40000000000003" font-size="11" text-anchor="end" fill="#1a1a1a" stroke="#1a1a1a" stroke-width="0.2" >2</text>
<line x1="40.2" y1="285.4" x2="45.2" y2="285.4" stroke="#111" stroke-width="1.3" />
<text x="36.4" y="289.2" font-size="11" text-anchor="end" fill="#1a1a1a" stroke="#1a1a1a" stroke-width="0.2" >3</text>
<line x1="40.2" y1="257.2" x2="45.2" y2="257.2" stroke="#111" stroke-width="1.3" />
<text x="36.4" y="261.0" font-size="11" text-anchor="end" fill="#1a1a1a" stroke="#1a1a1a" stroke-width="0.2" >4</text>
<text transform="translate(20.7,310.8) rotate(-90)" font-size="14" text-anchor="middle" fill="#1a1a1a" stroke="#1a1a1a" stroke-width="0.2" textLength="80.9" lengthAdjust="spacingAndGlyphs" >-log10 (p-value)</text>
<line x1="260" y1="258.1" x2="470.4" y2="258.1" stroke="#9a9a9a" stroke-width="1.2" stroke-dasharray="3.6 2.5"/>
<line x1="260" y1="297.2" x2="470.4" y2="297.2" stroke="#9a9a9a" stroke-width="1.2" stroke-dasharray="3.6 2.5"/>
<g fill="#1b5a8e"><circle cx="346.9" cy="343.5" r="1.2"/><circle cx="343.8" cy="342.3" r="1.2"/><circle cx="333.4" cy="335.5" r="1.2"/><circle cx="376.3" cy="358.0" r="1.2"/><circle cx="304.2" cy="339.2" r="1.2"/><circle cx="382.9" cy="364.7" r="1.2"/><circle cx="364.5" cy="364.8" r="1.2"/><circle cx="315.0" cy="340.7" r="1.2"/><circle cx="333.2" cy="344.2" r="1.2"/><circle cx="304.0" cy="338.7" r="1.2"/><circle cx="359.7" cy="360.5" r="1.2"/><circle cx="315.0" cy="338.6" r="1.2"/><circle cx="383.4" cy="366.6" r="1.2"/><circle cx="303.6" cy="348.0" r="1.2"/><circle cx="364.0" cy="362.8" r="1.2"/><circle cx="323.0" cy="349.0" r="1.2"/><circle cx="380.0" cy="359.5" r="1.2"/><circle cx="347.3" cy="353.9" r="1.2"/><circle cx="332.1" cy="352.4" r="1.2"/><circle cx="361.4" cy="341.2" r="1.2"/><circle cx="351.7" cy="341.1" r="1.2"/><circle cx="363.6" cy="346.5" r="1.2"/><circle cx="377.7" cy="367.7" r="1.2"/><circle cx="335.9" cy="350.1" r="1.2"/><circle cx="344.4" cy="343.3" r="1.2"/><circle cx="370.9" cy="350.5" r="1.2"/><circle cx="368.4" cy="349.6" r="1.2"/><circle cx="307.3" cy="339.2" r="1.2"/><circle cx="382.1" cy="360.9" r="1.2"/><circle cx="362.7" cy="346.0" r="1.2"/><circle cx="370.0" cy="351.0" r="1.2"/><circle cx="338.2" cy="337.2" r="1.2"/><circle cx="382.7" cy="367.7" r="1.2"/><circle cx="369.5" cy="358.7" r="1.2"/><circle cx="354.5" cy="338.3" r="1.2"/><circle cx="328.2" cy="339.9" r="1.2"/><circle cx="380.4" cy="364.7" r="1.2"/><circle cx="382.3" cy="367.4" r="1.2"/><circle cx="358.6" cy="337.9" r="1.2"/><circle cx="323.0" cy="333.9" r="1.2"/><circle cx="320.8" cy="334.5" r="1.2"/><circle cx="309.4" cy="339.9" r="1.2"/><circle cx="338.3" cy="342.4" r="1.2"/><circle cx="332.6" cy="356.5" r="1.2"/><circle cx="313.7" cy="337.4" r="1.2"/><circle cx="336.6" cy="344.4" r="1.2"/><circle cx="322.7" cy="353.1" r="1.2"/><circle cx="365.3" cy="350.5" r="1.2"/><circle cx="382.5" cy="367.7" r="1.2"/><circle cx="369.4" cy="350.7" r="1.2"/><circle cx="312.6" cy="335.9" r="1.2"/><circle cx="318.2" cy="331.6" r="1.2"/><circle cx="337.5" cy="346.3" r="1.2"/><circle cx="314.2" cy="334.7" r="1.2"/><circle cx="361.7" cy="359.7" r="1.2"/><circle cx="365.9" cy="356.3" r="1.2"/><circle cx="358.3" cy="341.1" r="1.2"/><circle cx="377.7" cy="367.0" r="1.2"/><circle cx="328.0" cy="341.3" r="1.2"/><circle cx="382.4" cy="368.4" r="1.2"/><circle cx="317.0" cy="344.7" r="1.2"/><circle cx="332.1" cy="345.6" r="1.2"/><circle cx="318.1" cy="332.5" r="1.2"/><circle cx="345.5" cy="351.5" r="1.2"/><circle cx="326.9" cy="348.7" r="1.2"/><circle cx="326.6" cy="343.5" r="1.2"/><circle cx="351.9" cy="341.2" r="1.2"/><circle cx="308.8" cy="347.9" r="1.2"/><circle cx="309.3" cy="336.2" r="1.2"/><circle cx="308.8" cy="337.0" r="1.2"/><circle cx="317.2" cy="337.7" r="1.2"/><circle cx="310.8" cy="334.8" r="1.2"/><circle cx="357.4" cy="340.5" r="1.2"/><circle cx="376.8" cy="364.9" r="1.2"/><circle cx="344.2" cy="357.2" r="1.2"/><circle cx="320.5" cy="348.5" r="1.2"/><circle cx="372.4" cy="366.1" r="1.2"/><circle cx="315.7" cy="334.6" r="1.2"/><circle cx="367.3" cy="352.9" r="1.2"/><circle cx="331.4" cy="340.9" r="1.2"/><circle cx="357.2" cy="350.5" r="1.2"/><circle cx="366.9" cy="345.1" r="1.2"/><circle cx="337.4" cy="352.5" r="1.2"/><circle cx="334.8" cy="352.8" r="1.2"/><circle cx="351.1" cy="343.3" r="1.2"/><circle cx="327.8" cy="353.5" r="1.2"/><circle cx="306.6" cy="344.1" r="1.2"/><circle cx="348.3" cy="338.7" r="1.2"/><circle cx="357.0" cy="359.7" r="1.2"/><circle cx="373.5" cy="353.8" r="1.2"/><circle cx="366.2" cy="349.4" r="1.2"/><circle cx="333.4" cy="352.3" r="1.2"/><circle cx="343.6" cy="350.1" r="1.2"/><circle cx="349.1" cy="351.4" r="1.2"/><circle cx="370.1" cy="363.3" r="1.2"/><circle cx="340.0" cy="339.5" r="1.2"/><circle cx="363.4" cy="345.8" r="1.2"/><circle cx="358.1" cy="352.9" r="1.2"/><circle cx="304.5" cy="344.6" r="1.2"/><circle cx="362.2" cy="359.8" r="1.2"/><circle cx="320.8" cy="350.3" r="1.2"/><circle cx="380.8" cy="369.1" r="1.2"/><circle cx="343.0" cy="342.1" r="1.2"/><circle cx="368.8" cy="363.0" r="1.2"/><circle cx="339.1" cy="344.5" r="1.2"/><circle cx="366.8" cy="357.9" r="1.2"/><circle cx="379.2" cy="361.8" r="1.2"/><circle cx="357.4" cy="352.1" r="1.2"/><circle cx="333.8" cy="356.4" r="1.2"/><circle cx="368.4" cy="356.2" r="1.2"/><circle cx="368.1" cy="361.3" r="1.2"/><circle cx="310.8" cy="334.4" r="1.2"/><circle cx="351.1" cy="350.3" r="1.2"/><circle cx="318.1" cy="342.7" r="1.2"/><circle cx="322.0" cy="337.8" r="1.2"/><circle cx="311.3" cy="335.6" r="1.2"/><circle cx="351.4" cy="341.5" r="1.2"/><circle cx="346.9" cy="360.0" r="1.2"/><circle cx="333.0" cy="346.5" r="1.2"/><circle cx="356.1" cy="347.9" r="1.2"/><circle cx="351.4" cy="339.5" r="1.2"/><circle cx="322.5" cy="329.7" r="1.2"/><circle cx="324.3" cy="346.7" r="1.2"/><circle cx="368.5" cy="355.7" r="1.2"/><circle cx="310.5" cy="337.2" r="1.2"/><circle cx="304.0" cy="335.1" r="1.2"/><circle cx="322.3" cy="350.0" r="1.2"/><circle cx="345.8" cy="356.1" r="1.2"/><circle cx="379.7" cy="361.2" r="1.2"/><circle cx="336.8" cy="346.7" r="1.2"/><circle cx="337.9" cy="349.0" r="1.2"/><circle cx="382.9" cy="366.5" r="1.2"/><circle cx="322.0" cy="340.9" r="1.2"/><circle cx="379.7" cy="359.2" r="1.2"/><circle cx="310.6" cy="338.6" r="1.2"/><circle cx="340.7" cy="335.7" r="1.2"/><circle cx="305.5" cy="337.2" r="1.2"/><circle cx="347.4" cy="351.3" r="1.2"/><circle cx="373.0" cy="360.6" r="1.2"/><circle cx="363.4" cy="352.1" r="1.2"/><circle cx="340.6" cy="331.4" r="1.2"/><circle cx="363.7" cy="358.4" r="1.2"/><circle cx="334.6" cy="346.2" r="1.2"/><circle cx="337.2" cy="343.5" r="1.2"/><circle cx="368.3" cy="355.8" r="1.2"/><circle cx="313.1" cy="347.2" r="1.2"/><circle cx="350.2" cy="342.8" r="1.2"/><circle cx="377.1" cy="367.6" r="1.2"/><circle cx="333.0" cy="346.6" r="1.2"/><circle cx="355.8" cy="343.8" r="1.2"/><circle cx="373.2" cy="357.4" r="1.2"/><circle cx="368.2" cy="354.9" r="1.2"/><circle cx="354.0" cy="343.8" r="1.2"/><circle cx="339.1" cy="337.1" r="1.2"/><circle cx="353.8" cy="357.6" r="1.2"/><circle cx="377.3" cy="363.4" r="1.2"/><circle cx="360.0" cy="343.6" r="1.2"/><circle cx="331.6" cy="352.8" r="1.2"/><circle cx="328.4" cy="345.4" r="1.2"/><circle cx="326.1" cy="342.1" r="1.2"/><circle cx="337.2" cy="331.2" r="1.2"/><circle cx="349.2" cy="340.9" r="1.2"/><circle cx="351.2" cy="337.8" r="1.2"/><circle cx="355.3" cy="352.8" r="1.2"/><circle cx="352.0" cy="357.9" r="1.2"/><circle cx="340.0" cy="338.0" r="1.2"/><circle cx="322.7" cy="333.9" r="1.2"/><circle cx="341.3" cy="347.9" r="1.2"/><circle cx="331.7" cy="334.3" r="1.2"/><circle cx="320.9" cy="346.8" r="1.2"/><circle cx="331.4" cy="350.9" r="1.2"/><circle cx="363.0" cy="357.7" r="1.2"/><circle cx="324.0" cy="345.2" r="1.2"/><circle cx="329.2" cy="344.9" r="1.2"/><circle cx="327.5" cy="336.3" r="1.2"/><circle cx="328.5" cy="334.1" r="1.2"/><circle cx="311.9" cy="339.5" r="1.2"/><circle cx="319.3" cy="342.6" r="1.2"/><circle cx="324.3" cy="332.7" r="1.2"/><circle cx="369.5" cy="356.4" r="1.2"/><circle cx="379.9" cy="363.0" r="1.2"/><circle cx="321.5" cy="345.5" r="1.2"/><circle cx="336.8" cy="334.0" r="1.2"/><circle cx="370.3" cy="360.1" r="1.2"/><circle cx="336.4" cy="349.0" r="1.2"/><circle cx="370.9" cy="352.5" r="1.2"/><circle cx="319.6" cy="340.7" r="1.2"/><circle cx="309.7" cy="336.9" r="1.2"/><circle cx="365.5" cy="360.1" r="1.2"/><circle cx="352.7" cy="348.9" r="1.2"/><circle cx="303.9" cy="341.6" r="1.2"/><circle cx="352.7" cy="342.9" r="1.2"/><circle cx="371.8" cy="363.2" r="1.2"/><circle cx="311.6" cy="342.6" r="1.2"/><circle cx="363.5" cy="348.7" r="1.2"/><circle cx="382.5" cy="363.5" r="1.2"/><circle cx="376.9" cy="364.3" r="1.2"/><circle cx="344.8" cy="344.3" r="1.2"/><circle cx="313.7" cy="342.8" r="1.2"/><circle cx="316.8" cy="347.7" r="1.2"/><circle cx="371.8" cy="352.4" r="1.2"/><circle cx="378.0" cy="366.6" r="1.2"/><circle cx="355.3" cy="343.5" r="1.2"/><circle cx="345.5" cy="335.3" r="1.2"/><circle cx="382.3" cy="367.0" r="1.2"/><circle cx="338.5" cy="339.4" r="1.2"/><circle cx="318.8" cy="347.3" r="1.2"/><circle cx="354.2" cy="348.0" r="1.2"/><circle cx="352.8" cy="344.5" r="1.2"/><circle cx="324.4" cy="342.8" r="1.2"/><circle cx="325.1" cy="344.5" r="1.2"/><circle cx="371.3" cy="365.5" r="1.2"/><circle cx="368.4" cy="355.9" r="1.2"/><circle cx="377.0" cy="363.8" r="1.2"/><circle cx="350.6" cy="356.3" r="1.2"/><circle cx="341.0" cy="341.4" r="1.2"/><circle cx="352.8" cy="352.1" r="1.2"/><circle cx="351.3" cy="340.6" r="1.2"/><circle cx="330.6" cy="338.6" r="1.2"/><circle cx="356.7" cy="344.8" r="1.2"/><circle cx="341.7" cy="337.8" r="1.2"/><circle cx="370.5" cy="351.0" r="1.2"/><circle cx="356.4" cy="347.3" r="1.2"/><circle cx="303.6" cy="337.3" r="1.2"/><circle cx="307.8" cy="343.3" r="1.2"/><circle cx="339.0" cy="341.1" r="1.2"/><circle cx="356.3" cy="346.3" r="1.2"/><circle cx="372.6" cy="354.9" r="1.2"/><circle cx="337.2" cy="344.8" r="1.2"/><circle cx="318.9" cy="336.0" r="1.2"/><circle cx="361.7" cy="342.4" r="1.2"/><circle cx="316.6" cy="346.7" r="1.2"/><circle cx="381.1" cy="363.2" r="1.2"/><circle cx="329.5" cy="347.8" r="1.2"/><circle cx="352.9" cy="346.2" r="1.2"/><circle cx="368.4" cy="353.7" r="1.2"/><circle cx="337.8" cy="352.6" r="1.2"/><circle cx="337.8" cy="347.7" r="1.2"/><circle cx="329.4" cy="347.9" r="1.2"/><circle cx="345.0" cy="349.8" r="1.2"/><circle cx="322.9" cy="341.6" r="1.2"/><circle cx="316.6" cy="335.1" r="1.2"/><circle cx="338.0" cy="337.0" r="1.2"/><circle cx="349.2" cy="338.8" r="1.2"/><circle cx="324.1" cy="334.0" r="1.2"/><circle cx="322.9" cy="345.5" r="1.2"/><circle cx="373.8" cy="361.3" r="1.2"/><circle cx="379.6" cy="363.2" r="1.2"/><circle cx="359.5" cy="352.3" r="1.2"/><circle cx="309.6" cy="335.7" r="1.2"/><circle cx="317.7" cy="345.8" r="1.2"/><circle cx="319.4" cy="352.2" r="1.2"/><circle cx="384.6" cy="368.5" r="1.2"/><circle cx="378.1" cy="358.7" r="1.2"/><circle cx="355.1" cy="346.6" r="1.2"/><circle cx="310.3" cy="335.1" r="1.2"/><circle cx="347.5" cy="353.8" r="1.2"/><circle cx="316.2" cy="343.6" r="1.2"/><circle cx="313.9" cy="330.2" r="1.2"/><circle cx="368.5" cy="347.4" r="1.2"/><circle cx="324.2" cy="342.5" r="1.2"/><circle cx="324.4" cy="350.8" r="1.2"/><circle cx="348.6" cy="356.6" r="1.2"/><circle cx="327.0" cy="347.6" r="1.2"/><circle cx="331.1" cy="338.1" r="1.2"/><circle cx="314.2" cy="345.4" r="1.2"/><circle cx="329.7" cy="347.5" r="1.2"/><circle cx="304.4" cy="340.5" r="1.2"/><circle cx="336.9" cy="348.0" r="1.2"/><circle cx="376.2" cy="363.6" r="1.2"/><circle cx="363.0" cy="348.4" r="1.2"/><circle cx="347.9" cy="343.8" r="1.2"/><circle cx="343.1" cy="355.1" r="1.2"/><circle cx="353.8" cy="345.0" r="1.2"/><circle cx="342.1" cy="338.6" r="1.2"/><circle cx="320.5" cy="348.5" r="1.2"/><circle cx="346.8" cy="340.3" r="1.2"/><circle cx="365.9" cy="351.8" r="1.2"/><circle cx="342.8" cy="359.1" r="1.2"/><circle cx="338.0" cy="335.2" r="1.2"/><circle cx="382.8" cy="367.4" r="1.2"/><circle cx="363.4" cy="341.9" r="1.2"/><circle cx="337.3" cy="342.3" r="1.2"/><circle cx="372.3" cy="359.0" r="1.2"/><circle cx="334.8" cy="342.5" r="1.2"/><circle cx="377.3" cy="357.2" r="1.2"/><circle cx="369.7" cy="352.3" r="1.2"/><circle cx="379.4" cy="364.5" r="1.2"/><circle cx="344.3" cy="339.0" r="1.2"/><circle cx="347.2" cy="339.9" r="1.2"/><circle cx="352.3" cy="353.1" r="1.2"/><circle cx="379.8" cy="361.1" r="1.2"/><circle cx="365.1" cy="358.8" r="1.2"/><circle cx="347.2" cy="338.2" r="1.2"/><circle cx="305.3" cy="348.5" r="1.2"/><circle cx="377.6" cy="365.7" r="1.2"/><circle cx="336.3" cy="336.8" r="1.2"/><circle cx="315.2" cy="341.7" r="1.2"/><circle cx="355.7" cy="357.3" r="1.2"/><circle cx="367.6" cy="361.0" r="1.2"/><circle cx="346.2" cy="337.8" r="1.2"/><circle cx="367.9" cy="353.8" r="1.2"/><circle cx="354.6" cy="352.7" r="1.2"/><circle cx="362.1" cy="351.2" r="1.2"/><circle cx="363.8" cy="351.8" r="1.2"/><circle cx="353.0" cy="343.9" r="1.2"/><circle cx="382.5" cy="367.2" r="1.2"/><circle cx="311.6" cy="342.1" r="1.2"/><circle cx="379.7" cy="364.2" r="1.2"/><circle cx="371.8" cy="354.4" r="1.2"/><circle cx="350.6" cy="344.5" r="1.2"/><circle cx="362.4" cy="347.2" r="1.2"/><circle cx="366.5" cy="358.5" r="1.2"/><circle cx="353.3" cy="340.3" r="1.2"/><circle cx="356.1" cy="355.2" r="1.2"/><circle cx="330.8" cy="339.7" r="1.2"/><circle cx="359.5" cy="345.8" r="1.2"/><circle cx="327.7" cy="335.3" r="1.2"/><circle cx="365.4" cy="347.7" r="1.2"/><circle cx="352.7" cy="359.7" r="1.2"/><circle cx="344.4" cy="349.4" r="1.2"/><circle cx="344.9" cy="354.4" r="1.2"/><circle cx="376.6" cy="363.6" r="1.2"/><circle cx="336.4" cy="341.5" r="1.2"/><circle cx="382.3" cy="366.5" r="1.2"/><circle cx="351.2" cy="360.7" r="1.2"/><circle cx="346.2" cy="350.0" r="1.2"/><circle cx="355.6" cy="342.3" r="1.2"/><circle cx="330.1" cy="351.4" r="1.2"/><circle cx="306.2" cy="336.3" r="1.2"/><circle cx="333.6" cy="341.7" r="1.2"/><circle cx="361.0" cy="343.0" r="1.2"/><circle cx="373.7" cy="358.7" r="1.2"/><circle cx="367.8" cy="360.3" r="1.2"/><circle cx="384.2" cy="367.5" r="1.2"/><circle cx="343.6" cy="344.4" r="1.2"/><circle cx="338.4" cy="335.1" r="1.2"/><circle cx="357.1" cy="342.3" r="1.2"/><circle cx="327.3" cy="335.0" r="1.2"/><circle cx="371.1" cy="357.0" r="1.2"/><circle cx="353.0" cy="353.4" r="1.2"/><circle cx="365.2" cy="357.9" r="1.2"/><circle cx="342.5" cy="353.3" r="1.2"/><circle cx="376.2" cy="356.6" r="1.2"/><circle cx="322.9" cy="339.3" r="1.2"/><circle cx="314.6" cy="348.3" r="1.2"/><circle cx="318.9" cy="342.7" r="1.2"/><circle cx="327.3" cy="346.5" r="1.2"/><circle cx="315.4" cy="335.6" r="1.2"/><circle cx="325.4" cy="337.7" r="1.2"/><circle cx="373.2" cy="361.2" r="1.2"/><circle cx="367.9" cy="368.4" r="1.2"/><circle cx="327.7" cy="344.7" r="1.2"/><circle cx="308.0" cy="347.4" r="1.2"/><circle cx="377.8" cy="366.5" r="1.2"/><circle cx="374.4" cy="359.4" r="1.2"/><circle cx="346.3" cy="349.6" r="1.2"/><circle cx="316.8" cy="345.7" r="1.2"/><circle cx="322.8" cy="334.0" r="1.2"/><circle cx="340.2" cy="337.0" r="1.2"/><circle cx="376.2" cy="355.0" r="1.2"/><circle cx="374.3" cy="359.4" r="1.2"/><circle cx="372.9" cy="356.1" r="1.2"/><circle cx="345.2" cy="348.7" r="1.2"/><circle cx="379.0" cy="359.5" r="1.2"/><circle cx="369.1" cy="354.4" r="1.2"/><circle cx="314.6" cy="342.3" r="1.2"/><circle cx="351.5" cy="360.9" r="1.2"/><circle cx="332.9" cy="344.7" r="1.2"/><circle cx="303.0" cy="337.0" r="1.2"/><circle cx="382.0" cy="367.0" r="1.2"/><circle cx="355.8" cy="344.3" r="1.2"/><circle cx="383.0" cy="367.6" r="1.2"/><circle cx="339.9" cy="337.2" r="1.2"/><circle cx="350.4" cy="340.1" r="1.2"/><circle cx="308.9" cy="337.2" r="1.2"/><circle cx="382.8" cy="364.6" r="1.2"/><circle cx="353.3" cy="344.6" r="1.2"/><circle cx="334.1" cy="346.5" r="1.2"/><circle cx="359.1" cy="360.7" r="1.2"/><circle cx="366.4" cy="351.3" r="1.2"/><circle cx="370.2" cy="361.9" r="1.2"/><circle cx="349.1" cy="361.1" r="1.2"/><circle cx="357.7" cy="347.9" r="1.2"/><circle cx="312.3" cy="342.5" r="1.2"/><circle cx="304.9" cy="334.9" r="1.2"/><circle cx="328.1" cy="349.0" r="1.2"/><circle cx="309.3" cy="347.8" r="1.2"/><circle cx="372.8" cy="357.2" r="1.2"/><circle cx="365.7" cy="348.6" r="1.2"/><circle cx="332.9" cy="343.4" r="1.2"/><circle cx="316.5" cy="338.8" r="1.2"/><circle cx="351.1" cy="349.5" r="1.2"/><circle cx="337.8" cy="340.9" r="1.2"/><circle cx="346.7" cy="347.8" r="1.2"/><circle cx="371.6" cy="354.9" r="1.2"/><circle cx="358.5" cy="343.4" r="1.2"/><circle cx="313.7" cy="344.7" r="1.2"/><circle cx="363.4" cy="347.5" r="1.2"/><circle cx="316.7" cy="340.0" r="1.2"/><circle cx="378.0" cy="359.7" r="1.2"/><circle cx="318.3" cy="344.4" r="1.2"/><circle cx="367.8" cy="359.0" r="1.2"/><circle cx="339.1" cy="338.9" r="1.2"/><circle cx="318.2" cy="333.7" r="1.2"/><circle cx="311.0" cy="346.1" r="1.2"/><circle cx="379.7" cy="363.5" r="1.2"/><circle cx="375.5" cy="366.2" r="1.2"/><circle cx="335.1" cy="330.1" r="1.2"/><circle cx="366.2" cy="349.3" r="1.2"/><circle cx="368.0" cy="351.6" r="1.2"/><circle cx="356.0" cy="354.3" r="1.2"/><circle cx="335.5" cy="338.6" r="1.2"/><circle cx="328.1" cy="341.9" r="1.2"/><circle cx="310.4" cy="340.1" r="1.2"/><circle cx="328.5" cy="338.1" r="1.2"/><circle cx="350.2" cy="357.0" r="1.2"/><circle cx="317.9" cy="343.7" r="1.2"/><circle cx="308.9" cy="336.8" r="1.2"/><circle cx="362.5" cy="343.9" r="1.2"/><circle cx="328.9" cy="341.5" r="1.2"/><circle cx="323.9" cy="339.8" r="1.2"/><circle cx="350.8" cy="356.1" r="1.2"/><circle cx="359.7" cy="347.0" r="1.2"/><circle cx="350.2" cy="355.1" r="1.2"/><circle cx="348.4" cy="349.4" r="1.2"/><circle cx="337.2" cy="339.4" r="1.2"/><circle cx="377.7" cy="364.6" r="1.2"/><circle cx="328.6" cy="342.2" r="1.2"/><circle cx="382.2" cy="366.1" r="1.2"/><circle cx="345.3" cy="351.4" r="1.2"/><circle cx="371.7" cy="352.2" r="1.2"/><circle cx="371.4" cy="360.0" r="1.2"/><circle cx="373.8" cy="358.5" r="1.2"/><circle cx="375.7" cy="356.4" r="1.2"/><circle cx="385.0" cy="368.5" r="1.2"/><circle cx="380.1" cy="363.7" r="1.2"/><circle cx="382.8" cy="364.4" r="1.2"/><circle cx="382.9" cy="367.5" r="1.2"/><circle cx="383.9" cy="368.0" r="1.2"/><circle cx="375.1" cy="365.8" r="1.2"/><circle cx="383.5" cy="366.7" r="1.2"/><circle cx="376.8" cy="360.1" r="1.2"/><circle cx="382.3" cy="364.8" r="1.2"/><circle cx="375.3" cy="358.3" r="1.2"/><circle cx="384.2" cy="367.9" r="1.2"/><circle cx="385.8" cy="368.0" r="1.2"/><circle cx="372.1" cy="353.7" r="1.2"/><circle cx="385.6" cy="369.2" r="1.2"/><circle cx="378.1" cy="363.1" r="1.2"/><circle cx="384.4" cy="366.9" r="1.2"/><circle cx="381.6" cy="365.8" r="1.2"/><circle cx="384.2" cy="367.5" r="1.2"/><circle cx="384.1" cy="369.3" r="1.2"/><circle cx="378.5" cy="365.3" r="1.2"/><circle cx="374.6" cy="363.7" r="1.2"/><circle cx="379.9" cy="367.9" r="1.2"/><circle cx="382.8" cy="367.0" r="1.2"/><circle cx="377.8" cy="363.5" r="1.2"/><circle cx="373.5" cy="364.9" r="1.2"/><circle cx="373.5" cy="364.3" r="1.2"/><circle cx="371.7" cy="358.4" r="1.2"/><circle cx="380.0" cy="364.0" r="1.2"/><circle cx="373.3" cy="354.1" r="1.2"/><circle cx="379.9" cy="368.2" r="1.2"/><circle cx="383.7" cy="366.1" r="1.2"/><circle cx="375.2" cy="359.0" r="1.2"/><circle cx="383.7" cy="367.3" r="1.2"/><circle cx="385.6" cy="369.8" r="1.2"/><circle cx="381.6" cy="363.2" r="1.2"/><circle cx="376.5" cy="358.8" r="1.2"/><circle cx="385.3" cy="368.8" r="1.2"/><circle cx="384.8" cy="369.0" r="1.2"/><circle cx="384.4" cy="366.4" r="1.2"/><circle cx="381.2" cy="365.7" r="1.2"/><circle cx="376.4" cy="358.3" r="1.2"/><circle cx="372.1" cy="358.1" r="1.2"/><circle cx="378.6" cy="360.5" r="1.2"/><circle cx="380.2" cy="366.3" r="1.2"/><circle cx="375.1" cy="363.9" r="1.2"/><circle cx="380.6" cy="365.6" r="1.2"/><circle cx="379.0" cy="365.1" r="1.2"/><circle cx="379.7" cy="364.9" r="1.2"/><circle cx="385.3" cy="367.6" r="1.2"/><circle cx="385.1" cy="368.3" r="1.2"/><circle cx="378.0" cy="364.1" r="1.2"/><circle cx="382.7" cy="368.7" r="1.2"/><circle cx="380.5" cy="366.4" r="1.2"/><circle cx="378.9" cy="366.1" r="1.2"/><circle cx="375.0" cy="361.3" r="1.2"/><circle cx="385.9" cy="369.2" r="1.2"/><circle cx="371.8" cy="365.5" r="1.2"/><circle cx="377.3" cy="358.5" r="1.2"/><circle cx="380.6" cy="364.5" r="1.2"/><circle cx="380.6" cy="366.5" r="1.2"/><circle cx="377.0" cy="361.8" r="1.2"/><circle cx="381.4" cy="365.7" r="1.2"/><circle cx="378.4" cy="361.5" r="1.2"/><circle cx="385.2" cy="369.7" r="1.2"/><circle cx="382.3" cy="367.6" r="1.2"/><circle cx="374.3" cy="361.5" r="1.2"/><circle cx="373.4" cy="361.2" r="1.2"/><circle cx="381.8" cy="365.0" r="1.2"/><circle cx="384.7" cy="366.6" r="1.2"/><circle cx="373.8" cy="362.3" r="1.2"/><circle cx="381.3" cy="363.8" r="1.2"/><circle cx="374.4" cy="359.1" r="1.2"/><circle cx="385.2" cy="367.7" r="1.2"/><circle cx="385.3" cy="368.2" r="1.2"/><circle cx="377.9" cy="359.5" r="1.2"/><circle cx="376.6" cy="367.0" r="1.2"/><circle cx="372.3" cy="355.8" r="1.2"/><circle cx="377.5" cy="367.4" r="1.2"/><circle cx="375.2" cy="362.1" r="1.2"/><circle cx="376.0" cy="356.9" r="1.2"/><circle cx="372.5" cy="364.9" r="1.2"/><circle cx="374.5" cy="361.5" r="1.2"/><circle cx="375.0" cy="362.5" r="1.2"/><circle cx="379.4" cy="364.8" r="1.2"/><circle cx="384.3" cy="368.5" r="1.2"/><circle cx="375.2" cy="366.0" r="1.2"/><circle cx="389.0" cy="366.1" r="1.2"/><circle cx="400.4" cy="355.8" r="1.2"/><circle cx="389.0" cy="366.4" r="1.2"/><circle cx="411.0" cy="348.8" r="1.2"/><circle cx="400.7" cy="357.0" r="1.2"/><circle cx="396.9" cy="360.7" r="1.2"/><circle cx="400.1" cy="358.3" r="1.2"/><circle cx="408.9" cy="350.8" r="1.2"/><circle cx="398.4" cy="357.9" r="1.2"/><circle cx="395.9" cy="361.8" r="1.2"/><circle cx="403.7" cy="353.6" r="1.2"/><circle cx="404.1" cy="354.5" r="1.2"/><circle cx="396.2" cy="361.8" r="1.2"/><circle cx="405.5" cy="353.5" r="1.2"/><circle cx="390.4" cy="365.4" r="1.2"/><circle cx="395.1" cy="362.1" r="1.2"/><circle cx="390.3" cy="365.0" r="1.2"/><circle cx="399.6" cy="356.8" r="1.2"/><circle cx="396.2" cy="358.2" r="1.2"/><circle cx="395.4" cy="360.7" r="1.2"/><circle cx="401.3" cy="351.6" r="1.2"/><circle cx="394.6" cy="362.5" r="1.2"/><circle cx="404.3" cy="355.3" r="1.2"/><circle cx="405.2" cy="353.1" r="1.2"/><circle cx="401.1" cy="358.0" r="1.2"/><circle cx="407.7" cy="352.0" r="1.2"/><circle cx="395.9" cy="361.7" r="1.2"/><circle cx="402.2" cy="354.8" r="1.2"/><circle cx="400.7" cy="353.5" r="1.2"/><circle cx="398.0" cy="359.8" r="1.2"/><circle cx="398.8" cy="359.5" r="1.2"/><circle cx="388.7" cy="364.3" r="1.2"/><circle cx="394.0" cy="363.4" r="1.2"/><circle cx="404.3" cy="355.0" r="1.2"/><circle cx="400.9" cy="356.3" r="1.2"/><circle cx="390.0" cy="366.4" r="1.2"/><circle cx="411.0" cy="349.8" r="1.2"/><circle cx="388.6" cy="364.1" r="1.2"/><circle cx="374.6" cy="347.5" r="1.2"/><circle cx="354.2" cy="326.2" r="1.2"/><circle cx="373.0" cy="320.6" r="1.2"/><circle cx="386.1" cy="343.9" r="1.2"/><circle cx="388.3" cy="342.9" r="1.2"/><circle cx="380.6" cy="338.0" r="1.2"/><circle cx="330.8" cy="332.1" r="1.2"/><circle cx="331.2" cy="327.5" r="1.2"/><circle cx="321.2" cy="323.5" r="1.2"/><circle cx="333.7" cy="327.9" r="1.2"/><circle cx="382.0" cy="352.0" r="1.2"/><circle cx="380.4" cy="341.5" r="1.2"/><circle cx="370.5" cy="321.7" r="1.2"/><circle cx="385.7" cy="340.6" r="1.2"/><circle cx="314.8" cy="315.7" r="1.2"/><circle cx="374.9" cy="347.4" r="1.2"/><circle cx="340.7" cy="307.9" r="1.2"/><circle cx="351.8" cy="326.5" r="1.2"/><circle cx="329.4" cy="316.1" r="1.2"/><circle cx="387.4" cy="345.1" r="1.2"/><circle cx="384.3" cy="361.7" r="1.2"/><circle cx="320.2" cy="315.1" r="1.2"/><circle cx="381.8" cy="358.2" r="1.2"/><circle cx="316.0" cy="330.7" r="1.2"/><circle cx="390.9" cy="320.2" r="1.2"/><circle cx="374.7" cy="339.2" r="1.2"/><circle cx="353.6" cy="334.5" r="1.2"/><circle cx="339.4" cy="324.6" r="1.2"/><circle cx="368.1" cy="335.9" r="1.2"/><circle cx="316.8" cy="323.2" r="1.2"/><circle cx="390.1" cy="348.4" r="1.2"/><circle cx="335.0" cy="321.2" r="1.2"/><circle cx="387.3" cy="299.9" r="1.2"/><circle cx="386.2" cy="308.1" r="1.2"/><circle cx="312.1" cy="323.0" r="1.2"/><circle cx="366.6" cy="316.0" r="1.2"/><circle cx="386.8" cy="364.9" r="1.2"/><circle cx="389.0" cy="366.8" r="1.2"/><circle cx="381.6" cy="331.4" r="1.2"/><circle cx="313.0" cy="303.8" r="1.2"/><circle cx="353.0" cy="315.0" r="1.2"/><circle cx="376.6" cy="355.8" r="1.2"/><circle cx="375.4" cy="299.6" r="1.2"/><circle cx="343.8" cy="328.7" r="1.2"/><circle cx="311.6" cy="318.6" r="1.2"/><circle cx="358.4" cy="328.9" r="1.2"/><circle cx="365.7" cy="332.7" r="1.2"/><circle cx="382.6" cy="357.4" r="1.2"/><circle cx="331.2" cy="316.1" r="1.2"/><circle cx="337.7" cy="324.7" r="1.2"/><circle cx="331.7" cy="323.6" r="1.2"/><circle cx="382.2" cy="356.7" r="1.2"/><circle cx="335.1" cy="321.4" r="1.2"/><circle cx="365.6" cy="325.2" r="1.2"/><circle cx="316.8" cy="318.6" r="1.2"/><circle cx="328.2" cy="318.1" r="1.2"/><circle cx="340.8" cy="321.2" r="1.2"/><circle cx="391.5" cy="354.5" r="1.2"/><circle cx="375.1" cy="332.2" r="1.2"/><circle cx="375.1" cy="343.6" r="1.2"/><circle cx="359.0" cy="324.6" r="1.2"/><circle cx="377.4" cy="356.5" r="1.2"/><circle cx="341.6" cy="331.8" r="1.2"/><circle cx="322.2" cy="324.8" r="1.2"/><circle cx="389.1" cy="335.5" r="1.2"/><circle cx="386.6" cy="358.1" r="1.2"/><circle cx="387.8" cy="361.2" r="1.2"/><circle cx="365.9" cy="303.5" r="1.2"/><circle cx="388.1" cy="352.1" r="1.2"/><circle cx="320.2" cy="322.4" r="1.2"/><circle cx="316.3" cy="328.1" r="1.2"/><circle cx="314.4" cy="326.0" r="1.2"/><circle cx="320.5" cy="322.8" r="1.2"/><circle cx="356.9" cy="323.7" r="1.2"/><circle cx="388.0" cy="365.1" r="1.2"/><circle cx="316.7" cy="321.0" r="1.2"/><circle cx="386.1" cy="350.4" r="1.2"/><circle cx="337.5" cy="323.1" r="1.2"/><circle cx="375.3" cy="327.1" r="1.2"/><circle cx="359.8" cy="322.5" r="1.2"/><circle cx="326.0" cy="300.2" r="1.2"/><circle cx="312.4" cy="318.5" r="1.2"/><circle cx="314.6" cy="328.4" r="1.2"/><circle cx="370.7" cy="343.5" r="1.2"/><circle cx="328.4" cy="318.7" r="1.2"/><circle cx="363.9" cy="331.6" r="1.2"/><circle cx="311.6" cy="326.2" r="1.2"/><circle cx="331.7" cy="321.9" r="1.2"/><circle cx="349.1" cy="324.7" r="1.2"/><circle cx="339.6" cy="317.9" r="1.2"/><circle cx="344.5" cy="325.2" r="1.2"/><circle cx="337.6" cy="317.1" r="1.2"/><circle cx="387.0" cy="308.5" r="1.2"/><circle cx="323.7" cy="314.7" r="1.2"/><circle cx="334.0" cy="326.8" r="1.2"/><circle cx="329.7" cy="322.4" r="1.2"/><circle cx="388.0" cy="358.1" r="1.2"/><circle cx="366.7" cy="336.2" r="1.2"/><circle cx="351.1" cy="319.3" r="1.2"/><circle cx="341.4" cy="334.1" r="1.2"/><circle cx="399.0" cy="324.7" r="1.2"/><circle cx="410.8" cy="325.3" r="1.2"/><circle cx="393.1" cy="330.9" r="1.2"/><circle cx="405.9" cy="319.2" r="1.2"/><circle cx="421.8" cy="326.6" r="1.2"/><circle cx="404.6" cy="345.7" r="1.2"/><circle cx="416.2" cy="331.5" r="1.2"/><circle cx="417.2" cy="310.2" r="1.2"/><circle cx="398.5" cy="307.8" r="1.2"/><circle cx="406.6" cy="328.7" r="1.2"/><circle cx="408.3" cy="305.1" r="1.2"/><circle cx="406.1" cy="326.4" r="1.2"/><circle cx="399.7" cy="310.8" r="1.2"/><circle cx="406.6" cy="332.5" r="1.2"/><circle cx="396.6" cy="344.6" r="1.2"/><circle cx="417.4" cy="310.0" r="1.2"/><circle cx="422.1" cy="305.5" r="1.2"/><circle cx="412.5" cy="311.0" r="1.2"/><circle cx="413.4" cy="310.3" r="1.2"/><circle cx="416.3" cy="333.7" r="1.2"/><circle cx="416.7" cy="328.6" r="1.2"/><circle cx="398.1" cy="306.9" r="1.2"/><circle cx="390.9" cy="331.0" r="1.2"/><circle cx="401.4" cy="313.1" r="1.2"/><circle cx="410.1" cy="306.5" r="1.2"/><circle cx="420.6" cy="314.9" r="1.2"/><circle cx="289.4" cy="325.2" r="1.2"/></g>
<line x1="259.7" y1="223.4" x2="259.7" y2="374.8" stroke="#111" stroke-width="1.6" />
<line x1="258.9" y1="370.45" x2="476.3" y2="370.45" stroke="#111" stroke-width="1.7" />
<line x1="255.2" y1="370.2" x2="259.7" y2="370.2" stroke="#111" stroke-width="1.3" />
<text x="250.4" y="374.2" font-size="11" text-anchor="end" fill="#1a1a1a" stroke="#1a1a1a" stroke-width="0.2" textLength="16.2" lengthAdjust="spacingAndGlyphs" >0.0</text>
<line x1="255.2" y1="342.09999999999997" x2="259.7" y2="342.09999999999997" stroke="#111" stroke-width="1.3" />
<text x="250.4" y="346.09999999999997" font-size="11" text-anchor="end" fill="#1a1a1a" stroke="#1a1a1a" stroke-width="0.2" textLength="16.2" lengthAdjust="spacingAndGlyphs" >0.5</text>
<line x1="255.2" y1="314.0" x2="259.7" y2="314.0" stroke="#111" stroke-width="1.3" />
<text x="250.4" y="318.0" font-size="11" text-anchor="end" fill="#1a1a1a" stroke="#1a1a1a" stroke-width="0.2" textLength="16.2" lengthAdjust="spacingAndGlyphs" >1.0</text>
<line x1="255.2" y1="285.9" x2="259.7" y2="285.9" stroke="#111" stroke-width="1.3" />
<text x="250.4" y="289.9" font-size="11" text-anchor="end" fill="#1a1a1a" stroke="#1a1a1a" stroke-width="0.2" textLength="16.2" lengthAdjust="spacingAndGlyphs" >1.5</text>
<line x1="255.2" y1="257.79999999999995" x2="259.7" y2="257.79999999999995" stroke="#111" stroke-width="1.3" />
<text x="250.4" y="261.79999999999995" font-size="11" text-anchor="end" fill="#1a1a1a" stroke="#1a1a1a" stroke-width="0.2" textLength="16.2" lengthAdjust="spacingAndGlyphs" >2.0</text>
<line x1="255.2" y1="229.7" x2="259.7" y2="229.7" stroke="#111" stroke-width="1.3" />
<text x="250.4" y="233.7" font-size="11" text-anchor="end" fill="#1a1a1a" stroke="#1a1a1a" stroke-width="0.2" textLength="16.2" lengthAdjust="spacingAndGlyphs" >2.5</text>
<line x1="260.0" y1="370.2" x2="260.0" y2="374.6" stroke="#111" stroke-width="1.3" />
<text x="256.2" y="389.0" font-size="11" text-anchor="middle" fill="#1a1a1a" stroke="#1a1a1a" stroke-width="0.2" >−6</text>
<line x1="302.0" y1="370.2" x2="302.0" y2="374.6" stroke="#111" stroke-width="1.3" />
<text x="298.1" y="389.0" font-size="11" text-anchor="middle" fill="#1a1a1a" stroke="#1a1a1a" stroke-width="0.2" >−4</text>
<line x1="344.0" y1="370.2" x2="344.0" y2="374.6" stroke="#111" stroke-width="1.3" />
<text x="340.2" y="389.0" font-size="11" text-anchor="middle" fill="#1a1a1a" stroke="#1a1a1a" stroke-width="0.2" >−2</text>
<line x1="386.0" y1="370.2" x2="386.0" y2="374.6" stroke="#111" stroke-width="1.3" />
<text x="386.0" y="389.0" font-size="11" text-anchor="middle" fill="#1a1a1a" stroke="#1a1a1a" stroke-width="0.2" >0</text>
<line x1="428.0" y1="370.2" x2="428.0" y2="374.6" stroke="#111" stroke-width="1.3" />
<text x="428.0" y="389.0" font-size="11" text-anchor="middle" fill="#1a1a1a" stroke="#1a1a1a" stroke-width="0.2" >2</text>
<line x1="470.0" y1="370.2" x2="470.0" y2="374.6" stroke="#111" stroke-width="1.3" />
<text x="470.0" y="389.0" font-size="11" text-anchor="middle" fill="#1a1a1a" stroke="#1a1a1a" stroke-width="0.2" >4</text>
<text x="368.5" y="408.4" font-size="13.5" text-anchor="middle" fill="#1a1a1a" stroke="#1a1a1a" stroke-width="0.2" textLength="85" lengthAdjust="spacingAndGlyphs" >Log2 fold change</text>
<text transform="translate(224.7,296.8) rotate(-90)" font-size="14.5" text-anchor="middle" fill="#1a1a1a" stroke="#1a1a1a" stroke-width="0.2" textLength="33.8" lengthAdjust="spacingAndGlyphs" >-log10</text>
<circle cx="363.80" cy="249.20" r="1.75" fill="#3cb44b"/>
<circle cx="413.70" cy="252.50" r="1.75" fill="#3cb44b"/>
<circle cx="369.80" cy="265.80" r="1.75" fill="#c8102e"/>
<circle cx="290.00" cy="268.80" r="1.75" fill="#c8102e"/>
<circle cx="301.50" cy="275.80" r="1.75" fill="#c8102e"/>
<circle cx="362.10" cy="282.50" r="1.75" fill="#c8102e"/>
<circle cx="321.20" cy="286.20" r="1.75" fill="#c8102e"/>
<circle cx="299.40" cy="286.20" r="1.75" fill="#c8102e"/>
<circle cx="322.70" cy="290.00" r="1.75" fill="#c8102e"/>
<circle cx="310.00" cy="290.60" r="1.75" fill="#c8102e"/>
<circle cx="376.50" cy="292.70" r="1.75" fill="#c8102e"/>
<circle cx="448.80" cy="287.10" r="1.75" fill="#c8102e"/>
<text x="368.1" y="252.7" font-size="9.6" text-anchor="start" fill="#222" stroke="#222" stroke-width="0.2" textLength="21.1" lengthAdjust="spacingAndGlyphs" >IFI35</text>
<text x="418.1" y="255.6" font-size="9.6" text-anchor="start" fill="#222" stroke="#222" stroke-width="0.2" textLength="25.5" lengthAdjust="spacingAndGlyphs" >PD-L1</text>
<text x="373.40000000000003" y="268.3" font-size="9.6" text-anchor="start" fill="#222" stroke="#222" stroke-width="0.2" textLength="34.1" lengthAdjust="spacingAndGlyphs" >ARID5A</text>
<text x="269.6" y="266" font-size="9.6" text-anchor="start" fill="#222" stroke="#222" stroke-width="0.2" textLength="36.8" lengthAdjust="spacingAndGlyphs" >CCL4/L1</text>
<text x="302.90000000000003" y="274.2" font-size="9.6" text-anchor="start" fill="#222" stroke="#222" stroke-width="0.2" textLength="36.5" lengthAdjust="spacingAndGlyphs" >CCL3/L1</text>
<text x="309.20000000000005" y="283.3" font-size="9.6" text-anchor="start" fill="#222" stroke="#222" stroke-width="0.2" textLength="35.6" lengthAdjust="spacingAndGlyphs" >SLAMF7</text>
<text x="271.1" y="289" font-size="9.6" text-anchor="start" fill="#222" stroke="#222" stroke-width="0.2" textLength="24.7" lengthAdjust="spacingAndGlyphs" >FOSB</text>
<text x="294.6" y="301.2" font-size="9.6" text-anchor="start" fill="#222" stroke="#222" stroke-width="0.2" textLength="24.3" lengthAdjust="spacingAndGlyphs" >IKZF2</text>
<text x="326.90000000000003" y="297" font-size="9.6" text-anchor="start" fill="#222" stroke="#222" stroke-width="0.2" textLength="18.9" lengthAdjust="spacingAndGlyphs" >TOX</text>
<text x="364.6" y="283.5" font-size="9.6" text-anchor="start" fill="#222" stroke="#222" stroke-width="0.2" textLength="24.1" lengthAdjust="spacingAndGlyphs" >CIITA</text>
<text x="379.6" y="296.2" font-size="9.6" text-anchor="start" fill="#222" stroke="#222" stroke-width="0.2" textLength="22.1" lengthAdjust="spacingAndGlyphs" >TYK2</text>
<text x="425.40000000000003" y="298.3" font-size="9.6" text-anchor="start" fill="#222" stroke="#222" stroke-width="0.2" textLength="41.5" lengthAdjust="spacingAndGlyphs" >PRKCDBP</text>
<text x="475.2" y="260.8" font-size="11" text-anchor="start" fill="#1a1a1a" stroke="#1a1a1a" stroke-width="0.2" textLength="34.2" lengthAdjust="spacingAndGlyphs" >p&lt;0.01</text>
<text x="475.2" y="298.9" font-size="11" text-anchor="start" fill="#1a1a1a" stroke="#1a1a1a" stroke-width="0.2" textLength="35.2" lengthAdjust="spacingAndGlyphs" >p&lt;0.05</text>
<text x="10.3" y="511.7" font-size="17.5" text-anchor="start" fill="#000" font-weight="bold" >D</text>
<text x="108.15" y="526.9" font-size="14.6" text-anchor="middle" fill="#1a1a1a" stroke="#1a1a1a" stroke-width="0.2" textLength="23.3" lengthAdjust="spacingAndGlyphs" >IL-6</text>
<text transform="translate(29.1,601.8) rotate(-90)" font-size="12.3" text-anchor="middle" fill="#1a1a1a" stroke="#1a1a1a" stroke-width="0.2" textLength="145" lengthAdjust="spacingAndGlyphs" >Log10 fold change from baseline</text>
<line x1="62.75" y1="531.3" x2="62.75" y2="673.5500000000001" stroke="#111" stroke-width="1.9" />
<line x1="61.8" y1="672.6" x2="153.3" y2="672.6" stroke="#111" stroke-width="1.9" />
<line x1="58.35" y1="538.0" x2="62.75" y2="538.0" stroke="#111" stroke-width="1.3" />
<text x="55.0" y="542.0" font-size="11.5" text-anchor="end" fill="#1a1a1a" stroke="#1a1a1a" stroke-width="0.2" >100</text>
<line x1="58.35" y1="582.8666666666667" x2="62.75" y2="582.8666666666667" stroke="#111" stroke-width="1.3" />
<text x="55.0" y="586.87" font-size="11.5" text-anchor="end" fill="#1a1a1a" stroke="#1a1a1a" stroke-width="0.2" >10</text>
<line x1="58.35" y1="627.7333333333333" x2="62.75" y2="627.7333333333333" stroke="#111" stroke-width="1.3" />
<text x="55.0" y="631.73" font-size="11.5" text-anchor="end" fill="#1a1a1a" stroke="#1a1a1a" stroke-width="0.2" >1</text>
<line x1="58.35" y1="672.6" x2="62.75" y2="672.6" stroke="#111" stroke-width="1.3" />
<text x="55.0" y="676.6" font-size="11.5" text-anchor="end" fill="#1a1a1a" stroke="#1a1a1a" stroke-width="0.2" >0.1</text>
<line x1="88.4" y1="672.6" x2="88.4" y2="677.1" stroke="#111" stroke-width="1.3" />
<line x1="127.0" y1="672.6" x2="127.0" y2="677.1" stroke="#111" stroke-width="1.3" />
<text x="88.4" y="691.8" font-size="12" text-anchor="middle" fill="#1a1a1a" stroke="#1a1a1a" stroke-width="0.2" textLength="33.3" lengthAdjust="spacingAndGlyphs" >Serum</text>
<text x="127.2" y="691.8" font-size="12" text-anchor="middle" fill="#1a1a1a" stroke="#1a1a1a" stroke-width="0.2" textLength="21.6" lengthAdjust="spacingAndGlyphs" >CSF</text>
<line x1="88.4" y1="573.5" x2="127.0" y2="542.8" stroke="#0e4886" stroke-width="1.4" />
<line x1="88.4" y1="588.5" x2="127.0" y2="552.8" stroke="#0e4886" stroke-width="1.4" />
<line x1="88.4" y1="595.8" x2="127.0" y2="576.8" stroke="#0e4886" stroke-width="1.4" />
<line x1="88.4" y1="628" x2="127.0" y2="628" stroke="#0e4886" stroke-width="1.4" />
<circle cx="88.40" cy="573.50" r="2.35" fill="#0e4886"/>
<circle cx="127.00" cy="542.80" r="2.35" fill="#0e4886"/>
<circle cx="88.40" cy="588.50" r="2.35" fill="#0e4886"/>
<circle cx="127.00" cy="552.80" r="2.35" fill="#0e4886"/>
<circle cx="88.40" cy="595.80" r="2.35" fill="#0e4886"/>
<circle cx="127.00" cy="576.80" r="2.35" fill="#0e4886"/>
<circle cx="88.40" cy="628.00" r="2.35" fill="#0e4886"/>
<circle cx="127.00" cy="628.00" r="2.35" fill="#0e4886"/>
<line x1="88.4" y1="627" x2="127.0" y2="574" stroke="#c8102e" stroke-width="1.4" />
<circle cx="88.40" cy="627.00" r="2.35" fill="#c8102e"/>
<circle cx="127.00" cy="574.00" r="2.35" fill="#c8102e"/>
<text x="280.75" y="526.9" font-size="14.6" text-anchor="middle" fill="#1a1a1a" stroke="#1a1a1a" stroke-width="0.2" textLength="44.1" lengthAdjust="spacingAndGlyphs" >MCP-1</text>
<text transform="translate(203.2,601.8) rotate(-90)" font-size="12.3" text-anchor="middle" fill="#1a1a1a" stroke="#1a1a1a" stroke-width="0.2" textLength="145" lengthAdjust="spacingAndGlyphs" >Log10 fold change from baseline</text>
<line x1="236.5" y1="531.3" x2="236.5" y2="673.5500000000001" stroke="#111" stroke-width="1.9" />
<line x1="235.55" y1="672.6" x2="325.0" y2="672.6" stroke="#111" stroke-width="1.9" />
<line x1="232.1" y1="538.0" x2="236.5" y2="538.0" stroke="#111" stroke-width="1.3" />
<text x="229.0" y="542.0" font-size="11.5" text-anchor="end" fill="#1a1a1a" stroke="#1a1a1a" stroke-width="0.2" >10</text>
<line x1="232.1" y1="605.3" x2="236.5" y2="605.3" stroke="#111" stroke-width="1.3" />
<text x="229.0" y="609.3" font-size="11.5" text-anchor="end" fill="#1a1a1a" stroke="#1a1a1a" stroke-width="0.2" >1</text>
<line x1="232.1" y1="672.6" x2="236.5" y2="672.6" stroke="#111" stroke-width="1.3" />
<text x="229.0" y="676.6" font-size="11.5" text-anchor="end" fill="#1a1a1a" stroke="#1a1a1a" stroke-width="0.2" >0.1</text>
<line x1="262.0" y1="672.6" x2="262.0" y2="677.1" stroke="#111" stroke-width="1.3" />
<line x1="300.6" y1="672.6" x2="300.6" y2="677.1" stroke="#111" stroke-width="1.3" />
<text x="262.0" y="691.8" font-size="12" text-anchor="middle" fill="#1a1a1a" stroke="#1a1a1a" stroke-width="0.2" textLength="33.3" lengthAdjust="spacingAndGlyphs" >Serum</text>
<text x="300.8" y="691.8" font-size="12" text-anchor="middle" fill="#1a1a1a" stroke="#1a1a1a" stroke-width="0.2" textLength="21.6" lengthAdjust="spacingAndGlyphs" >CSF</text>
<line x1="262.0" y1="587.1" x2="300.6" y2="660.5" stroke="#0e4886" stroke-width="1.4" />
<line x1="262.0" y1="593.7" x2="300.6" y2="582.5" stroke="#0e4886" stroke-width="1.4" />
<line x1="262.0" y1="593.7" x2="300.6" y2="618.3" stroke="#0e4886" stroke-width="1.4" />
<line x1="262.0" y1="598.1" x2="300.6" y2="599.8" stroke="#0e4886" stroke-width="1.4" />
<line x1="262.0" y1="611.9" x2="300.6" y2="618.3" stroke="#0e4886" stroke-width="1.4" />
<line x1="262.0" y1="616.9" x2="300.6" y2="611.6" stroke="#0e4886" stroke-width="1.4" />
<circle cx="262.00" cy="587.10" r="2.35" fill="#0e4886"/>
<circle cx="300.60" cy="660.50" r="2.35" fill="#0e4886"/>
<circle cx="262.00" cy="593.70" r="2.35" fill="#0e4886"/>
<circle cx="300.60" cy="582.50" r="2.35" fill="#0e4886"/>
<circle cx="262.00" cy="593.70" r="2.35" fill="#0e4886"/>
<circle cx="300.60" cy="618.30" r="2.35" fill="#0e4886"/>
<circle cx="262.00" cy="598.10" r="2.35" fill="#0e4886"/>
<circle cx="300.60" cy="599.80" r="2.35" fill="#0e4886"/>
<circle cx="262.00" cy="611.90" r="2.35" fill="#0e4886"/>
<circle cx="300.60" cy="618.30" r="2.35" fill="#0e4886"/>
<circle cx="262.00" cy="616.90" r="2.35" fill="#0e4886"/>
<circle cx="300.60" cy="611.60" r="2.35" fill="#0e4886"/>
<line x1="262.0" y1="569.2" x2="300.6" y2="584.2" stroke="#c8102e" stroke-width="1.4" />
<circle cx="262.00" cy="569.20" r="2.35" fill="#c8102e"/>
<circle cx="300.60" cy="584.20" r="2.35" fill="#c8102e"/>
<text x="465.6" y="526.9" font-size="14.6" text-anchor="middle" fill="#1a1a1a" stroke="#1a1a1a" stroke-width="0.2" textLength="32.4" lengthAdjust="spacingAndGlyphs" >IL-18</text>
<text transform="translate(384.4,601.8) rotate(-90)" font-size="12.3" text-anchor="middle" fill="#1a1a1a" stroke="#1a1a1a" stroke-width="0.2" textLength="145" lengthAdjust="spacingAndGlyphs" >Log10 fold change from baseline</text>
<line x1="420.6" y1="531.3" x2="420.6" y2="673.5500000000001" stroke="#111" stroke-width="1.9" />
<line x1="419.65000000000003" y1="672.6" x2="509.6" y2="672.6" stroke="#111" stroke-width="1.9" />
<line x1="416.20000000000005" y1="538.0" x2="420.6" y2="538.0" stroke="#111" stroke-width="1.3" />
<text x="411.0" y="542.0" font-size="11.5" text-anchor="end" fill="#1a1a1a" stroke="#1a1a1a" stroke-width="0.2" >100</text>
<line x1="416.20000000000005" y1="582.8666666666667" x2="420.6" y2="582.8666666666667" stroke="#111" stroke-width="1.3" />
<text x="411.0" y="586.87" font-size="11.5" text-anchor="end" fill="#1a1a1a" stroke="#1a1a1a" stroke-width="0.2" >10</text>
<line x1="416.20000000000005" y1="627.7333333333333" x2="420.6" y2="627.7333333333333" stroke="#111" stroke-width="1.3" />
<text x="411.0" y="631.73" font-size="11.5" text-anchor="end" fill="#1a1a1a" stroke="#1a1a1a" stroke-width="0.2" >1</text>
<line x1="416.20000000000005" y1="672.6" x2="420.6" y2="672.6" stroke="#111" stroke-width="1.3" />
<text x="411.0" y="676.6" font-size="11.5" text-anchor="end" fill="#1a1a1a" stroke="#1a1a1a" stroke-width="0.2" >0.1</text>
<line x1="446.3" y1="672.6" x2="446.3" y2="677.1" stroke="#111" stroke-width="1.3" />
<line x1="485.1" y1="672.6" x2="485.1" y2="677.1" stroke="#111" stroke-width="1.3" />
<text x="446.3" y="691.8" font-size="12" text-anchor="middle" fill="#1a1a1a" stroke="#1a1a1a" stroke-width="0.2" textLength="33.3" lengthAdjust="spacingAndGlyphs" >Serum</text>
<text x="485.3" y="691.8" font-size="12" text-anchor="middle" fill="#1a1a1a" stroke="#1a1a1a" stroke-width="0.2" textLength="21.6" lengthAdjust="spacingAndGlyphs" >CSF</text>
<line x1="446.3" y1="616.2" x2="485.1" y2="556.5" stroke="#0e4886" stroke-width="1.4" />
<line x1="446.3" y1="601.2" x2="485.1" y2="627.9" stroke="#0e4886" stroke-width="1.4" />
<line x1="446.3" y1="605.2" x2="485.1" y2="627.9" stroke="#0e4886" stroke-width="1.4" />
<line x1="446.3" y1="617.9" x2="485.1" y2="627.9" stroke="#0e4886" stroke-width="1.4" />
<line x1="446.3" y1="619.6" x2="485.1" y2="627.9" stroke="#0e4886" stroke-width="1.4" />
<line x1="446.3" y1="630.6" x2="485.1" y2="627.9" stroke="#0e4886" stroke-width="1.4" />
<circle cx="446.30" cy="616.20" r="2.35" fill="#0e4886"/>
<circle cx="485.10" cy="556.50" r="2.35" fill="#0e4886"/>
<circle cx="446.30" cy="601.20" r="2.35" fill="#0e4886"/>
<circle cx="485.10" cy="627.90" r="2.35" fill="#0e4886"/>
<circle cx="446.30" cy="605.20" r="2.35" fill="#0e4886"/>
<circle cx="485.10" cy="627.90" r="2.35" fill="#0e4886"/>
<circle cx="446.30" cy="617.90" r="2.35" fill="#0e4886"/>
<circle cx="485.10" cy="627.90" r="2.35" fill="#0e4886"/>
<circle cx="446.30" cy="619.60" r="2.35" fill="#0e4886"/>
<circle cx="485.10" cy="627.90" r="2.35" fill="#0e4886"/>
<circle cx="446.30" cy="630.60" r="2.35" fill="#0e4886"/>
<circle cx="485.10" cy="627.90" r="2.35" fill="#0e4886"/>
<line x1="446.3" y1="621.7" x2="485.1" y2="550.2" stroke="#c8102e" stroke-width="1.4" />
<circle cx="446.30" cy="621.70" r="2.35" fill="#c8102e"/>
<circle cx="485.10" cy="550.20" r="2.35" fill="#c8102e"/>
<text x="107.9" y="741.9" font-size="14.6" text-anchor="middle" fill="#1a1a1a" stroke="#1a1a1a" stroke-width="0.2" textLength="45.0" lengthAdjust="spacingAndGlyphs" >MIP-1a</text>
<text transform="translate(20.9,816.8) rotate(-90)" font-size="12.3" text-anchor="middle" fill="#1a1a1a" stroke="#1a1a1a" stroke-width="0.2" textLength="145" lengthAdjust="spacingAndGlyphs" >Log10 fold change from baseline</text>
<line x1="62.75" y1="746.3" x2="62.75" y2="888.5500000000001" stroke="#111" stroke-width="1.9" />
<line x1="61.8" y1="887.6" x2="153.3" y2="887.6" stroke="#111" stroke-width="1.9" />
<line x1="58.35" y1="753.0" x2="62.75" y2="753.0" stroke="#111" stroke-width="1.3" />
<text x="55.0" y="757.0" font-size="11.5" text-anchor="end" fill="#1a1a1a" stroke="#1a1a1a" stroke-width="0.2" >1000</text>
<line x1="58.35" y1="786.65" x2="62.75" y2="786.65" stroke="#111" stroke-width="1.3" />
<text x="55.0" y="790.65" font-size="11.5" text-anchor="end" fill="#1a1a1a" stroke="#1a1a1a" stroke-width="0.2" >100</text>
<line x1="58.35" y1="820.3" x2="62.75" y2="820.3" stroke="#111" stroke-width="1.3" />
<text x="55.0" y="824.3" font-size="11.5" text-anchor="end" fill="#1a1a1a" stroke="#1a1a1a" stroke-width="0.2" >10</text>
<line x1="58.35" y1="853.95" x2="62.75" y2="853.95" stroke="#111" stroke-width="1.3" />
<text x="55.0" y="857.95" font-size="11.5" text-anchor="end" fill="#1a1a1a" stroke="#1a1a1a" stroke-width="0.2" >1</text>
<line x1="58.35" y1="887.6" x2="62.75" y2="887.6" stroke="#111" stroke-width="1.3" />
<text x="55.0" y="891.6" font-size="11.5" text-anchor="end" fill="#1a1a1a" stroke="#1a1a1a" stroke-width="0.2" >0.1</text>
<line x1="88.4" y1="887.6" x2="88.4" y2="892.1" stroke="#111" stroke-width="1.3" />
<line x1="127.0" y1="887.6" x2="127.0" y2="892.1" stroke="#111" stroke-width="1.3" />
<text x="88.4" y="906.8" font-size="12" text-anchor="middle" fill="#1a1a1a" stroke="#1a1a1a" stroke-width="0.2" textLength="33.3" lengthAdjust="spacingAndGlyphs" >Serum</text>
<text x="127.2" y="906.8" font-size="12" text-anchor="middle" fill="#1a1a1a" stroke="#1a1a1a" stroke-width="0.2" textLength="21.6" lengthAdjust="spacingAndGlyphs" >CSF</text>
<line x1="88.4" y1="782.9" x2="127.0" y2="786.2" stroke="#0e4886" stroke-width="1.4" />
<line x1="88.4" y1="784.4" x2="127.0" y2="787.9" stroke="#0e4886" stroke-width="1.4" />
<line x1="88.4" y1="852.5" x2="127.0" y2="787.9" stroke="#0e4886" stroke-width="1.4" />
<line x1="88.4" y1="854.8" x2="127.0" y2="854.5" stroke="#0e4886" stroke-width="1.4" />
<line x1="88.4" y1="857.1" x2="127.0" y2="854.5" stroke="#0e4886" stroke-width="1.4" />
<circle cx="88.40" cy="782.90" r="2.35" fill="#0e4886"/>
<circle cx="127.00" cy="786.20" r="2.35" fill="#0e4886"/>
<circle cx="88.40" cy="784.40" r="2.35" fill="#0e4886"/>
<circle cx="127.00" cy="787.90" r="2.35" fill="#0e4886"/>
<circle cx="88.40" cy="852.50" r="2.35" fill="#0e4886"/>
<circle cx="127.00" cy="787.90" r="2.35" fill="#0e4886"/>
<circle cx="88.40" cy="854.80" r="2.35" fill="#0e4886"/>
<circle cx="127.00" cy="854.50" r="2.35" fill="#0e4886"/>
<circle cx="88.40" cy="857.10" r="2.35" fill="#0e4886"/>
<circle cx="127.00" cy="854.50" r="2.35" fill="#0e4886"/>
<line x1="88.4" y1="842.7" x2="127.0" y2="854.5" stroke="#c8102e" stroke-width="1.4" />
<circle cx="88.40" cy="842.70" r="2.35" fill="#c8102e"/>
<circle cx="127.00" cy="854.50" r="2.35" fill="#c8102e"/>
<text x="281.85" y="741.9" font-size="14.6" text-anchor="middle" fill="#1a1a1a" stroke="#1a1a1a" stroke-width="0.2" textLength="55.9" lengthAdjust="spacingAndGlyphs" >GM-CSF</text>
<text transform="translate(204.0,816.8) rotate(-90)" font-size="12.3" text-anchor="middle" fill="#1a1a1a" stroke="#1a1a1a" stroke-width="0.2" textLength="145" lengthAdjust="spacingAndGlyphs" >Log10 fold change from baseline</text>
<line x1="236.5" y1="746.3" x2="236.5" y2="888.5500000000001" stroke="#111" stroke-width="1.9" />
<line x1="235.55" y1="887.6" x2="325.0" y2="887.6" stroke="#111" stroke-width="1.9" />
<line x1="232.1" y1="753.0" x2="236.5" y2="753.0" stroke="#111" stroke-width="1.3" />
<text x="229.0" y="757.0" font-size="11.5" text-anchor="end" fill="#1a1a1a" stroke="#1a1a1a" stroke-width="0.2" >100</text>
<line x1="232.1" y1="797.8666666666667" x2="236.5" y2="797.8666666666667" stroke="#111" stroke-width="1.3" />
<text x="229.0" y="801.87" font-size="11.5" text-anchor="end" fill="#1a1a1a" stroke="#1a1a1a" stroke-width="0.2" >10</text>
<line x1="232.1" y1="842.7333333333333" x2="236.5" y2="842.7333333333333" stroke="#111" stroke-width="1.3" />
<text x="229.0" y="846.73" font-size="11.5" text-anchor="end" fill="#1a1a1a" stroke="#1a1a1a" stroke-width="0.2" >1</text>
<line x1="232.1" y1="887.6" x2="236.5" y2="887.6" stroke="#111" stroke-width="1.3" />
<text x="229.0" y="891.6" font-size="11.5" text-anchor="end" fill="#1a1a1a" stroke="#1a1a1a" stroke-width="0.2" >0.1</text>
<line x1="262.0" y1="887.6" x2="262.0" y2="892.1" stroke="#111" stroke-width="1.3" />
<line x1="300.6" y1="887.6" x2="300.6" y2="892.1" stroke="#111" stroke-width="1.3" />
<text x="262.0" y="906.8" font-size="12" text-anchor="middle" fill="#1a1a1a" stroke="#1a1a1a" stroke-width="0.2" textLength="33.3" lengthAdjust="spacingAndGlyphs" >Serum</text>
<text x="300.8" y="906.8" font-size="12" text-anchor="middle" fill="#1a1a1a" stroke="#1a1a1a" stroke-width="0.2" textLength="21.6" lengthAdjust="spacingAndGlyphs" >CSF</text>
<line x1="262.0" y1="842.9" x2="300.6" y2="773.4" stroke="#0e4886" stroke-width="1.4" />
<line x1="262.0" y1="842.9" x2="300.6" y2="836.2" stroke="#0e4886" stroke-width="1.4" />
<line x1="262.0" y1="842.9" x2="300.6" y2="837.8" stroke="#0e4886" stroke-width="1.4" />
<line x1="262.0" y1="842.9" x2="300.6" y2="839.5" stroke="#0e4886" stroke-width="1.4" />
<line x1="262.0" y1="842.9" x2="300.6" y2="841.2" stroke="#0e4886" stroke-width="1.4" />
<line x1="262.0" y1="842.9" x2="300.6" y2="843.0" stroke="#0e4886" stroke-width="1.4" />
<line x1="262.0" y1="842.9" x2="300.6" y2="844.6" stroke="#0e4886" stroke-width="1.4" />
<line x1="262.0" y1="842.9" x2="300.6" y2="846.7" stroke="#0e4886" stroke-width="1.4" />
<circle cx="262.00" cy="842.90" r="2.35" fill="#0e4886"/>
<circle cx="300.60" cy="773.40" r="2.35" fill="#0e4886"/>
<circle cx="262.00" cy="842.90" r="2.35" fill="#0e4886"/>
<circle cx="300.60" cy="836.20" r="2.35" fill="#0e4886"/>
<circle cx="262.00" cy="842.90" r="2.35" fill="#0e4886"/>
<circle cx="300.60" cy="837.80" r="2.35" fill="#0e4886"/>
<circle cx="262.00" cy="842.90" r="2.35" fill="#0e4886"/>
<circle cx="300.60" cy="839.50" r="2.35" fill="#0e4886"/>
<circle cx="262.00" cy="842.90" r="2.35" fill="#0e4886"/>
<circle cx="300.60" cy="841.20" r="2.35" fill="#0e4886"/>
<circle cx="262.00" cy="842.90" r="2.35" fill="#0e4886"/>
<circle cx="300.60" cy="843.00" r="2.35" fill="#0e4886"/>
<circle cx="262.00" cy="842.90" r="2.35" fill="#0e4886"/>
<circle cx="300.60" cy="844.60" r="2.35" fill="#0e4886"/>
<circle cx="262.00" cy="842.90" r="2.35" fill="#0e4886"/>
<circle cx="300.60" cy="846.70" r="2.35" fill="#0e4886"/>
<line x1="262.0" y1="842.9" x2="300.6" y2="757.5" stroke="#c8102e" stroke-width="1.4" />
<circle cx="262.00" cy="842.90" r="2.35" fill="#c8102e"/>
<circle cx="300.60" cy="757.50" r="2.35" fill="#c8102e"/>
<text x="465.5" y="741.9" font-size="14.6" text-anchor="middle" fill="#1a1a1a" stroke="#1a1a1a" stroke-width="0.2" textLength="36.2" lengthAdjust="spacingAndGlyphs" >CD25</text>
<text transform="translate(377.1,816.8) rotate(-90)" font-size="12.3" text-anchor="middle" fill="#1a1a1a" stroke="#1a1a1a" stroke-width="0.2" textLength="145" lengthAdjust="spacingAndGlyphs" >Log10 fold change from baseline</text>
<line x1="420.6" y1="746.3" x2="420.6" y2="888.5500000000001" stroke="#111" stroke-width="1.9" />
<line x1="419.65000000000003" y1="887.6" x2="509.6" y2="887.6" stroke="#111" stroke-width="1.9" />
<line x1="416.20000000000005" y1="753.0" x2="420.6" y2="753.0" stroke="#111" stroke-width="1.3" />
<text x="411.0" y="757.0" font-size="11.5" text-anchor="end" fill="#1a1a1a" stroke="#1a1a1a" stroke-width="0.2" >1000</text>
<line x1="416.20000000000005" y1="779.92" x2="420.6" y2="779.92" stroke="#111" stroke-width="1.3" />
<text x="411.0" y="783.92" font-size="11.5" text-anchor="end" fill="#1a1a1a" stroke="#1a1a1a" stroke-width="0.2" >100</text>
<line x1="416.20000000000005" y1="806.84" x2="420.6" y2="806.84" stroke="#111" stroke-width="1.3" />
<text x="411.0" y="810.84" font-size="11.5" text-anchor="end" fill="#1a1a1a" stroke="#1a1a1a" stroke-width="0.2" >10</text>
<line x1="416.20000000000005" y1="833.76" x2="420.6" y2="833.76" stroke="#111" stroke-width="1.3" />
<text x="411.0" y="837.76" font-size="11.5" text-anchor="end" fill="#1a1a1a" stroke="#1a1a1a" stroke-width="0.2" >1</text>
<line x1="416.20000000000005" y1="860.6800000000001" x2="420.6" y2="860.6800000000001" stroke="#111" stroke-width="1.3" />
<text x="411.0" y="864.68" font-size="11.5" text-anchor="end" fill="#1a1a1a" stroke="#1a1a1a" stroke-width="0.2" >0.1</text>
<line x1="416.20000000000005" y1="887.6" x2="420.6" y2="887.6" stroke="#111" stroke-width="1.3" />
<text x="411.0" y="891.6" font-size="11.5" text-anchor="end" fill="#1a1a1a" stroke="#1a1a1a" stroke-width="0.2" >0.01</text>
<line x1="446.3" y1="887.6" x2="446.3" y2="892.1" stroke="#111" stroke-width="1.3" />
<line x1="485.1" y1="887.6" x2="485.1" y2="892.1" stroke="#111" stroke-width="1.3" />
<text x="446.3" y="906.8" font-size="12" text-anchor="middle" fill="#1a1a1a" stroke="#1a1a1a" stroke-width="0.2" textLength="33.3" lengthAdjust="spacingAndGlyphs" >Serum</text>
<text x="485.3" y="906.8" font-size="12" text-anchor="middle" fill="#1a1a1a" stroke="#1a1a1a" stroke-width="0.2" textLength="21.6" lengthAdjust="spacingAndGlyphs" >CSF</text>
<line x1="446.3" y1="801.0" x2="485.1" y2="779.0" stroke="#0e4886" stroke-width="1.4" />
<line x1="446.3" y1="810.2" x2="485.1" y2="788.2" stroke="#0e4886" stroke-width="1.4" />
<line x1="446.3" y1="811.7" x2="485.1" y2="822.9" stroke="#0e4886" stroke-width="1.4" />
<line x1="446.3" y1="820.0" x2="485.1" y2="820.3" stroke="#0e4886" stroke-width="1.4" />
<line x1="446.3" y1="825.1" x2="485.1" y2="875.3" stroke="#0e4886" stroke-width="1.4" />
<line x1="446.3" y1="831.4" x2="485.1" y2="834.0" stroke="#0e4886" stroke-width="1.4" />
<circle cx="446.30" cy="801.00" r="2.35" fill="#0e4886"/>
<circle cx="485.10" cy="779.00" r="2.35" fill="#0e4886"/>
<circle cx="446.30" cy="810.20" r="2.35" fill="#0e4886"/>
<circle cx="485.10" cy="788.20" r="2.35" fill="#0e4886"/>
<circle cx="446.30" cy="811.70" r="2.35" fill="#0e4886"/>
<circle cx="485.10" cy="822.90" r="2.35" fill="#0e4886"/>
<circle cx="446.30" cy="820.00" r="2.35" fill="#0e4886"/>
<circle cx="485.10" cy="820.30" r="2.35" fill="#0e4886"/>
<circle cx="446.30" cy="825.10" r="2.35" fill="#0e4886"/>
<circle cx="485.10" cy="875.30" r="2.35" fill="#0e4886"/>
<circle cx="446.30" cy="831.40" r="2.35" fill="#0e4886"/>
<circle cx="485.10" cy="834.00" r="2.35" fill="#0e4886"/>
<line x1="446.3" y1="817.3" x2="485.1" y2="765.0" stroke="#c8102e" stroke-width="1.4" />
<circle cx="446.30" cy="817.30" r="2.35" fill="#c8102e"/>
<circle cx="485.10" cy="765.00" r="2.35" fill="#c8102e"/>
<rect x="1" y="1" width="518" height="915" fill="none" stroke="#000" stroke-width="2"/>
</svg>
</body></html>
